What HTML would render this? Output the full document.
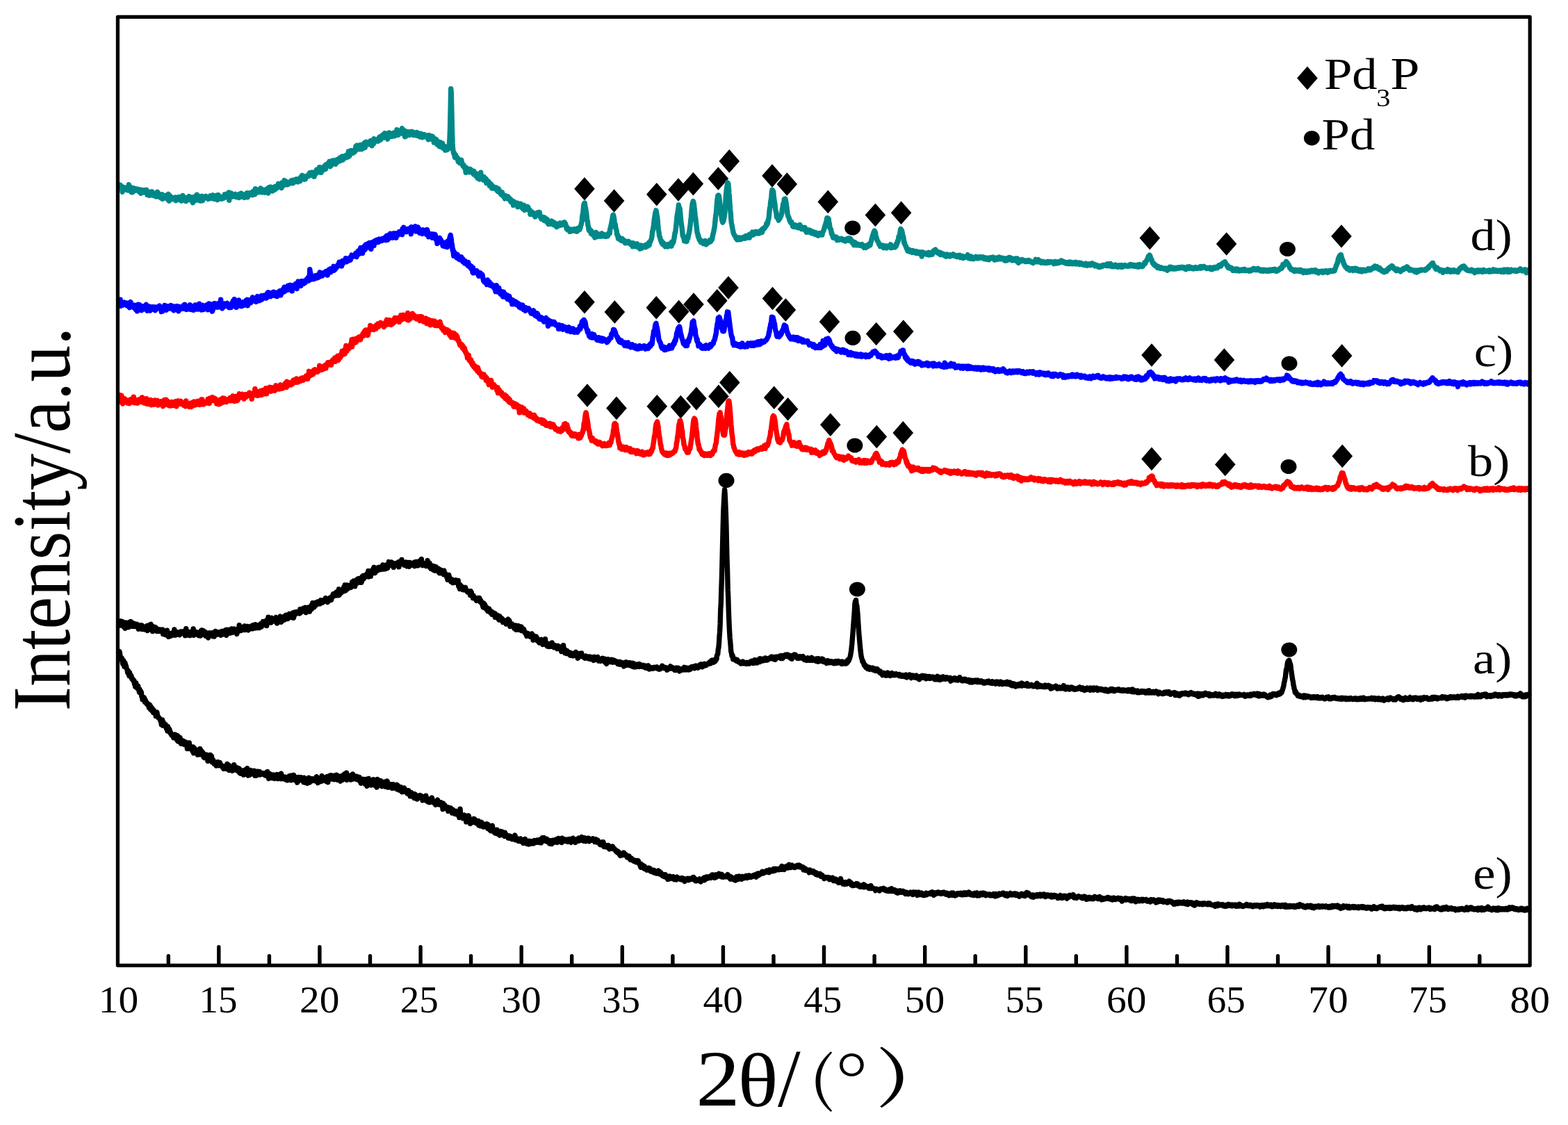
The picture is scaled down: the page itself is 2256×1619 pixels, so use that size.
<!DOCTYPE html>
<html lang="en"><head><meta charset="utf-8"><title>XRD patterns</title>
<style>html,body{margin:0;padding:0;background:#fff}body{width:2256px;height:1619px;overflow:hidden}svg{display:block}text{font-family:"Liberation Serif","Noto Serif CJK SC",serif;fill:#000}</style></head><body>
<svg width="2256" height="1619" viewBox="0 0 2256 1619">
<rect x="0" y="0" width="2256" height="1619" fill="#ffffff"/>
<g fill="#000">
<path d="M841.0 255.0l14.8 16.8l-14.8 16.8l-14.8 -16.8z"/>
<path d="M883.6 272.2l14.8 16.8l-14.8 16.8l-14.8 -16.8z"/>
<path d="M944.8 262.9l14.8 16.8l-14.8 16.8l-14.8 -16.8z"/>
<path d="M976.0 256.2l14.8 16.8l-14.8 16.8l-14.8 -16.8z"/>
<path d="M997.4 247.8l14.8 16.8l-14.8 16.8l-14.8 -16.8z"/>
<path d="M1033.4 240.2l14.8 16.8l-14.8 16.8l-14.8 -16.8z"/>
<path d="M1049.3 215.1l14.8 16.8l-14.8 16.8l-14.8 -16.8z"/>
<path d="M1111.0 236.2l14.8 16.8l-14.8 16.8l-14.8 -16.8z"/>
<path d="M1132.3 248.2l14.8 16.8l-14.8 16.8l-14.8 -16.8z"/>
<path d="M1191.3 273.6l14.8 16.8l-14.8 16.8l-14.8 -16.8z"/>
<path d="M1259.4 292.7l14.8 16.8l-14.8 16.8l-14.8 -16.8z"/>
<path d="M1296.6 289.5l14.8 16.8l-14.8 16.8l-14.8 -16.8z"/>
<path d="M1654.3 325.8l14.8 16.8l-14.8 16.8l-14.8 -16.8z"/>
<path d="M1764.6 334.2l14.8 16.8l-14.8 16.8l-14.8 -16.8z"/>
<path d="M1930.0 323.2l14.8 16.8l-14.8 16.8l-14.8 -16.8z"/>
<path d="M841.0 418.0l14.8 16.8l-14.8 16.8l-14.8 -16.8z"/>
<path d="M884.4 432.2l14.8 16.8l-14.8 16.8l-14.8 -16.8z"/>
<path d="M944.3 426.0l14.8 16.8l-14.8 16.8l-14.8 -16.8z"/>
<path d="M976.7 431.8l14.8 16.8l-14.8 16.8l-14.8 -16.8z"/>
<path d="M998.0 421.2l14.8 16.8l-14.8 16.8l-14.8 -16.8z"/>
<path d="M1031.8 415.9l14.8 16.8l-14.8 16.8l-14.8 -16.8z"/>
<path d="M1048.0 397.2l14.8 16.8l-14.8 16.8l-14.8 -16.8z"/>
<path d="M1111.5 412.7l14.8 16.8l-14.8 16.8l-14.8 -16.8z"/>
<path d="M1130.4 429.2l14.8 16.8l-14.8 16.8l-14.8 -16.8z"/>
<path d="M1193.5 446.2l14.8 16.8l-14.8 16.8l-14.8 -16.8z"/>
<path d="M1260.7 463.7l14.8 16.8l-14.8 16.8l-14.8 -16.8z"/>
<path d="M1299.8 460.2l14.8 16.8l-14.8 16.8l-14.8 -16.8z"/>
<path d="M1657.0 494.2l14.8 16.8l-14.8 16.8l-14.8 -16.8z"/>
<path d="M1761.4 501.2l14.8 16.8l-14.8 16.8l-14.8 -16.8z"/>
<path d="M1930.7 495.2l14.8 16.8l-14.8 16.8l-14.8 -16.8z"/>
<path d="M845.0 552.2l14.8 16.8l-14.8 16.8l-14.8 -16.8z"/>
<path d="M887.0 570.6l14.8 16.8l-14.8 16.8l-14.8 -16.8z"/>
<path d="M945.3 568.0l14.8 16.8l-14.8 16.8l-14.8 -16.8z"/>
<path d="M979.4 568.8l14.8 16.8l-14.8 16.8l-14.8 -16.8z"/>
<path d="M1002.0 556.8l14.8 16.8l-14.8 16.8l-14.8 -16.8z"/>
<path d="M1033.9 553.6l14.8 16.8l-14.8 16.8l-14.8 -16.8z"/>
<path d="M1049.8 533.7l14.8 16.8l-14.8 16.8l-14.8 -16.8z"/>
<path d="M1113.7 555.5l14.8 16.8l-14.8 16.8l-14.8 -16.8z"/>
<path d="M1133.6 572.0l14.8 16.8l-14.8 16.8l-14.8 -16.8z"/>
<path d="M1194.8 594.4l14.8 16.8l-14.8 16.8l-14.8 -16.8z"/>
<path d="M1261.3 611.7l14.8 16.8l-14.8 16.8l-14.8 -16.8z"/>
<path d="M1299.3 606.1l14.8 16.8l-14.8 16.8l-14.8 -16.8z"/>
<path d="M1657.0 643.6l14.8 16.8l-14.8 16.8l-14.8 -16.8z"/>
<path d="M1762.8 651.6l14.8 16.8l-14.8 16.8l-14.8 -16.8z"/>
<path d="M1931.3 639.6l14.8 16.8l-14.8 16.8l-14.8 -16.8z"/>
<ellipse cx="1226.7" cy="328.0" rx="11.5" ry="10.6"/>
<ellipse cx="1852.4" cy="358.5" rx="11.5" ry="10.6"/>
<ellipse cx="1227.0" cy="486.4" rx="11.5" ry="10.6"/>
<ellipse cx="1855.0" cy="523.0" rx="11.5" ry="10.6"/>
<ellipse cx="1229.9" cy="641.0" rx="11.5" ry="10.6"/>
<ellipse cx="1854.0" cy="671.5" rx="11.5" ry="10.6"/>
<ellipse cx="1045.0" cy="691.4" rx="11.5" ry="10.6"/>
<ellipse cx="1233.4" cy="848.0" rx="11.5" ry="10.6"/>
<ellipse cx="1854.8" cy="935.0" rx="11.5" ry="10.6"/>
</g>
<g fill="none" stroke-width="7.4" stroke-linejoin="round" stroke-linecap="round">
<polyline stroke="#000000" points="171.4,937.4 172.0,937.8 172.6,941.8 173.1,944.8 173.7,947.9 174.3,946.9 174.9,946.7 175.5,947.4 176.0,952.1 176.6,955.2 177.2,953.1 177.8,950.7 178.4,952.3 178.9,959.2 179.5,957.2 180.1,954.1 180.7,959.2 181.3,958.2 181.8,960.9 182.4,962.6 183.0,963.5 183.6,967.7 184.2,967.6 184.7,965.6 185.3,970.7 185.9,972.6 186.5,967.7 187.1,971.7 187.6,970.9 188.2,973.7 188.8,972.2 189.4,976.3 190.0,977.3 190.5,977.8 191.1,977.2 191.7,979.6 192.3,979.1 192.9,979.4 193.4,984.0 194.0,981.9 194.6,988.1 195.2,988.1 195.8,983.0 196.3,989.1 196.9,986.9 197.5,990.4 198.1,991.1 198.7,987.2 199.2,991.9 199.8,992.6 200.4,996.1 201.0,991.9 201.6,997.1 202.1,993.8 202.7,996.4 203.3,996.3 203.9,1002.5 204.5,1001.4 205.0,1006.7 205.6,1003.6 206.2,1005.1 206.8,1006.2 207.4,1003.9 207.9,1006.1 208.5,1010.3 209.1,1007.2 209.7,1009.6 210.3,1010.1 210.8,1012.5 211.4,1011.3 212.0,1012.7 212.6,1014.5 213.2,1015.0 213.7,1013.5 214.3,1018.2 214.9,1013.8 215.5,1014.6 216.1,1015.1 216.6,1020.9 217.2,1018.6 217.8,1018.1 218.4,1018.5 219.0,1022.9 219.5,1020.3 220.1,1020.5 220.7,1025.6 221.3,1022.1 221.9,1024.7 222.4,1026.0 223.0,1025.5 223.6,1026.9 224.2,1030.6 224.8,1026.9 225.3,1025.8 225.9,1025.2 226.5,1029.7 227.1,1030.3 227.7,1032.7 228.2,1032.1 228.8,1033.1 229.4,1033.5 230.0,1034.8 230.6,1037.0 231.1,1036.4 231.7,1038.1 232.3,1042.7 232.9,1040.0 233.5,1036.0 234.0,1044.1 234.6,1041.6 235.2,1039.4 235.8,1044.2 236.4,1042.9 236.9,1042.1 237.5,1042.7 238.1,1042.5 238.7,1045.4 239.3,1048.3 239.8,1045.7 240.4,1048.1 241.0,1052.0 241.6,1045.7 242.2,1049.9 242.7,1049.4 243.3,1048.7 243.9,1049.8 244.5,1053.1 245.1,1055.1 245.6,1053.9 246.2,1056.0 246.8,1058.0 247.4,1057.4 248.0,1058.9 248.5,1058.1 249.1,1058.4 249.7,1061.7 250.3,1059.2 250.9,1058.5 251.4,1060.3 252.0,1057.1 252.6,1058.9 253.2,1062.0 253.8,1062.0 254.3,1064.5 254.9,1061.4 255.5,1058.5 256.1,1066.7 256.7,1065.3 257.2,1061.1 257.8,1067.3 258.4,1064.9 259.0,1061.3 259.6,1065.0 260.1,1065.2 260.7,1070.3 261.3,1065.2 261.9,1066.6 262.5,1066.9 263.0,1066.9 263.6,1066.1 264.2,1069.0 264.8,1071.4 265.4,1070.8 265.9,1067.8 266.5,1067.8 267.1,1071.3 267.7,1070.0 268.3,1070.7 268.8,1068.9 269.4,1077.6 270.0,1075.7 270.6,1071.7 271.2,1076.2 271.7,1077.4 272.3,1068.9 272.9,1073.1 273.5,1073.5 274.1,1075.9 274.6,1074.4 275.2,1074.4 275.8,1075.2 276.4,1079.9 277.0,1081.1 277.5,1075.5 278.1,1075.1 278.7,1083.9 279.3,1076.1 279.9,1077.5 280.4,1079.4 281.0,1080.8 281.6,1082.5 282.2,1081.5 282.8,1079.1 283.3,1082.6 283.9,1082.3 284.5,1086.2 285.1,1082.1 285.7,1079.2 286.2,1080.0 286.8,1085.7 287.4,1081.1 288.0,1077.6 288.6,1081.2 289.1,1082.7 289.7,1085.7 290.3,1081.0 290.9,1085.2 291.5,1086.0 292.0,1083.2 292.6,1085.0 293.2,1090.0 293.8,1090.5 294.4,1088.9 294.9,1088.0 295.5,1090.1 296.1,1087.4 296.7,1087.7 297.3,1086.2 297.8,1088.3 298.4,1088.4 299.0,1095.3 299.6,1088.9 300.2,1092.7 300.7,1093.3 301.3,1090.3 301.9,1093.8 302.5,1086.5 303.1,1092.1 303.6,1094.4 304.2,1087.6 304.8,1091.0 305.4,1096.8 306.0,1094.5 306.5,1093.3 307.1,1095.7 307.7,1095.9 308.3,1099.4 308.9,1099.2 309.4,1097.9 310.0,1097.2 310.6,1098.8 311.2,1102.0 311.8,1099.8 312.3,1100.6 312.9,1099.0 313.5,1096.6 314.1,1098.2 314.7,1101.7 315.2,1100.8 315.8,1098.9 316.4,1097.5 317.0,1101.7 317.6,1100.9 318.1,1101.0 318.7,1101.2 319.3,1102.8 319.9,1103.0 320.5,1104.8 321.0,1105.0 321.6,1106.3 322.2,1105.4 322.8,1103.1 323.4,1104.0 323.9,1105.3 324.5,1103.4 325.1,1105.2 325.7,1106.4 326.3,1101.7 326.8,1099.4 327.4,1106.2 328.0,1103.6 328.6,1105.4 329.2,1101.2 329.7,1108.6 330.3,1106.7 330.9,1105.2 331.5,1105.0 332.1,1106.4 332.6,1105.9 333.2,1105.8 333.8,1103.9 334.4,1109.4 335.0,1106.3 335.5,1106.5 336.1,1106.4 336.7,1100.7 337.3,1107.2 337.9,1105.2 338.4,1105.3 339.0,1106.2 339.6,1104.0 340.2,1108.4 340.8,1105.1 341.3,1105.0 341.9,1105.5 342.5,1108.2 343.1,1110.0 343.7,1107.4 344.2,1105.9 344.8,1112.2 345.4,1107.7 346.0,1113.2 346.6,1110.5 347.1,1109.1 347.7,1109.1 348.3,1111.5 348.9,1112.3 349.5,1109.7 350.0,1112.4 350.6,1115.1 351.2,1110.1 351.8,1108.2 352.4,1108.7 352.9,1108.2 353.5,1110.2 354.1,1110.1 354.7,1108.8 355.3,1112.9 355.8,1105.6 356.4,1108.4 357.0,1116.0 357.6,1113.7 358.2,1112.6 358.7,1112.4 359.3,1115.3 359.9,1112.5 360.5,1111.4 361.1,1108.5 361.6,1111.2 362.2,1109.8 362.8,1110.1 363.4,1110.2 364.0,1111.9 364.5,1111.3 365.1,1114.1 365.7,1109.1 366.3,1111.7 366.9,1116.4 367.4,1112.4 368.0,1115.2 368.6,1115.3 369.2,1116.0 369.8,1114.9 370.3,1110.3 370.9,1113.0 371.5,1113.0 372.1,1110.4 372.7,1113.1 373.2,1111.4 373.8,1110.6 374.4,1115.0 375.0,1114.5 375.6,1113.0 376.1,1112.3 376.7,1113.0 377.3,1113.2 377.9,1113.0 378.5,1113.7 379.0,1112.8 379.6,1114.8 380.2,1115.2 380.8,1115.0 381.4,1112.9 381.9,1113.3 382.5,1116.1 383.1,1115.1 383.7,1115.9 384.3,1110.7 384.8,1110.6 385.4,1117.8 386.0,1117.9 386.6,1120.4 387.2,1118.9 387.7,1117.7 388.3,1117.3 388.9,1114.0 389.5,1119.5 390.1,1116.3 390.6,1118.9 391.2,1118.3 391.8,1118.4 392.4,1119.7 393.0,1116.4 393.5,1116.5 394.1,1115.2 394.7,1116.1 395.3,1120.6 395.9,1115.9 396.4,1119.4 397.0,1118.7 397.6,1118.5 398.2,1118.7 398.8,1114.6 399.3,1117.9 399.9,1120.7 400.5,1115.6 401.1,1117.2 401.7,1115.7 402.2,1117.9 402.8,1114.6 403.4,1120.6 404.0,1115.9 404.6,1113.2 405.1,1120.9 405.7,1119.3 406.3,1118.5 406.9,1119.0 407.5,1117.4 408.0,1118.1 408.6,1120.6 409.2,1121.2 409.8,1121.4 410.4,1119.8 410.9,1118.3 411.5,1119.1 412.1,1122.1 412.7,1122.9 413.3,1118.9 413.8,1118.7 414.4,1122.7 415.0,1121.6 415.6,1121.6 416.2,1117.1 416.7,1119.2 417.3,1118.9 417.9,1120.5 418.5,1116.2 419.1,1122.8 419.6,1120.5 420.2,1120.6 420.8,1116.7 421.4,1119.2 422.0,1122.1 422.5,1115.4 423.1,1119.8 423.7,1120.8 424.3,1117.9 424.9,1121.7 425.4,1119.5 426.0,1123.5 426.6,1122.3 427.2,1122.0 427.8,1126.2 428.3,1123.5 428.9,1124.4 429.5,1118.5 430.1,1119.6 430.7,1122.9 431.2,1123.0 431.8,1120.8 432.4,1122.8 433.0,1118.8 433.6,1121.9 434.1,1119.1 434.7,1122.7 435.3,1120.9 435.9,1120.4 436.5,1121.9 437.0,1125.7 437.6,1119.2 438.2,1120.2 438.8,1124.2 439.4,1121.0 439.9,1126.4 440.5,1123.2 441.1,1123.2 441.7,1124.1 442.3,1127.3 442.8,1124.8 443.4,1124.4 444.0,1123.6 444.6,1119.3 445.2,1120.7 445.7,1126.0 446.3,1124.4 446.9,1123.7 447.5,1124.0 448.1,1121.4 448.6,1123.4 449.2,1120.7 449.8,1123.6 450.4,1121.0 451.0,1122.0 451.5,1123.3 452.1,1121.3 452.7,1123.3 453.3,1122.7 453.9,1122.3 454.4,1124.3 455.0,1117.9 455.6,1117.7 456.2,1122.9 456.8,1123.9 457.3,1126.7 457.9,1124.1 458.5,1124.6 459.1,1120.9 459.7,1124.9 460.2,1124.9 460.8,1121.1 461.4,1121.6 462.0,1123.4 462.6,1124.2 463.1,1116.6 463.7,1123.3 464.3,1123.4 464.9,1122.1 465.5,1122.8 466.0,1122.9 466.6,1119.2 467.2,1122.2 467.8,1120.5 468.4,1118.8 468.9,1121.4 469.5,1124.4 470.1,1117.8 470.7,1117.5 471.3,1117.6 471.8,1125.9 472.4,1120.8 473.0,1121.2 473.6,1119.4 474.2,1118.9 474.7,1116.2 475.3,1121.0 475.9,1121.0 476.5,1115.6 477.1,1117.4 477.6,1117.8 478.2,1119.2 478.8,1119.5 479.4,1121.3 480.0,1121.7 480.5,1121.0 481.1,1121.6 481.7,1116.0 482.3,1117.5 482.9,1121.6 483.4,1119.8 484.0,1119.5 484.6,1115.3 485.2,1116.0 485.8,1122.3 486.3,1121.8 486.9,1120.7 487.5,1120.6 488.1,1117.5 488.7,1122.0 489.2,1123.2 489.8,1124.1 490.4,1119.9 491.0,1118.8 491.6,1116.4 492.1,1121.4 492.7,1122.5 493.3,1117.3 493.9,1119.5 494.5,1119.4 495.0,1118.1 495.6,1114.0 496.2,1118.9 496.8,1121.2 497.4,1116.6 497.9,1117.9 498.5,1112.2 499.1,1122.5 499.7,1120.5 500.3,1119.4 500.8,1118.5 501.4,1117.6 502.0,1118.7 502.6,1118.0 503.2,1118.1 503.7,1118.5 504.3,1118.9 504.9,1122.2 505.5,1115.5 506.1,1119.5 506.6,1117.6 507.2,1116.6 507.8,1114.0 508.4,1121.0 509.0,1117.5 509.5,1118.1 510.1,1120.8 510.7,1117.2 511.3,1119.7 511.9,1119.3 512.4,1121.2 513.0,1121.6 513.6,1117.3 514.2,1121.5 514.8,1119.4 515.3,1120.3 515.9,1120.0 516.5,1122.6 517.1,1118.5 517.7,1122.3 518.2,1124.7 518.8,1121.6 519.4,1127.2 520.0,1121.2 520.6,1123.7 521.1,1122.3 521.7,1122.2 522.3,1121.3 522.9,1122.8 523.5,1124.1 524.0,1122.5 524.6,1126.5 525.2,1128.2 525.8,1121.5 526.4,1127.1 526.9,1125.9 527.5,1126.2 528.1,1131.3 528.7,1128.4 529.3,1126.3 529.8,1125.8 530.4,1120.4 531.0,1127.1 531.6,1123.6 532.2,1125.7 532.7,1125.6 533.3,1127.6 533.9,1130.0 534.5,1127.6 535.1,1128.2 535.6,1124.6 536.2,1126.1 536.8,1126.8 537.4,1121.8 538.0,1129.8 538.5,1123.6 539.1,1122.4 539.7,1129.2 540.3,1130.4 540.9,1124.1 541.4,1124.4 542.0,1133.0 542.6,1126.2 543.2,1121.5 543.8,1124.8 544.3,1130.9 544.9,1128.1 545.5,1124.5 546.1,1129.7 546.7,1128.6 547.2,1126.4 547.8,1123.6 548.4,1128.4 549.0,1125.0 549.6,1127.5 550.1,1131.7 550.7,1129.0 551.3,1128.1 551.9,1128.2 552.5,1129.8 553.0,1130.3 553.6,1125.2 554.2,1128.6 554.8,1132.0 555.4,1129.8 555.9,1126.5 556.5,1126.8 557.1,1124.0 557.7,1127.2 558.3,1133.1 558.8,1129.7 559.4,1128.3 560.0,1129.2 560.6,1130.5 561.2,1130.6 561.7,1130.0 562.3,1129.0 562.9,1132.2 563.5,1134.3 564.1,1129.8 564.6,1130.1 565.2,1134.3 565.8,1128.6 566.4,1130.9 567.0,1131.7 567.5,1133.3 568.1,1132.6 568.7,1131.4 569.3,1134.2 569.9,1131.0 570.4,1129.9 571.0,1129.4 571.6,1135.8 572.2,1130.4 572.8,1135.5 573.3,1136.2 573.9,1136.8 574.5,1134.9 575.1,1134.3 575.7,1135.8 576.2,1134.4 576.8,1132.8 577.4,1138.4 578.0,1133.6 578.6,1139.7 579.1,1136.9 579.7,1135.0 580.3,1137.2 580.9,1139.4 581.5,1134.0 582.0,1135.5 582.6,1135.7 583.2,1138.7 583.8,1139.5 584.4,1138.9 584.9,1137.5 585.5,1138.1 586.1,1142.2 586.7,1142.3 587.3,1140.5 587.8,1137.7 588.4,1142.4 589.0,1142.0 589.6,1142.3 590.2,1145.8 590.7,1144.0 591.3,1140.3 591.9,1140.6 592.5,1146.0 593.1,1143.8 593.6,1145.8 594.2,1144.0 594.8,1142.6 595.4,1145.6 596.0,1148.6 596.5,1146.0 597.1,1142.8 597.7,1144.6 598.3,1144.1 598.9,1145.7 599.4,1147.7 600.0,1150.1 600.6,1146.6 601.2,1145.4 601.8,1146.7 602.3,1146.8 602.9,1145.9 603.5,1146.9 604.1,1147.0 604.7,1144.5 605.2,1148.4 605.8,1146.7 606.4,1145.5 607.0,1148.9 607.6,1147.0 608.1,1151.9 608.7,1149.3 609.3,1148.5 609.9,1146.8 610.5,1147.7 611.0,1150.6 611.6,1147.5 612.2,1151.0 612.8,1145.2 613.4,1150.6 613.9,1152.4 614.5,1151.8 615.1,1151.5 615.7,1153.9 616.3,1150.0 616.8,1149.9 617.4,1152.3 618.0,1154.7 618.6,1153.2 619.2,1152.1 619.7,1153.4 620.3,1154.0 620.9,1150.9 621.5,1148.0 622.1,1152.2 622.6,1151.6 623.2,1153.7 623.8,1152.5 624.4,1153.2 625.0,1155.9 625.5,1155.1 626.1,1154.7 626.7,1158.2 627.3,1153.6 627.9,1153.7 628.4,1157.1 629.0,1152.2 629.6,1151.2 630.2,1157.6 630.8,1155.8 631.3,1156.6 631.9,1157.0 632.5,1157.9 633.1,1155.3 633.7,1156.6 634.2,1154.7 634.8,1157.7 635.4,1158.2 636.0,1157.0 636.6,1159.6 637.1,1164.6 637.7,1156.3 638.3,1160.8 638.9,1161.5 639.5,1162.2 640.0,1158.7 640.6,1163.4 641.2,1162.6 641.8,1161.4 642.4,1161.2 642.9,1162.7 643.5,1164.2 644.1,1164.2 644.7,1167.3 645.3,1162.0 645.8,1164.4 646.4,1162.6 647.0,1165.6 647.6,1164.9 648.2,1163.9 648.7,1163.0 649.3,1164.6 649.9,1167.2 650.5,1170.1 651.1,1168.9 651.6,1165.1 652.2,1166.9 652.8,1168.4 653.4,1168.5 654.0,1169.4 654.5,1171.4 655.1,1170.7 655.7,1169.4 656.3,1167.3 656.9,1170.9 657.4,1168.4 658.0,1171.6 658.6,1172.7 659.2,1169.4 659.8,1171.9 660.3,1171.7 660.9,1176.5 661.5,1173.9 662.1,1164.1 662.7,1174.9 663.2,1175.3 663.8,1174.6 664.4,1174.8 665.0,1177.2 665.6,1177.6 666.1,1177.2 666.7,1174.3 667.3,1175.8 667.9,1173.1 668.5,1173.3 669.0,1175.5 669.6,1174.8 670.2,1176.6 670.8,1182.9 671.4,1179.2 671.9,1176.7 672.5,1174.3 673.1,1176.9 673.7,1175.6 674.3,1173.9 674.8,1179.8 675.4,1177.4 676.0,1179.6 676.6,1185.3 677.2,1180.1 677.7,1180.2 678.3,1181.1 678.9,1180.2 679.5,1179.3 680.1,1180.6 680.6,1183.4 681.2,1180.6 681.8,1178.4 682.4,1178.6 683.0,1179.2 683.5,1181.4 684.1,1182.6 684.7,1183.0 685.3,1184.8 685.9,1182.5 686.4,1185.1 687.0,1184.6 687.6,1185.9 688.2,1181.3 688.8,1187.7 689.3,1182.2 689.9,1183.0 690.5,1186.7 691.1,1184.4 691.7,1188.7 692.2,1185.6 692.8,1183.4 693.4,1186.0 694.0,1185.2 694.6,1189.4 695.1,1189.9 695.7,1188.4 696.3,1186.4 696.9,1187.6 697.5,1189.7 698.0,1186.3 698.6,1186.6 699.2,1190.3 699.8,1190.5 700.4,1185.7 700.9,1189.1 701.5,1186.1 702.1,1192.4 702.7,1190.1 703.3,1187.8 703.8,1188.5 704.4,1189.2 705.0,1194.6 705.6,1192.9 706.2,1189.3 706.7,1195.9 707.3,1195.2 707.9,1190.9 708.5,1188.2 709.1,1195.7 709.6,1193.1 710.2,1194.5 710.8,1194.2 711.4,1198.1 712.0,1198.9 712.5,1197.8 713.1,1196.2 713.7,1197.3 714.3,1198.2 714.9,1194.2 715.4,1199.8 716.0,1197.0 716.6,1198.4 717.2,1198.3 717.8,1199.8 718.3,1200.1 718.9,1202.3 719.5,1197.4 720.1,1196.4 720.7,1198.4 721.2,1197.0 721.8,1200.0 722.4,1197.0 723.0,1199.0 723.6,1200.8 724.1,1201.4 724.7,1200.3 725.3,1203.1 725.9,1203.4 726.5,1198.2 727.0,1202.5 727.6,1202.5 728.2,1201.9 728.8,1201.5 729.4,1202.9 729.9,1203.7 730.5,1203.8 731.1,1206.1 731.7,1205.7 732.3,1203.1 732.8,1203.0 733.4,1206.2 734.0,1203.4 734.6,1205.0 735.2,1205.6 735.7,1206.7 736.3,1205.8 736.9,1207.7 737.5,1204.3 738.1,1206.6 738.6,1204.4 739.2,1206.2 739.8,1206.4 740.4,1204.8 741.0,1202.0 741.5,1208.8 742.1,1207.9 742.7,1207.6 743.3,1206.2 743.9,1207.0 744.4,1208.6 745.0,1208.0 745.6,1210.4 746.2,1208.8 746.8,1207.5 747.3,1210.6 747.9,1208.6 748.5,1210.5 749.1,1206.9 749.7,1209.6 750.2,1211.2 750.8,1208.8 751.4,1209.9 752.0,1211.0 752.6,1210.1 753.1,1213.4 753.7,1209.9 754.3,1210.3 754.9,1210.7 755.5,1207.5 756.0,1208.5 756.6,1212.4 757.2,1211.0 757.8,1214.2 758.4,1211.5 758.9,1211.4 759.5,1213.7 760.1,1212.4 760.7,1214.9 761.3,1210.2 761.8,1213.0 762.4,1213.4 763.0,1213.2 763.6,1214.2 764.2,1213.9 764.7,1212.0 765.3,1210.8 765.9,1213.4 766.5,1211.6 767.1,1213.2 767.6,1213.8 768.2,1211.6 768.8,1209.5 769.4,1210.5 770.0,1212.2 770.5,1210.1 771.1,1212.5 771.7,1210.2 772.3,1210.3 772.9,1209.0 773.4,1210.0 774.0,1212.3 774.6,1210.0 775.2,1210.2 775.8,1209.6 776.3,1212.4 776.9,1208.3 777.5,1209.7 778.1,1212.2 778.7,1212.8 779.2,1209.5 779.8,1211.2 780.4,1205.7 781.0,1210.4 781.6,1209.4 782.1,1206.6 782.7,1205.6 783.3,1207.9 783.9,1209.3 784.5,1209.6 785.0,1209.3 785.6,1210.7 786.2,1210.8 786.8,1207.3 787.4,1209.1 787.9,1209.0 788.5,1211.8 789.1,1209.2 789.7,1211.9 790.3,1210.2 790.8,1214.1 791.4,1209.8 792.0,1209.9 792.6,1209.8 793.2,1210.4 793.7,1214.5 794.3,1209.7 794.9,1209.3 795.5,1210.7 796.1,1212.3 796.6,1209.5 797.2,1212.4 797.8,1212.4 798.4,1210.1 799.0,1209.6 799.5,1208.4 800.1,1209.1 800.7,1208.1 801.3,1211.6 801.9,1212.3 802.4,1209.1 803.0,1209.6 803.6,1206.5 804.2,1209.0 804.8,1210.5 805.3,1210.5 805.9,1210.3 806.5,1211.5 807.1,1210.2 807.7,1209.3 808.2,1212.5 808.8,1206.3 809.4,1207.3 810.0,1207.8 810.6,1207.7 811.1,1207.6 811.7,1208.5 812.3,1207.8 812.9,1209.1 813.5,1210.5 814.0,1209.8 814.6,1210.2 815.2,1208.5 815.8,1208.2 816.4,1210.6 816.9,1211.4 817.5,1210.2 818.1,1211.1 818.7,1210.7 819.3,1210.7 819.8,1207.4 820.4,1210.9 821.0,1210.1 821.6,1212.4 822.2,1210.1 822.7,1209.7 823.3,1208.9 823.9,1209.3 824.5,1206.2 825.1,1208.5 825.6,1208.8 826.2,1210.7 826.8,1208.1 827.4,1209.6 828.0,1212.5 828.5,1208.6 829.1,1210.6 829.7,1208.0 830.3,1208.4 830.9,1208.9 831.4,1209.4 832.0,1207.0 832.6,1206.1 833.2,1210.2 833.8,1208.1 834.3,1209.1 834.9,1209.3 835.5,1208.9 836.1,1207.1 836.7,1207.1 837.2,1204.6 837.8,1207.2 838.4,1206.2 839.0,1207.0 839.6,1210.2 840.1,1208.5 840.7,1207.7 841.3,1205.7 841.9,1209.2 842.5,1210.7 843.0,1207.1 843.6,1209.2 844.2,1207.8 844.8,1208.5 845.4,1208.2 845.9,1206.2 846.5,1208.0 847.1,1206.2 847.7,1210.9 848.3,1210.3 848.8,1208.7 849.4,1209.1 850.0,1208.8 850.6,1209.1 851.2,1209.2 851.7,1208.5 852.3,1208.6 852.9,1206.8 853.5,1207.3 854.1,1207.8 854.6,1209.0 855.2,1208.0 855.8,1211.5 856.4,1208.2 857.0,1207.9 857.5,1209.2 858.1,1210.4 858.7,1212.0 859.3,1211.0 859.9,1209.1 860.4,1210.2 861.0,1212.7 861.6,1212.1 862.2,1213.5 862.8,1212.6 863.3,1215.6 863.9,1215.7 864.5,1215.5 865.1,1214.3 865.7,1212.0 866.2,1212.8 866.8,1215.7 867.4,1216.7 868.0,1211.7 868.6,1215.8 869.1,1218.5 869.7,1218.5 870.3,1216.4 870.9,1218.2 871.5,1217.3 872.0,1216.9 872.6,1219.0 873.2,1219.2 873.8,1217.0 874.4,1216.7 874.9,1216.5 875.5,1216.6 876.1,1220.9 876.7,1221.9 877.3,1219.6 877.8,1221.0 878.4,1218.5 879.0,1219.6 879.6,1221.2 880.2,1220.5 880.7,1220.3 881.3,1218.1 881.9,1218.8 882.5,1220.7 883.1,1220.9 883.6,1222.0 884.2,1221.7 884.8,1222.7 885.4,1223.6 886.0,1224.8 886.5,1224.5 887.1,1224.0 887.7,1224.8 888.3,1227.0 888.9,1225.9 889.4,1225.3 890.0,1225.8 890.6,1228.3 891.2,1229.2 891.8,1230.6 892.3,1228.7 892.9,1231.4 893.5,1229.0 894.1,1229.1 894.7,1228.5 895.2,1230.0 895.8,1230.7 896.4,1229.2 897.0,1228.6 897.6,1227.2 898.1,1229.8 898.7,1229.4 899.3,1229.9 899.9,1229.6 900.5,1229.7 901.0,1230.8 901.6,1232.4 902.2,1233.6 902.8,1232.5 903.4,1233.3 903.9,1232.9 904.5,1233.4 905.1,1232.0 905.7,1235.6 906.3,1235.6 906.8,1237.2 907.4,1234.7 908.0,1236.1 908.6,1235.1 909.2,1237.1 909.7,1236.9 910.3,1238.2 910.9,1237.4 911.5,1238.8 912.1,1237.6 912.6,1239.5 913.2,1238.6 913.8,1238.8 914.4,1239.9 915.0,1240.6 915.5,1238.4 916.1,1238.4 916.7,1241.0 917.3,1240.9 917.9,1238.5 918.4,1239.3 919.0,1241.0 919.6,1243.0 920.2,1243.5 920.8,1245.2 921.3,1246.0 921.9,1248.2 922.5,1243.5 923.1,1245.9 923.7,1247.8 924.2,1245.0 924.8,1245.2 925.4,1247.8 926.0,1249.4 926.6,1250.0 927.1,1246.3 927.7,1247.5 928.3,1249.3 928.9,1248.9 929.5,1250.2 930.0,1250.1 930.6,1252.3 931.2,1249.9 931.8,1250.3 932.4,1250.2 932.9,1251.7 933.5,1249.0 934.1,1251.4 934.7,1250.2 935.3,1249.8 935.8,1253.5 936.4,1252.9 937.0,1254.2 937.6,1252.9 938.2,1253.5 938.7,1252.9 939.3,1253.6 939.9,1252.4 940.5,1255.4 941.1,1252.3 941.6,1255.9 942.2,1253.7 942.8,1255.4 943.4,1254.7 944.0,1255.3 944.5,1256.9 945.1,1255.4 945.7,1254.3 946.3,1256.0 946.9,1256.7 947.4,1252.9 948.0,1257.5 948.6,1257.8 949.2,1254.3 949.8,1256.6 950.3,1258.1 950.9,1255.8 951.5,1257.2 952.1,1257.7 952.7,1259.3 953.2,1260.5 953.8,1259.4 954.4,1259.8 955.0,1261.2 955.6,1260.8 956.1,1260.1 956.7,1262.0 957.3,1258.6 957.9,1260.8 958.5,1260.3 959.0,1260.5 959.6,1261.8 960.2,1262.0 960.8,1265.4 961.4,1263.4 961.9,1263.3 962.5,1265.1 963.1,1264.4 963.7,1260.9 964.3,1263.4 964.8,1264.1 965.4,1262.5 966.0,1263.7 966.6,1262.9 967.2,1264.1 967.7,1261.8 968.3,1261.5 968.9,1263.3 969.5,1264.3 970.1,1265.6 970.6,1263.5 971.2,1262.8 971.8,1264.8 972.4,1263.7 973.0,1266.1 973.5,1264.0 974.1,1262.1 974.7,1263.9 975.3,1263.9 975.9,1263.6 976.4,1264.4 977.0,1264.5 977.6,1264.9 978.2,1264.5 978.8,1265.7 979.3,1265.7 979.9,1265.5 980.5,1265.7 981.1,1263.4 981.7,1263.8 982.2,1264.9 982.8,1266.4 983.4,1264.4 984.0,1265.7 984.6,1266.4 985.1,1268.4 985.7,1266.2 986.3,1265.2 986.9,1267.0 987.5,1265.8 988.0,1265.0 988.6,1266.6 989.2,1264.2 989.8,1265.6 990.4,1265.6 990.9,1266.7 991.5,1264.4 992.1,1264.3 992.7,1265.3 993.3,1265.3 993.8,1265.5 994.4,1264.7 995.0,1265.4 995.6,1265.4 996.2,1264.6 996.7,1262.9 997.3,1265.4 997.9,1262.4 998.5,1264.1 999.1,1265.7 999.6,1264.3 1000.2,1266.8 1000.8,1267.9 1001.4,1267.8 1002.0,1266.8 1002.5,1267.6 1003.1,1266.1 1003.7,1267.2 1004.3,1267.3 1004.9,1266.9 1005.4,1267.0 1006.0,1266.6 1006.6,1264.7 1007.2,1267.3 1007.8,1267.1 1008.3,1269.0 1008.9,1267.3 1009.5,1266.3 1010.1,1267.0 1010.7,1266.4 1011.2,1265.4 1011.8,1264.8 1012.4,1263.5 1013.0,1265.2 1013.6,1266.7 1014.1,1262.8 1014.7,1263.7 1015.3,1265.4 1015.9,1264.6 1016.5,1264.6 1017.0,1261.8 1017.6,1263.0 1018.2,1264.0 1018.8,1263.9 1019.4,1263.5 1019.9,1262.0 1020.5,1263.4 1021.1,1261.3 1021.7,1261.4 1022.3,1260.9 1022.8,1263.4 1023.4,1261.3 1024.0,1261.5 1024.6,1258.9 1025.2,1262.3 1025.7,1261.5 1026.3,1259.2 1026.9,1259.3 1027.5,1262.8 1028.1,1260.2 1028.6,1263.3 1029.2,1261.0 1029.8,1258.9 1030.4,1262.5 1031.0,1261.6 1031.5,1261.5 1032.1,1259.8 1032.7,1259.7 1033.3,1260.6 1033.9,1258.5 1034.4,1257.2 1035.0,1260.3 1035.6,1258.9 1036.2,1261.2 1036.8,1259.7 1037.3,1260.0 1037.9,1260.4 1038.5,1258.3 1039.1,1262.1 1039.7,1260.2 1040.2,1260.6 1040.8,1262.3 1041.4,1260.8 1042.0,1261.6 1042.6,1261.0 1043.1,1261.4 1043.7,1260.8 1044.3,1261.7 1044.9,1260.3 1045.5,1261.0 1046.0,1259.8 1046.6,1262.0 1047.2,1258.6 1047.8,1261.4 1048.4,1261.9 1048.9,1262.2 1049.5,1262.2 1050.1,1264.0 1050.7,1265.1 1051.3,1262.7 1051.8,1261.7 1052.4,1262.8 1053.0,1263.3 1053.6,1264.1 1054.2,1265.2 1054.7,1265.5 1055.3,1263.9 1055.9,1264.3 1056.5,1264.4 1057.1,1263.3 1057.6,1263.8 1058.2,1267.0 1058.8,1264.0 1059.4,1263.1 1060.0,1261.7 1060.5,1264.8 1061.1,1263.2 1061.7,1262.6 1062.3,1265.5 1062.9,1264.3 1063.4,1260.9 1064.0,1262.3 1064.6,1263.7 1065.2,1263.6 1065.8,1261.8 1066.3,1264.9 1066.9,1265.2 1067.5,1262.1 1068.1,1261.4 1068.7,1261.7 1069.2,1263.6 1069.8,1263.9 1070.4,1262.8 1071.0,1261.8 1071.6,1262.2 1072.1,1262.8 1072.7,1261.0 1073.3,1260.5 1073.9,1262.1 1074.5,1263.5 1075.0,1262.3 1075.6,1262.2 1076.2,1261.2 1076.8,1262.7 1077.4,1259.9 1077.9,1261.6 1078.5,1261.0 1079.1,1261.5 1079.7,1260.7 1080.3,1262.4 1080.8,1261.5 1081.4,1260.8 1082.0,1261.8 1082.6,1260.9 1083.2,1260.2 1083.7,1259.9 1084.3,1261.2 1084.9,1259.2 1085.5,1259.9 1086.1,1259.8 1086.6,1260.4 1087.2,1259.8 1087.8,1262.2 1088.4,1257.9 1089.0,1260.1 1089.5,1259.2 1090.1,1260.1 1090.7,1257.1 1091.3,1259.9 1091.9,1257.0 1092.4,1259.0 1093.0,1258.6 1093.6,1257.9 1094.2,1256.8 1094.8,1256.5 1095.3,1257.2 1095.9,1256.0 1096.5,1254.4 1097.1,1254.3 1097.7,1256.9 1098.2,1256.8 1098.8,1256.3 1099.4,1255.6 1100.0,1255.7 1100.6,1255.6 1101.1,1255.1 1101.7,1253.8 1102.3,1253.7 1102.9,1253.1 1103.5,1254.3 1104.0,1253.0 1104.6,1253.7 1105.2,1255.3 1105.8,1253.4 1106.4,1254.9 1106.9,1255.5 1107.5,1251.8 1108.1,1252.1 1108.7,1254.1 1109.3,1252.6 1109.8,1253.7 1110.4,1253.5 1111.0,1251.8 1111.6,1252.9 1112.2,1253.6 1112.7,1252.5 1113.3,1250.4 1113.9,1251.1 1114.5,1250.7 1115.1,1253.0 1115.6,1251.0 1116.2,1250.5 1116.8,1251.2 1117.4,1251.7 1118.0,1250.6 1118.5,1251.1 1119.1,1250.8 1119.7,1251.6 1120.3,1251.8 1120.9,1251.0 1121.4,1250.1 1122.0,1250.9 1122.6,1249.3 1123.2,1251.3 1123.8,1250.2 1124.3,1249.7 1124.9,1246.4 1125.5,1251.4 1126.1,1250.1 1126.7,1249.7 1127.2,1248.4 1127.8,1249.0 1128.4,1251.4 1129.0,1247.5 1129.6,1249.2 1130.1,1249.0 1130.7,1248.4 1131.3,1248.5 1131.9,1246.7 1132.5,1248.3 1133.0,1245.9 1133.6,1249.1 1134.2,1247.8 1134.8,1245.9 1135.4,1244.4 1135.9,1246.9 1136.5,1247.3 1137.1,1245.6 1137.7,1248.6 1138.3,1247.0 1138.8,1246.1 1139.4,1245.0 1140.0,1246.4 1140.6,1246.4 1141.2,1247.4 1141.7,1248.0 1142.3,1246.9 1142.9,1247.5 1143.5,1248.6 1144.1,1247.7 1144.6,1246.6 1145.2,1247.5 1145.8,1246.1 1146.4,1247.1 1147.0,1246.6 1147.5,1245.3 1148.1,1247.2 1148.7,1246.6 1149.3,1247.3 1149.9,1245.0 1150.4,1247.8 1151.0,1247.9 1151.6,1246.3 1152.2,1246.8 1152.8,1247.2 1153.3,1247.5 1153.9,1248.8 1154.5,1247.6 1155.1,1247.6 1155.7,1249.0 1156.2,1251.8 1156.8,1249.6 1157.4,1249.2 1158.0,1249.7 1158.6,1251.2 1159.1,1252.6 1159.7,1250.7 1160.3,1252.0 1160.9,1252.2 1161.5,1252.7 1162.0,1252.5 1162.6,1253.7 1163.2,1253.5 1163.8,1252.3 1164.4,1255.8 1164.9,1251.9 1165.5,1252.1 1166.1,1254.9 1166.7,1254.2 1167.3,1253.9 1167.8,1254.5 1168.4,1255.1 1169.0,1254.0 1169.6,1253.9 1170.2,1253.6 1170.7,1254.0 1171.3,1254.4 1171.9,1256.8 1172.5,1256.3 1173.1,1257.0 1173.6,1256.3 1174.2,1258.5 1174.8,1256.1 1175.4,1258.6 1176.0,1259.1 1176.5,1258.0 1177.1,1257.6 1177.7,1259.2 1178.3,1257.9 1178.9,1257.6 1179.4,1258.5 1180.0,1257.4 1180.6,1258.6 1181.2,1261.2 1181.8,1259.0 1182.3,1260.9 1182.9,1259.4 1183.5,1261.1 1184.1,1261.1 1184.7,1261.6 1185.2,1262.8 1185.8,1264.5 1186.4,1262.3 1187.0,1263.9 1187.6,1263.0 1188.1,1263.6 1188.7,1262.5 1189.3,1262.4 1189.9,1263.2 1190.5,1262.8 1191.0,1263.7 1191.6,1262.6 1192.2,1263.8 1192.8,1264.0 1193.4,1265.7 1193.9,1265.6 1194.5,1264.4 1195.1,1263.5 1195.7,1264.7 1196.3,1265.1 1196.8,1264.3 1197.4,1263.9 1198.0,1263.2 1198.6,1265.3 1199.2,1267.6 1199.7,1265.8 1200.3,1266.6 1200.9,1266.9 1201.5,1267.2 1202.1,1267.7 1202.6,1265.1 1203.2,1267.2 1203.8,1268.0 1204.4,1267.8 1205.0,1269.3 1205.5,1267.8 1206.1,1269.3 1206.7,1270.3 1207.3,1268.3 1207.9,1268.6 1208.4,1268.4 1209.0,1269.6 1209.6,1264.5 1210.2,1267.7 1210.8,1269.1 1211.3,1270.6 1211.9,1270.6 1212.5,1269.4 1213.1,1272.1 1213.7,1270.8 1214.2,1270.3 1214.8,1271.6 1215.4,1272.5 1216.0,1271.1 1216.6,1269.7 1217.1,1270.7 1217.7,1271.3 1218.3,1272.1 1218.9,1270.1 1219.5,1271.3 1220.0,1269.8 1220.6,1271.1 1221.2,1269.7 1221.8,1268.1 1222.4,1269.8 1222.9,1270.6 1223.5,1270.3 1224.1,1270.2 1224.7,1273.6 1225.3,1273.9 1225.8,1273.5 1226.4,1272.8 1227.0,1274.6 1227.6,1272.9 1228.2,1273.5 1228.7,1274.0 1229.3,1273.0 1229.9,1274.1 1230.5,1272.5 1231.1,1272.5 1231.6,1272.9 1232.2,1271.7 1232.8,1272.0 1233.4,1274.0 1234.0,1271.8 1234.5,1274.7 1235.1,1274.1 1235.7,1275.2 1236.3,1274.9 1236.9,1275.0 1237.4,1276.3 1238.0,1274.6 1238.6,1274.7 1239.2,1276.0 1239.8,1274.4 1240.3,1276.1 1240.9,1275.7 1241.5,1274.5 1242.1,1273.8 1242.7,1273.0 1243.2,1276.8 1243.8,1273.6 1244.4,1273.9 1245.0,1276.0 1245.6,1275.8 1246.1,1275.8 1246.7,1275.9 1247.3,1275.8 1247.9,1275.6 1248.5,1276.0 1249.0,1277.5 1249.6,1278.1 1250.2,1278.4 1250.8,1277.3 1251.4,1275.2 1251.9,1277.8 1252.5,1277.1 1253.1,1274.7 1253.7,1278.6 1254.3,1277.7 1254.8,1277.5 1255.4,1277.9 1256.0,1278.1 1256.6,1278.4 1257.2,1278.6 1257.7,1278.8 1258.3,1279.5 1258.9,1279.5 1259.5,1281.6 1260.1,1279.6 1260.6,1279.1 1261.2,1279.1 1261.8,1280.2 1262.4,1280.1 1263.0,1280.4 1263.5,1280.1 1264.1,1280.3 1264.7,1281.3 1265.3,1281.8 1265.9,1280.8 1266.4,1280.2 1267.0,1279.1 1267.6,1278.9 1268.2,1279.9 1268.8,1279.6 1269.3,1279.7 1269.9,1278.8 1270.5,1279.8 1271.1,1278.2 1271.7,1279.0 1272.2,1279.4 1272.8,1280.8 1273.4,1279.8 1274.0,1279.7 1274.6,1280.9 1275.1,1280.8 1275.7,1282.0 1276.3,1281.6 1276.9,1281.7 1277.5,1281.4 1278.0,1282.3 1278.6,1281.0 1279.2,1280.2 1279.8,1282.4 1280.4,1281.1 1280.9,1281.5 1281.5,1282.0 1282.1,1282.3 1282.7,1278.7 1283.3,1280.5 1283.8,1282.6 1284.4,1280.0 1285.0,1282.0 1285.6,1281.3 1286.2,1280.9 1286.7,1281.8 1287.3,1280.5 1287.9,1282.7 1288.5,1283.7 1289.1,1281.6 1289.6,1282.6 1290.2,1284.5 1290.8,1284.0 1291.4,1283.5 1292.0,1285.1 1292.5,1282.2 1293.1,1283.4 1293.7,1283.6 1294.3,1283.1 1294.9,1284.1 1295.4,1281.8 1296.0,1283.3 1296.6,1282.5 1297.2,1284.3 1297.8,1284.1 1298.3,1282.6 1298.9,1282.3 1299.5,1283.4 1300.1,1282.9 1300.7,1283.4 1301.2,1284.6 1301.8,1284.1 1302.4,1286.4 1303.0,1285.0 1303.6,1284.6 1304.1,1284.2 1304.7,1284.9 1305.3,1286.4 1305.9,1285.9 1306.5,1286.8 1307.0,1286.7 1307.6,1286.1 1308.2,1285.0 1308.8,1285.5 1309.4,1285.7 1309.9,1284.1 1310.5,1285.9 1311.1,1284.6 1311.7,1285.4 1312.3,1284.9 1312.8,1285.7 1313.4,1287.4 1314.0,1283.9 1314.6,1284.9 1315.2,1286.7 1315.7,1284.1 1316.3,1284.9 1316.9,1285.1 1317.5,1285.6 1318.1,1284.1 1318.6,1286.0 1319.2,1286.5 1319.8,1288.4 1320.4,1286.2 1321.0,1285.9 1321.5,1286.6 1322.1,1284.1 1322.7,1286.6 1323.3,1287.6 1323.9,1286.0 1324.4,1285.9 1325.0,1285.7 1325.6,1286.1 1326.2,1285.0 1326.8,1287.8 1327.3,1286.3 1327.9,1286.5 1328.5,1288.5 1329.1,1287.1 1329.7,1286.7 1330.2,1288.5 1330.8,1287.1 1331.4,1287.7 1332.0,1286.2 1332.6,1285.0 1333.1,1286.6 1333.7,1287.6 1334.3,1285.7 1334.9,1286.2 1335.5,1286.3 1336.0,1285.7 1336.6,1285.4 1337.2,1286.0 1337.8,1285.6 1338.4,1285.0 1338.9,1286.5 1339.5,1286.4 1340.1,1286.2 1340.7,1286.6 1341.3,1283.7 1341.8,1286.4 1342.4,1286.3 1343.0,1284.5 1343.6,1288.3 1344.2,1286.9 1344.7,1286.2 1345.3,1286.3 1345.9,1286.7 1346.5,1286.3 1347.1,1284.6 1347.6,1285.4 1348.2,1285.8 1348.8,1285.7 1349.4,1285.7 1350.0,1283.9 1350.5,1284.3 1351.1,1285.3 1351.7,1284.6 1352.3,1285.5 1352.9,1284.7 1353.4,1286.1 1354.0,1285.7 1354.6,1286.2 1355.2,1285.6 1355.8,1284.8 1356.3,1284.4 1356.9,1285.4 1357.5,1284.8 1358.1,1284.1 1358.7,1285.0 1359.2,1286.2 1359.8,1286.7 1360.4,1286.4 1361.0,1287.0 1361.6,1285.5 1362.1,1285.8 1362.7,1285.2 1363.3,1285.4 1363.9,1287.6 1364.5,1286.7 1365.0,1286.9 1365.6,1288.8 1366.2,1288.3 1366.8,1285.9 1367.4,1287.6 1367.9,1286.1 1368.5,1287.7 1369.1,1285.1 1369.7,1285.9 1370.3,1285.9 1370.8,1288.4 1371.4,1285.0 1372.0,1287.5 1372.6,1287.5 1373.2,1286.7 1373.7,1287.4 1374.3,1289.0 1374.9,1287.0 1375.5,1286.6 1376.1,1288.1 1376.6,1287.5 1377.2,1285.8 1377.8,1286.9 1378.4,1286.9 1379.0,1285.6 1379.5,1285.7 1380.1,1286.0 1380.7,1285.6 1381.3,1287.3 1381.9,1287.2 1382.4,1285.2 1383.0,1287.0 1383.6,1287.7 1384.2,1286.4 1384.8,1287.3 1385.3,1287.7 1385.9,1285.8 1386.5,1286.8 1387.1,1284.8 1387.7,1287.4 1388.2,1285.9 1388.8,1285.2 1389.4,1284.8 1390.0,1284.9 1390.6,1287.5 1391.1,1285.5 1391.7,1285.7 1392.3,1285.8 1392.9,1284.8 1393.5,1286.8 1394.0,1283.9 1394.6,1287.1 1395.2,1285.7 1395.8,1286.5 1396.4,1287.0 1396.9,1287.6 1397.5,1285.9 1398.1,1287.7 1398.7,1287.3 1399.3,1287.3 1399.8,1287.2 1400.4,1288.4 1401.0,1287.7 1401.6,1288.3 1402.2,1287.9 1402.7,1285.3 1403.3,1287.0 1403.9,1287.9 1404.5,1286.2 1405.1,1285.5 1405.6,1285.0 1406.2,1288.9 1406.8,1286.4 1407.4,1287.4 1408.0,1286.4 1408.5,1287.7 1409.1,1288.8 1409.7,1286.0 1410.3,1287.2 1410.9,1286.4 1411.4,1285.3 1412.0,1286.1 1412.6,1286.9 1413.2,1287.9 1413.8,1287.9 1414.3,1286.7 1414.9,1285.2 1415.5,1287.3 1416.1,1286.7 1416.7,1286.7 1417.2,1285.7 1417.8,1286.6 1418.4,1288.6 1419.0,1288.3 1419.6,1288.2 1420.1,1287.8 1420.7,1286.8 1421.3,1287.2 1421.9,1287.4 1422.5,1287.7 1423.0,1287.1 1423.6,1286.8 1424.2,1288.7 1424.8,1287.5 1425.4,1288.7 1425.9,1287.9 1426.5,1288.7 1427.1,1288.5 1427.7,1288.7 1428.3,1288.5 1428.8,1286.9 1429.4,1286.5 1430.0,1287.6 1430.6,1289.2 1431.2,1287.0 1431.7,1286.9 1432.3,1289.9 1432.9,1286.5 1433.5,1287.4 1434.1,1287.6 1434.6,1287.4 1435.2,1287.4 1435.8,1288.9 1436.4,1288.0 1437.0,1287.8 1437.5,1285.9 1438.1,1287.8 1438.7,1286.9 1439.3,1286.6 1439.9,1287.0 1440.4,1286.3 1441.0,1285.9 1441.6,1286.3 1442.2,1285.3 1442.8,1285.2 1443.3,1285.0 1443.9,1287.2 1444.5,1285.9 1445.1,1286.8 1445.7,1287.8 1446.2,1288.7 1446.8,1286.8 1447.4,1287.4 1448.0,1287.4 1448.6,1286.1 1449.1,1286.8 1449.7,1289.5 1450.3,1286.8 1450.9,1288.3 1451.5,1287.2 1452.0,1288.0 1452.6,1287.5 1453.2,1286.5 1453.8,1285.3 1454.4,1287.8 1454.9,1287.3 1455.5,1287.2 1456.1,1287.8 1456.7,1286.5 1457.3,1287.5 1457.8,1287.5 1458.4,1286.3 1459.0,1286.6 1459.6,1287.6 1460.2,1285.7 1460.7,1288.3 1461.3,1288.3 1461.9,1287.6 1462.5,1287.9 1463.1,1286.2 1463.6,1288.1 1464.2,1288.8 1464.8,1288.8 1465.4,1289.2 1466.0,1288.4 1466.5,1290.1 1467.1,1288.5 1467.7,1288.6 1468.3,1288.6 1468.9,1286.7 1469.4,1286.3 1470.0,1287.9 1470.6,1286.2 1471.2,1287.0 1471.8,1288.7 1472.3,1287.1 1472.9,1287.3 1473.5,1287.2 1474.1,1287.3 1474.7,1289.6 1475.2,1288.1 1475.8,1288.1 1476.4,1285.2 1477.0,1284.5 1477.6,1285.5 1478.1,1287.4 1478.7,1287.6 1479.3,1285.0 1479.9,1285.6 1480.5,1288.2 1481.0,1288.2 1481.6,1288.8 1482.2,1289.4 1482.8,1288.2 1483.4,1289.5 1483.9,1289.3 1484.5,1290.7 1485.1,1289.3 1485.7,1287.9 1486.3,1290.7 1486.8,1291.1 1487.4,1290.3 1488.0,1289.0 1488.6,1288.4 1489.2,1290.1 1489.7,1288.7 1490.3,1289.6 1490.9,1289.8 1491.5,1289.1 1492.1,1287.5 1492.6,1289.8 1493.2,1288.5 1493.8,1288.1 1494.4,1289.4 1495.0,1289.4 1495.5,1289.0 1496.1,1289.5 1496.7,1287.0 1497.3,1288.9 1497.9,1289.5 1498.4,1287.8 1499.0,1287.4 1499.6,1287.7 1500.2,1289.0 1500.8,1287.8 1501.3,1287.4 1501.9,1286.8 1502.5,1289.7 1503.1,1289.8 1503.7,1288.7 1504.2,1290.6 1504.8,1288.5 1505.4,1289.5 1506.0,1287.8 1506.6,1288.1 1507.1,1289.0 1507.7,1289.4 1508.3,1289.5 1508.9,1288.2 1509.5,1288.6 1510.0,1289.1 1510.6,1289.1 1511.2,1289.3 1511.8,1290.4 1512.4,1290.8 1512.9,1288.2 1513.5,1291.0 1514.1,1290.0 1514.7,1290.1 1515.3,1290.0 1515.8,1290.5 1516.4,1290.3 1517.0,1288.3 1517.6,1290.5 1518.2,1288.9 1518.7,1290.4 1519.3,1290.3 1519.9,1289.0 1520.5,1290.5 1521.1,1290.4 1521.6,1290.2 1522.2,1292.5 1522.8,1290.8 1523.4,1290.2 1524.0,1291.9 1524.5,1292.0 1525.1,1290.1 1525.7,1288.4 1526.3,1290.8 1526.9,1291.3 1527.4,1292.2 1528.0,1289.9 1528.6,1291.9 1529.2,1292.2 1529.8,1291.6 1530.3,1290.9 1530.9,1289.4 1531.5,1290.9 1532.1,1290.3 1532.7,1289.3 1533.2,1291.5 1533.8,1291.1 1534.4,1291.2 1535.0,1293.3 1535.6,1291.2 1536.1,1289.8 1536.7,1289.4 1537.3,1291.5 1537.9,1290.5 1538.5,1289.7 1539.0,1288.2 1539.6,1289.2 1540.2,1288.8 1540.8,1289.6 1541.4,1289.0 1541.9,1289.2 1542.5,1290.0 1543.1,1289.6 1543.7,1290.7 1544.3,1287.6 1544.8,1289.6 1545.4,1291.9 1546.0,1291.1 1546.6,1290.1 1547.2,1291.0 1547.7,1290.7 1548.3,1291.0 1548.9,1292.5 1549.5,1291.0 1550.1,1291.5 1550.6,1290.6 1551.2,1290.5 1551.8,1289.7 1552.4,1290.4 1553.0,1290.6 1553.5,1290.7 1554.1,1291.0 1554.7,1291.0 1555.3,1291.6 1555.9,1290.9 1556.4,1292.3 1557.0,1291.8 1557.6,1292.5 1558.2,1291.3 1558.8,1292.4 1559.3,1291.5 1559.9,1290.1 1560.5,1291.6 1561.1,1291.6 1561.7,1290.7 1562.2,1291.3 1562.8,1291.7 1563.4,1294.3 1564.0,1292.7 1564.6,1294.0 1565.1,1293.3 1565.7,1293.5 1566.3,1293.2 1566.9,1291.2 1567.5,1293.4 1568.0,1291.4 1568.6,1292.5 1569.2,1292.0 1569.8,1293.3 1570.4,1292.9 1570.9,1293.4 1571.5,1292.2 1572.1,1291.8 1572.7,1292.4 1573.3,1293.7 1573.8,1292.0 1574.4,1291.6 1575.0,1290.4 1575.6,1290.8 1576.2,1291.4 1576.7,1292.1 1577.3,1292.1 1577.9,1291.6 1578.5,1292.0 1579.1,1293.3 1579.6,1293.6 1580.2,1293.2 1580.8,1293.6 1581.4,1293.6 1582.0,1290.5 1582.5,1291.9 1583.1,1292.7 1583.7,1293.6 1584.3,1293.9 1584.9,1294.8 1585.4,1292.2 1586.0,1293.8 1586.6,1293.9 1587.2,1293.0 1587.8,1293.4 1588.3,1294.2 1588.9,1293.6 1589.5,1292.9 1590.1,1293.0 1590.7,1292.6 1591.2,1293.3 1591.8,1292.3 1592.4,1293.1 1593.0,1291.8 1593.6,1292.2 1594.1,1291.4 1594.7,1292.4 1595.3,1293.4 1595.9,1292.0 1596.5,1292.8 1597.0,1293.3 1597.6,1293.1 1598.2,1294.2 1598.8,1292.5 1599.4,1294.3 1599.9,1294.6 1600.5,1294.9 1601.1,1293.4 1601.7,1292.8 1602.3,1292.2 1602.8,1294.2 1603.4,1294.4 1604.0,1294.0 1604.6,1294.1 1605.2,1294.4 1605.7,1293.5 1606.3,1292.6 1606.9,1292.6 1607.5,1293.2 1608.1,1293.0 1608.6,1292.3 1609.2,1293.3 1609.8,1292.7 1610.4,1294.1 1611.0,1293.5 1611.5,1294.3 1612.1,1292.7 1612.7,1293.0 1613.3,1292.8 1613.9,1294.5 1614.4,1297.1 1615.0,1294.7 1615.6,1294.1 1616.2,1294.6 1616.8,1294.3 1617.3,1295.1 1617.9,1294.3 1618.5,1293.5 1619.1,1292.7 1619.7,1294.6 1620.2,1295.0 1620.8,1294.2 1621.4,1293.2 1622.0,1293.5 1622.6,1293.6 1623.1,1294.3 1623.7,1293.7 1624.3,1294.8 1624.9,1293.7 1625.5,1293.5 1626.0,1295.8 1626.6,1293.6 1627.2,1294.0 1627.8,1296.5 1628.4,1293.9 1628.9,1296.4 1629.5,1292.9 1630.1,1296.1 1630.7,1295.2 1631.3,1295.3 1631.8,1295.7 1632.4,1293.0 1633.0,1294.5 1633.6,1295.6 1634.2,1297.8 1634.7,1294.5 1635.3,1297.0 1635.9,1295.5 1636.5,1295.9 1637.1,1294.3 1637.6,1295.8 1638.2,1294.7 1638.8,1294.6 1639.4,1296.7 1640.0,1295.1 1640.5,1295.2 1641.1,1296.1 1641.7,1294.8 1642.3,1294.3 1642.9,1295.5 1643.4,1295.6 1644.0,1296.6 1644.6,1294.4 1645.2,1296.0 1645.8,1296.0 1646.3,1295.0 1646.9,1295.2 1647.5,1295.4 1648.1,1294.6 1648.7,1294.4 1649.2,1296.2 1649.8,1295.0 1650.4,1295.3 1651.0,1297.1 1651.6,1296.2 1652.1,1296.6 1652.7,1295.9 1653.3,1296.1 1653.9,1296.0 1654.5,1295.9 1655.0,1297.9 1655.6,1295.9 1656.2,1294.6 1656.8,1295.5 1657.4,1296.8 1657.9,1295.2 1658.5,1296.1 1659.1,1295.4 1659.7,1294.8 1660.3,1295.9 1660.8,1295.7 1661.4,1296.8 1662.0,1297.3 1662.6,1296.7 1663.2,1299.0 1663.7,1296.1 1664.3,1298.1 1664.9,1297.3 1665.5,1298.1 1666.1,1297.3 1666.6,1294.9 1667.2,1296.4 1667.8,1297.4 1668.4,1296.4 1669.0,1295.2 1669.5,1295.7 1670.1,1296.4 1670.7,1297.1 1671.3,1295.7 1671.9,1296.5 1672.4,1295.8 1673.0,1295.7 1673.6,1296.5 1674.2,1298.1 1674.8,1297.7 1675.3,1297.0 1675.9,1297.2 1676.5,1297.8 1677.1,1297.4 1677.7,1297.4 1678.2,1297.7 1678.8,1298.6 1679.4,1297.8 1680.0,1298.8 1680.6,1296.5 1681.1,1297.3 1681.7,1297.3 1682.3,1297.9 1682.9,1296.4 1683.5,1296.6 1684.0,1297.4 1684.6,1297.2 1685.2,1297.1 1685.8,1297.7 1686.4,1297.7 1686.9,1299.4 1687.5,1299.4 1688.1,1299.9 1688.7,1301.1 1689.3,1300.3 1689.8,1299.7 1690.4,1299.1 1691.0,1300.9 1691.6,1299.2 1692.2,1298.7 1692.7,1299.9 1693.3,1299.1 1693.9,1298.5 1694.5,1299.1 1695.1,1300.3 1695.6,1298.8 1696.2,1299.1 1696.8,1298.1 1697.4,1298.5 1698.0,1299.6 1698.5,1298.8 1699.1,1299.0 1699.7,1299.7 1700.3,1298.5 1700.9,1300.0 1701.4,1298.3 1702.0,1298.2 1702.6,1298.2 1703.2,1297.8 1703.8,1299.5 1704.3,1299.2 1704.9,1300.4 1705.5,1298.9 1706.1,1300.2 1706.7,1300.8 1707.2,1299.7 1707.8,1299.9 1708.4,1298.1 1709.0,1301.6 1709.6,1299.9 1710.1,1300.4 1710.7,1299.3 1711.3,1299.9 1711.9,1298.7 1712.5,1300.3 1713.0,1299.9 1713.6,1299.7 1714.2,1300.4 1714.8,1298.9 1715.4,1300.6 1715.9,1300.3 1716.5,1301.9 1717.1,1301.4 1717.7,1300.7 1718.3,1300.5 1718.8,1303.0 1719.4,1299.8 1720.0,1301.9 1720.6,1301.1 1721.2,1300.9 1721.7,1298.7 1722.3,1300.8 1722.9,1299.8 1723.5,1299.6 1724.1,1300.8 1724.6,1300.0 1725.2,1301.1 1725.8,1300.1 1726.4,1301.4 1727.0,1301.4 1727.5,1300.4 1728.1,1300.2 1728.7,1300.3 1729.3,1300.3 1729.9,1300.1 1730.4,1301.8 1731.0,1300.5 1731.6,1299.9 1732.2,1300.1 1732.8,1299.9 1733.3,1301.0 1733.9,1300.9 1734.5,1300.7 1735.1,1300.8 1735.7,1301.1 1736.2,1300.7 1736.8,1301.5 1737.4,1300.7 1738.0,1299.9 1738.6,1300.9 1739.1,1301.6 1739.7,1300.8 1740.3,1299.9 1740.9,1300.4 1741.5,1301.3 1742.0,1301.9 1742.6,1302.0 1743.2,1302.2 1743.8,1302.5 1744.4,1302.4 1744.9,1302.6 1745.5,1302.3 1746.1,1303.0 1746.7,1302.6 1747.3,1302.7 1747.8,1302.9 1748.4,1304.4 1749.0,1301.4 1749.6,1302.1 1750.2,1302.1 1750.7,1302.5 1751.3,1302.1 1751.9,1303.3 1752.5,1300.8 1753.1,1303.4 1753.6,1301.1 1754.2,1301.5 1754.8,1302.5 1755.4,1302.1 1756.0,1302.1 1756.5,1302.2 1757.1,1302.5 1757.7,1303.0 1758.3,1302.7 1758.9,1301.5 1759.4,1301.9 1760.0,1303.6 1760.6,1304.0 1761.2,1303.4 1761.8,1303.5 1762.3,1303.0 1762.9,1304.4 1763.5,1302.5 1764.1,1302.7 1764.7,1302.3 1765.2,1304.0 1765.8,1302.3 1766.4,1303.0 1767.0,1301.4 1767.6,1301.3 1768.1,1303.2 1768.7,1303.1 1769.3,1303.3 1769.9,1302.9 1770.5,1302.6 1771.0,1302.6 1771.6,1302.1 1772.2,1302.7 1772.8,1304.0 1773.4,1302.9 1773.9,1302.1 1774.5,1302.9 1775.1,1302.4 1775.7,1302.4 1776.3,1303.1 1776.8,1302.6 1777.4,1302.2 1778.0,1304.2 1778.6,1304.2 1779.2,1302.9 1779.7,1303.9 1780.3,1302.5 1780.9,1302.9 1781.5,1304.0 1782.1,1303.3 1782.6,1303.8 1783.2,1301.2 1783.8,1303.5 1784.4,1303.1 1785.0,1303.4 1785.5,1302.5 1786.1,1303.1 1786.7,1304.2 1787.3,1304.2 1787.9,1304.3 1788.4,1304.4 1789.0,1304.5 1789.6,1303.9 1790.2,1303.3 1790.8,1302.9 1791.3,1302.9 1791.9,1302.4 1792.5,1302.3 1793.1,1303.0 1793.7,1301.4 1794.2,1302.2 1794.8,1302.5 1795.4,1303.4 1796.0,1303.7 1796.6,1303.1 1797.1,1302.7 1797.7,1302.4 1798.3,1303.6 1798.9,1303.3 1799.5,1302.4 1800.0,1303.0 1800.6,1303.5 1801.2,1304.1 1801.8,1303.3 1802.4,1304.7 1802.9,1304.5 1803.5,1303.2 1804.1,1303.2 1804.7,1302.6 1805.3,1302.4 1805.8,1303.2 1806.4,1303.3 1807.0,1303.9 1807.6,1303.0 1808.2,1302.6 1808.7,1302.5 1809.3,1303.4 1809.9,1302.8 1810.5,1303.8 1811.1,1303.3 1811.6,1303.7 1812.2,1303.2 1812.8,1305.1 1813.4,1304.5 1814.0,1303.6 1814.5,1302.8 1815.1,1303.9 1815.7,1303.9 1816.3,1302.5 1816.9,1303.3 1817.4,1304.7 1818.0,1303.3 1818.6,1302.7 1819.2,1303.3 1819.8,1304.1 1820.3,1302.3 1820.9,1302.3 1821.5,1302.4 1822.1,1302.7 1822.7,1303.7 1823.2,1303.2 1823.8,1301.4 1824.4,1303.4 1825.0,1303.5 1825.6,1303.7 1826.1,1303.4 1826.7,1303.1 1827.3,1303.6 1827.9,1302.7 1828.5,1302.1 1829.0,1303.2 1829.6,1302.7 1830.2,1304.8 1830.8,1303.4 1831.4,1304.5 1831.9,1302.1 1832.5,1302.1 1833.1,1303.4 1833.7,1301.9 1834.3,1302.9 1834.8,1302.1 1835.4,1304.1 1836.0,1302.7 1836.6,1303.9 1837.2,1302.7 1837.7,1304.2 1838.3,1304.5 1838.9,1303.5 1839.5,1302.6 1840.1,1303.5 1840.6,1303.9 1841.2,1303.8 1841.8,1304.1 1842.4,1304.6 1843.0,1303.3 1843.5,1302.9 1844.1,1302.5 1844.7,1302.9 1845.3,1302.7 1845.9,1302.5 1846.4,1303.2 1847.0,1304.6 1847.6,1302.8 1848.2,1303.3 1848.8,1303.6 1849.3,1302.3 1849.9,1305.2 1850.5,1304.5 1851.1,1305.2 1851.7,1303.6 1852.2,1305.2 1852.8,1304.6 1853.4,1303.5 1854.0,1305.1 1854.6,1305.1 1855.1,1304.5 1855.7,1304.6 1856.3,1303.4 1856.9,1304.8 1857.5,1303.9 1858.0,1304.4 1858.6,1304.6 1859.2,1304.5 1859.8,1303.6 1860.4,1304.4 1860.9,1304.4 1861.5,1305.2 1862.1,1303.7 1862.7,1304.9 1863.3,1304.5 1863.8,1304.1 1864.4,1305.3 1865.0,1304.4 1865.6,1303.3 1866.2,1303.9 1866.7,1303.0 1867.3,1302.7 1867.9,1303.1 1868.5,1303.0 1869.1,1304.6 1869.6,1303.9 1870.2,1301.6 1870.8,1303.2 1871.4,1302.8 1872.0,1303.2 1872.5,1303.4 1873.1,1303.4 1873.7,1303.8 1874.3,1303.1 1874.9,1304.9 1875.4,1304.0 1876.0,1305.3 1876.6,1304.5 1877.2,1305.2 1877.8,1304.3 1878.3,1305.9 1878.9,1305.3 1879.5,1304.7 1880.1,1305.1 1880.7,1305.0 1881.2,1303.4 1881.8,1303.9 1882.4,1303.6 1883.0,1305.0 1883.6,1304.6 1884.1,1304.1 1884.7,1304.2 1885.3,1304.7 1885.9,1303.1 1886.5,1304.7 1887.0,1306.0 1887.6,1303.8 1888.2,1304.0 1888.8,1304.2 1889.4,1305.4 1889.9,1304.7 1890.5,1306.7 1891.1,1305.2 1891.7,1304.9 1892.3,1304.3 1892.8,1305.4 1893.4,1305.4 1894.0,1304.5 1894.6,1305.1 1895.2,1305.0 1895.7,1304.3 1896.3,1304.1 1896.9,1303.7 1897.5,1304.4 1898.1,1304.1 1898.6,1305.5 1899.2,1304.9 1899.8,1304.2 1900.4,1304.0 1901.0,1304.5 1901.5,1304.9 1902.1,1304.4 1902.7,1305.0 1903.3,1304.0 1903.9,1304.5 1904.4,1304.8 1905.0,1304.4 1905.6,1304.5 1906.2,1305.0 1906.8,1304.2 1907.3,1305.0 1907.9,1303.9 1908.5,1304.8 1909.1,1304.2 1909.7,1304.4 1910.2,1305.3 1910.8,1305.9 1911.4,1304.9 1912.0,1305.0 1912.6,1305.9 1913.1,1304.4 1913.7,1305.8 1914.3,1304.5 1914.9,1304.1 1915.5,1305.7 1916.0,1305.2 1916.6,1304.9 1917.2,1303.4 1917.8,1305.2 1918.4,1304.4 1918.9,1303.7 1919.5,1304.3 1920.1,1303.4 1920.7,1303.6 1921.3,1303.5 1921.8,1304.7 1922.4,1303.8 1923.0,1304.8 1923.6,1303.2 1924.2,1303.0 1924.7,1305.3 1925.3,1303.3 1925.9,1305.5 1926.5,1304.2 1927.1,1305.9 1927.6,1305.1 1928.2,1306.9 1928.8,1307.3 1929.4,1306.6 1930.0,1305.9 1930.5,1305.2 1931.1,1305.7 1931.7,1306.4 1932.3,1304.3 1932.9,1303.7 1933.4,1305.8 1934.0,1304.4 1934.6,1305.1 1935.2,1304.9 1935.8,1305.1 1936.3,1304.9 1936.9,1305.1 1937.5,1304.1 1938.1,1305.0 1938.7,1304.9 1939.2,1306.4 1939.8,1305.3 1940.4,1305.6 1941.0,1304.3 1941.6,1305.6 1942.1,1306.6 1942.7,1305.5 1943.3,1306.0 1943.9,1305.1 1944.5,1304.9 1945.0,1306.0 1945.6,1305.0 1946.2,1304.6 1946.8,1305.3 1947.4,1305.2 1947.9,1306.3 1948.5,1306.1 1949.1,1304.6 1949.7,1306.0 1950.3,1304.8 1950.8,1305.9 1951.4,1306.2 1952.0,1305.5 1952.6,1305.5 1953.2,1306.4 1953.7,1305.6 1954.3,1304.9 1954.9,1306.8 1955.5,1306.0 1956.1,1305.5 1956.6,1305.2 1957.2,1305.5 1957.8,1304.8 1958.4,1305.3 1959.0,1305.2 1959.5,1304.7 1960.1,1306.3 1960.7,1306.0 1961.3,1305.7 1961.9,1306.2 1962.4,1304.9 1963.0,1305.4 1963.6,1305.4 1964.2,1306.8 1964.8,1306.6 1965.3,1306.8 1965.9,1306.2 1966.5,1307.1 1967.1,1305.6 1967.7,1305.5 1968.2,1305.5 1968.8,1306.4 1969.4,1305.9 1970.0,1305.8 1970.6,1306.2 1971.1,1306.8 1971.7,1305.9 1972.3,1306.9 1972.9,1307.0 1973.5,1308.2 1974.0,1307.1 1974.6,1306.0 1975.2,1307.1 1975.8,1307.0 1976.4,1305.9 1976.9,1304.6 1977.5,1307.3 1978.1,1306.6 1978.7,1306.2 1979.3,1306.6 1979.8,1307.6 1980.4,1307.8 1981.0,1306.2 1981.6,1307.4 1982.2,1306.2 1982.7,1306.1 1983.3,1305.8 1983.9,1305.7 1984.5,1305.6 1985.1,1305.1 1985.6,1305.5 1986.2,1304.7 1986.8,1305.8 1987.4,1304.9 1988.0,1305.7 1988.5,1305.3 1989.1,1304.2 1989.7,1306.5 1990.3,1306.0 1990.9,1306.0 1991.4,1306.0 1992.0,1307.7 1992.6,1306.5 1993.2,1307.5 1993.8,1307.0 1994.3,1305.9 1994.9,1307.3 1995.5,1305.7 1996.1,1307.0 1996.7,1306.8 1997.2,1306.6 1997.8,1305.8 1998.4,1307.2 1999.0,1307.4 1999.6,1305.5 2000.1,1305.9 2000.7,1307.4 2001.3,1306.1 2001.9,1307.2 2002.5,1305.9 2003.0,1306.1 2003.6,1306.6 2004.2,1306.6 2004.8,1305.1 2005.4,1305.2 2005.9,1306.2 2006.5,1306.8 2007.1,1306.3 2007.7,1306.4 2008.3,1306.6 2008.8,1305.6 2009.4,1306.9 2010.0,1307.3 2010.6,1307.2 2011.2,1306.0 2011.7,1306.1 2012.3,1307.6 2012.9,1305.8 2013.5,1306.0 2014.1,1307.9 2014.6,1306.1 2015.2,1306.2 2015.8,1307.1 2016.4,1307.2 2017.0,1306.5 2017.5,1305.6 2018.1,1306.3 2018.7,1306.8 2019.3,1306.1 2019.9,1306.2 2020.4,1307.8 2021.0,1307.4 2021.6,1307.6 2022.2,1307.7 2022.8,1306.3 2023.3,1307.3 2023.9,1307.7 2024.5,1307.2 2025.1,1305.8 2025.7,1305.5 2026.2,1305.9 2026.8,1306.8 2027.4,1306.3 2028.0,1306.7 2028.6,1305.7 2029.1,1307.2 2029.7,1306.2 2030.3,1307.5 2030.9,1306.7 2031.5,1304.6 2032.0,1306.5 2032.6,1306.1 2033.2,1306.2 2033.8,1306.9 2034.4,1307.9 2034.9,1308.0 2035.5,1308.6 2036.1,1307.8 2036.7,1306.6 2037.3,1307.6 2037.8,1307.2 2038.4,1308.3 2039.0,1309.4 2039.6,1307.8 2040.2,1306.5 2040.7,1307.9 2041.3,1306.8 2041.9,1306.1 2042.5,1308.0 2043.1,1306.9 2043.6,1307.4 2044.2,1308.9 2044.8,1306.6 2045.4,1308.0 2046.0,1307.0 2046.5,1306.3 2047.1,1306.8 2047.7,1307.1 2048.3,1307.0 2048.9,1305.8 2049.4,1307.4 2050.0,1306.3 2050.6,1307.1 2051.2,1307.1 2051.8,1306.8 2052.3,1307.7 2052.9,1307.0 2053.5,1307.0 2054.1,1306.7 2054.7,1306.4 2055.2,1307.2 2055.8,1306.1 2056.4,1307.4 2057.0,1307.2 2057.6,1308.6 2058.1,1306.6 2058.7,1308.3 2059.3,1307.8 2059.9,1307.8 2060.5,1307.2 2061.0,1307.1 2061.6,1307.5 2062.2,1307.7 2062.8,1308.1 2063.4,1307.3 2063.9,1308.7 2064.5,1308.6 2065.1,1305.6 2065.7,1307.3 2066.3,1306.9 2066.8,1306.2 2067.4,1304.9 2068.0,1305.5 2068.6,1306.6 2069.2,1307.3 2069.7,1307.3 2070.3,1307.6 2070.9,1307.3 2071.5,1308.4 2072.1,1308.2 2072.6,1308.8 2073.2,1307.9 2073.8,1307.6 2074.4,1306.9 2075.0,1309.0 2075.5,1307.5 2076.1,1307.1 2076.7,1306.2 2077.3,1308.0 2077.9,1306.5 2078.4,1307.3 2079.0,1307.3 2079.6,1307.9 2080.2,1306.2 2080.8,1305.3 2081.3,1307.2 2081.9,1306.9 2082.5,1306.4 2083.1,1307.1 2083.7,1308.6 2084.2,1307.5 2084.8,1307.1 2085.4,1307.5 2086.0,1308.0 2086.6,1307.8 2087.1,1307.7 2087.7,1307.6 2088.3,1306.6 2088.9,1307.9 2089.5,1308.3 2090.0,1308.2 2090.6,1307.8 2091.2,1308.0 2091.8,1308.4 2092.4,1308.5 2092.9,1307.5 2093.5,1308.7 2094.1,1309.8 2094.7,1308.8 2095.3,1308.7 2095.8,1309.4 2096.4,1309.0 2097.0,1308.3 2097.6,1308.7 2098.2,1309.5 2098.7,1309.5 2099.3,1308.2 2099.9,1307.9 2100.5,1308.9 2101.1,1308.4 2101.6,1308.6 2102.2,1308.2 2102.8,1307.5 2103.4,1307.4 2104.0,1308.4 2104.5,1307.7 2105.1,1308.9 2105.7,1309.0 2106.3,1309.3 2106.9,1308.3 2107.4,1309.5 2108.0,1309.0 2108.6,1308.4 2109.2,1308.6 2109.8,1307.7 2110.3,1305.9 2110.9,1308.8 2111.5,1308.4 2112.1,1309.2 2112.7,1308.3 2113.2,1307.7 2113.8,1307.4 2114.4,1307.2 2115.0,1307.6 2115.6,1306.1 2116.1,1306.6 2116.7,1308.0 2117.3,1306.1 2117.9,1306.5 2118.5,1307.4 2119.0,1307.7 2119.6,1308.1 2120.2,1308.8 2120.8,1308.4 2121.4,1308.7 2121.9,1307.9 2122.5,1308.3 2123.1,1307.9 2123.7,1308.4 2124.3,1308.9 2124.8,1308.9 2125.4,1307.3 2126.0,1307.8 2126.6,1309.8 2127.2,1307.0 2127.7,1308.3 2128.3,1307.3 2128.9,1307.7 2129.5,1307.4 2130.1,1307.8 2130.6,1307.0 2131.2,1308.6 2131.8,1309.6 2132.4,1306.6 2133.0,1307.8 2133.5,1307.4 2134.1,1308.6 2134.7,1309.4 2135.3,1309.2 2135.9,1309.0 2136.4,1308.1 2137.0,1307.4 2137.6,1308.5 2138.2,1307.2 2138.8,1307.1 2139.3,1307.7 2139.9,1306.8 2140.5,1307.5 2141.1,1305.0 2141.7,1307.7 2142.2,1308.3 2142.8,1307.3 2143.4,1308.2 2144.0,1308.7 2144.6,1307.7 2145.1,1308.3 2145.7,1308.2 2146.3,1309.7 2146.9,1308.1 2147.5,1308.3 2148.0,1307.1 2148.6,1307.2 2149.2,1308.0 2149.8,1307.3 2150.4,1307.9 2150.9,1307.6 2151.5,1309.4 2152.1,1307.6 2152.7,1308.6 2153.3,1307.5 2153.8,1307.8 2154.4,1307.1 2155.0,1310.0 2155.6,1306.7 2156.2,1308.2 2156.7,1307.7 2157.3,1308.5 2157.9,1307.5 2158.5,1309.1 2159.1,1308.5 2159.6,1308.0 2160.2,1308.0 2160.8,1308.4 2161.4,1308.0 2162.0,1308.9 2162.5,1308.5 2163.1,1307.9 2163.7,1308.3 2164.3,1308.2 2164.9,1308.9 2165.4,1308.0 2166.0,1308.2 2166.6,1307.3 2167.2,1308.6 2167.8,1308.3 2168.3,1307.6 2168.9,1309.1 2169.5,1307.9 2170.1,1307.1 2170.7,1308.6 2171.2,1307.7 2171.8,1305.7 2172.4,1308.0 2173.0,1307.6 2173.6,1307.6 2174.1,1307.3 2174.7,1306.7 2175.3,1307.2 2175.9,1305.9 2176.5,1306.8 2177.0,1307.4 2177.6,1307.5 2178.2,1306.6 2178.8,1308.4 2179.4,1307.5 2179.9,1307.3 2180.5,1308.0 2181.1,1307.7 2181.7,1309.0 2182.3,1308.0 2182.8,1308.2 2183.4,1307.9 2184.0,1308.1 2184.6,1308.3 2185.2,1309.6 2185.7,1308.3 2186.3,1308.8 2186.9,1307.9 2187.5,1308.5 2188.1,1307.1 2188.6,1307.1 2189.2,1309.3 2189.8,1308.5 2190.4,1307.4 2191.0,1309.1 2191.5,1308.9 2192.1,1309.0 2192.7,1309.8 2193.3,1308.4 2193.9,1310.0 2194.4,1309.2 2195.0,1308.5 2195.6,1307.8 2196.2,1309.7 2196.8,1308.2 2197.3,1307.4 2197.9,1308.2 2198.5,1308.6 2199.1,1308.8 2199.7,1309.5"/>
<polyline stroke="#000000" points="171.4,894.8 172.0,896.0 172.6,900.2 173.1,898.4 173.7,893.8 174.3,897.4 174.9,896.3 175.5,898.0 176.0,894.5 176.6,898.5 177.2,898.7 177.8,901.7 178.4,899.4 178.9,900.1 179.5,896.2 180.1,904.3 180.7,895.9 181.3,902.3 181.8,899.5 182.4,898.4 183.0,898.8 183.6,898.7 184.2,900.8 184.7,899.6 185.3,902.7 185.9,895.6 186.5,899.2 187.1,897.1 187.6,900.5 188.2,894.4 188.8,898.1 189.4,899.4 190.0,896.0 190.5,901.3 191.1,899.8 191.7,901.5 192.3,901.5 192.9,897.4 193.4,897.8 194.0,899.0 194.6,901.1 195.2,901.4 195.8,898.3 196.3,898.6 196.9,898.3 197.5,898.9 198.1,899.8 198.7,900.3 199.2,905.2 199.8,900.2 200.4,901.0 201.0,902.9 201.6,900.1 202.1,901.5 202.7,902.4 203.3,904.1 203.9,899.8 204.5,905.5 205.0,902.0 205.6,903.3 206.2,904.9 206.8,904.7 207.4,905.7 207.9,904.0 208.5,903.7 209.1,904.5 209.7,901.7 210.3,906.2 210.8,902.0 211.4,900.8 212.0,907.5 212.6,902.7 213.2,900.2 213.7,906.3 214.3,901.5 214.9,904.3 215.5,900.3 216.1,901.6 216.6,898.6 217.2,898.4 217.8,900.6 218.4,902.8 219.0,904.9 219.5,908.6 220.1,901.8 220.7,906.4 221.3,903.4 221.9,904.7 222.4,902.3 223.0,902.5 223.6,904.1 224.2,903.3 224.8,905.9 225.3,904.4 225.9,908.5 226.5,906.2 227.1,906.2 227.7,908.3 228.2,907.1 228.8,906.1 229.4,906.0 230.0,905.9 230.6,908.5 231.1,908.1 231.7,907.5 232.3,908.8 232.9,906.6 233.5,909.4 234.0,906.1 234.6,912.5 235.2,910.5 235.8,911.1 236.4,912.3 236.9,911.1 237.5,910.5 238.1,913.4 238.7,911.1 239.3,908.8 239.8,911.7 240.4,907.2 241.0,914.4 241.6,910.8 242.2,911.5 242.7,916.3 243.3,916.2 243.9,912.1 244.5,913.2 245.1,914.2 245.6,915.4 246.2,911.6 246.8,912.1 247.4,914.4 248.0,912.3 248.5,913.3 249.1,913.0 249.7,909.4 250.3,909.9 250.9,906.0 251.4,910.9 252.0,914.2 252.6,909.0 253.2,913.9 253.8,913.4 254.3,911.3 254.9,911.5 255.5,911.8 256.1,910.0 256.7,911.3 257.2,911.9 257.8,913.3 258.4,913.6 259.0,910.1 259.6,912.9 260.1,909.0 260.7,909.8 261.3,910.6 261.9,909.6 262.5,909.3 263.0,910.2 263.6,908.6 264.2,908.6 264.8,909.8 265.4,912.4 265.9,910.4 266.5,914.7 267.1,911.2 267.7,904.6 268.3,909.9 268.8,914.4 269.4,910.9 270.0,909.9 270.6,909.0 271.2,913.6 271.7,913.0 272.3,912.5 272.9,912.2 273.5,914.6 274.1,913.5 274.6,909.4 275.2,913.6 275.8,912.3 276.4,911.6 277.0,913.1 277.5,911.3 278.1,905.0 278.7,914.3 279.3,913.3 279.9,911.0 280.4,910.6 281.0,912.1 281.6,909.1 282.2,912.6 282.8,911.6 283.3,911.3 283.9,910.1 284.5,910.6 285.1,914.2 285.7,914.6 286.2,912.8 286.8,911.6 287.4,909.9 288.0,913.2 288.6,915.0 289.1,908.3 289.7,914.0 290.3,907.0 290.9,910.7 291.5,912.0 292.0,908.1 292.6,907.6 293.2,911.0 293.8,912.5 294.4,909.8 294.9,913.8 295.5,909.7 296.1,915.4 296.7,912.3 297.3,913.0 297.8,914.1 298.4,913.7 299.0,917.0 299.6,917.8 300.2,914.3 300.7,912.9 301.3,910.8 301.9,911.8 302.5,913.4 303.1,913.2 303.6,913.3 304.2,913.4 304.8,914.5 305.4,910.7 306.0,911.4 306.5,915.9 307.1,915.3 307.7,912.4 308.3,916.0 308.9,911.7 309.4,912.2 310.0,908.5 310.6,913.6 311.2,911.4 311.8,913.2 312.3,912.1 312.9,910.5 313.5,910.5 314.1,912.6 314.7,909.7 315.2,909.8 315.8,910.3 316.4,911.9 317.0,912.2 317.6,914.2 318.1,910.0 318.7,912.6 319.3,908.5 319.9,910.9 320.5,909.7 321.0,912.9 321.6,910.4 322.2,908.0 322.8,910.1 323.4,909.5 323.9,908.0 324.5,907.9 325.1,906.5 325.7,914.3 326.3,908.8 326.8,910.7 327.4,906.3 328.0,906.6 328.6,908.7 329.2,908.8 329.7,910.7 330.3,906.6 330.9,909.5 331.5,911.1 332.1,905.7 332.6,909.1 333.2,904.9 333.8,907.4 334.4,907.3 335.0,910.2 335.5,905.3 336.1,907.3 336.7,909.5 337.3,905.1 337.9,907.6 338.4,905.9 339.0,906.2 339.6,908.9 340.2,908.8 340.8,912.4 341.3,909.4 341.9,908.8 342.5,905.2 343.1,904.5 343.7,905.1 344.2,899.8 344.8,907.8 345.4,902.9 346.0,902.1 346.6,903.4 347.1,906.2 347.7,907.1 348.3,903.8 348.9,905.5 349.5,904.4 350.0,902.4 350.6,904.7 351.2,904.3 351.8,901.0 352.4,906.6 352.9,901.1 353.5,905.1 354.1,902.5 354.7,903.0 355.3,903.1 355.8,905.9 356.4,901.5 357.0,903.5 357.6,906.9 358.2,902.0 358.7,903.2 359.3,904.6 359.9,901.9 360.5,904.1 361.1,901.7 361.6,904.4 362.2,902.7 362.8,900.3 363.4,904.9 364.0,901.5 364.5,900.9 365.1,899.5 365.7,900.4 366.3,901.3 366.9,901.9 367.4,903.9 368.0,898.8 368.6,900.7 369.2,903.6 369.8,901.2 370.3,901.3 370.9,903.5 371.5,900.6 372.1,900.7 372.7,899.6 373.2,903.5 373.8,902.1 374.4,898.5 375.0,901.2 375.6,897.6 376.1,902.1 376.7,900.9 377.3,898.8 377.9,897.9 378.5,894.5 379.0,899.5 379.6,897.3 380.2,896.6 380.8,898.5 381.4,895.3 381.9,895.2 382.5,894.6 383.1,892.9 383.7,900.5 384.3,894.8 384.8,894.3 385.4,896.8 386.0,888.3 386.6,894.8 387.2,895.0 387.7,892.9 388.3,895.8 388.9,890.5 389.5,894.5 390.1,896.0 390.6,889.2 391.2,890.5 391.8,893.0 392.4,893.1 393.0,891.8 393.5,893.9 394.1,893.8 394.7,890.6 395.3,893.3 395.9,890.9 396.4,889.2 397.0,888.4 397.6,895.4 398.2,892.8 398.8,896.9 399.3,889.5 399.9,891.6 400.5,892.8 401.1,891.8 401.7,893.1 402.2,892.3 402.8,890.8 403.4,887.1 404.0,890.0 404.6,895.4 405.1,893.1 405.7,893.9 406.3,889.3 406.9,889.7 407.5,887.7 408.0,889.9 408.6,888.9 409.2,889.4 409.8,891.9 410.4,886.4 410.9,889.7 411.5,885.2 412.1,890.5 412.7,887.1 413.3,887.6 413.8,887.7 414.4,890.5 415.0,886.6 415.6,885.2 416.2,883.4 416.7,886.2 417.3,888.3 417.9,884.3 418.5,885.2 419.1,886.7 419.6,883.8 420.2,886.7 420.8,889.0 421.4,882.0 422.0,887.8 422.5,889.2 423.1,883.2 423.7,885.4 424.3,880.9 424.9,884.1 425.4,882.4 426.0,883.4 426.6,880.7 427.2,880.7 427.8,881.5 428.3,880.9 428.9,881.2 429.5,882.0 430.1,880.0 430.7,881.8 431.2,882.9 431.8,876.8 432.4,881.8 433.0,879.5 433.6,878.3 434.1,877.4 434.7,877.9 435.3,877.7 435.9,879.4 436.5,875.6 437.0,879.9 437.6,875.6 438.2,878.4 438.8,879.1 439.4,874.3 439.9,879.1 440.5,881.6 441.1,876.1 441.7,878.2 442.3,876.5 442.8,876.5 443.4,875.4 444.0,874.1 444.6,876.1 445.2,875.9 445.7,880.0 446.3,876.4 446.9,875.3 447.5,874.3 448.1,871.2 448.6,876.6 449.2,875.2 449.8,867.7 450.4,869.7 451.0,870.7 451.5,873.3 452.1,873.6 452.7,870.1 453.3,870.9 453.9,871.5 454.4,867.1 455.0,870.8 455.6,868.6 456.2,869.4 456.8,868.6 457.3,866.0 457.9,866.1 458.5,867.9 459.1,867.8 459.7,866.6 460.2,869.1 460.8,865.9 461.4,863.8 462.0,865.4 462.6,865.4 463.1,865.1 463.7,867.4 464.3,865.7 464.9,866.5 465.5,865.3 466.0,863.4 466.6,865.6 467.2,862.7 467.8,863.5 468.4,860.7 468.9,862.7 469.5,861.5 470.1,862.7 470.7,865.5 471.3,866.5 471.8,863.6 472.4,861.5 473.0,863.4 473.6,862.3 474.2,860.6 474.7,861.7 475.3,861.1 475.9,860.0 476.5,863.7 477.1,859.0 477.6,858.3 478.2,860.0 478.8,856.4 479.4,854.7 480.0,854.7 480.5,857.0 481.1,856.4 481.7,856.0 482.3,854.3 482.9,853.3 483.4,857.1 484.0,852.1 484.6,854.6 485.2,852.2 485.8,854.0 486.3,854.3 486.9,856.8 487.5,847.9 488.1,856.3 488.7,851.3 489.2,853.4 489.8,854.2 490.4,850.6 491.0,851.7 491.6,852.5 492.1,850.7 492.7,848.8 493.3,850.2 493.9,849.4 494.5,845.4 495.0,850.8 495.6,847.9 496.2,841.9 496.8,844.9 497.4,849.9 497.9,849.3 498.5,846.3 499.1,842.0 499.7,844.8 500.3,847.3 500.8,845.7 501.4,843.9 502.0,842.7 502.6,845.5 503.2,842.9 503.7,843.5 504.3,843.4 504.9,845.5 505.5,842.2 506.1,842.1 506.6,837.6 507.2,843.6 507.8,843.0 508.4,840.9 509.0,836.0 509.5,839.2 510.1,840.1 510.7,843.8 511.3,840.1 511.9,840.0 512.4,839.4 513.0,839.9 513.6,834.2 514.2,834.3 514.8,833.2 515.3,834.8 515.9,834.4 516.5,835.1 517.1,832.5 517.7,834.6 518.2,832.4 518.8,838.3 519.4,832.4 520.0,838.4 520.6,836.2 521.1,830.0 521.7,834.3 522.3,833.3 522.9,828.5 523.5,832.7 524.0,830.8 524.6,831.2 525.2,828.0 525.8,829.0 526.4,829.4 526.9,827.6 527.5,826.3 528.1,827.0 528.7,825.1 529.3,827.8 529.8,821.7 530.4,830.0 531.0,826.8 531.6,827.4 532.2,827.7 532.7,822.7 533.3,829.4 533.9,821.7 534.5,824.5 535.1,823.7 535.6,825.3 536.2,822.2 536.8,819.0 537.4,822.5 538.0,816.5 538.5,821.2 539.1,820.6 539.7,824.7 540.3,820.7 540.9,820.1 541.4,819.1 542.0,818.6 542.6,819.0 543.2,821.2 543.8,817.0 544.3,819.2 544.9,816.4 545.5,819.0 546.1,819.5 546.7,816.4 547.2,817.5 547.8,818.6 548.4,819.5 549.0,819.4 549.6,816.7 550.1,814.5 550.7,813.0 551.3,817.8 551.9,818.9 552.5,816.7 553.0,819.0 553.6,814.7 554.2,814.7 554.8,818.8 555.4,813.3 555.9,816.5 556.5,815.7 557.1,814.9 557.7,817.7 558.3,811.9 558.8,812.4 559.4,808.6 560.0,810.5 560.6,811.4 561.2,811.7 561.7,812.2 562.3,813.4 562.9,811.6 563.5,809.0 564.1,813.6 564.6,814.1 565.2,810.7 565.8,811.3 566.4,816.5 567.0,814.7 567.5,814.7 568.1,813.6 568.7,812.4 569.3,810.9 569.9,813.1 570.4,811.5 571.0,810.9 571.6,811.6 572.2,811.2 572.8,813.0 573.3,808.9 573.9,815.9 574.5,808.5 575.1,809.8 575.7,812.8 576.2,809.3 576.8,810.3 577.4,811.6 578.0,805.4 578.6,810.6 579.1,809.4 579.7,810.6 580.3,811.8 580.9,811.7 581.5,813.3 582.0,813.1 582.6,812.4 583.2,810.4 583.8,813.0 584.4,809.1 584.9,811.3 585.5,814.9 586.1,813.8 586.7,809.4 587.3,811.3 587.8,814.6 588.4,814.1 589.0,815.3 589.6,809.4 590.2,810.6 590.7,812.7 591.3,811.0 591.9,812.7 592.5,812.5 593.1,813.0 593.6,811.8 594.2,813.1 594.8,813.5 595.4,812.2 596.0,809.3 596.5,814.7 597.1,812.4 597.7,812.9 598.3,812.3 598.9,808.4 599.4,812.9 600.0,810.2 600.6,808.9 601.2,814.1 601.8,810.6 602.3,811.8 602.9,812.9 603.5,812.3 604.1,807.1 604.7,809.5 605.2,812.6 605.8,809.9 606.4,804.7 607.0,812.1 607.6,812.5 608.1,813.8 608.7,812.7 609.3,811.3 609.9,812.8 610.5,812.3 611.0,811.3 611.6,813.0 612.2,813.2 612.8,810.4 613.4,814.7 613.9,814.2 614.5,814.1 615.1,806.7 615.7,812.7 616.3,812.3 616.8,810.6 617.4,814.3 618.0,810.4 618.6,816.6 619.2,815.3 619.7,814.0 620.3,818.6 620.9,817.1 621.5,817.3 622.1,814.2 622.6,818.2 623.2,820.2 623.8,819.7 624.4,814.8 625.0,820.5 625.5,821.1 626.1,819.8 626.7,817.6 627.3,815.8 627.9,817.5 628.4,818.7 629.0,821.0 629.6,822.1 630.2,819.8 630.8,818.3 631.3,821.0 631.9,819.3 632.5,824.8 633.1,819.6 633.7,823.2 634.2,824.0 634.8,820.5 635.4,824.8 636.0,822.8 636.6,821.7 637.1,821.8 637.7,824.3 638.3,826.7 638.9,821.1 639.5,826.7 640.0,825.7 640.6,825.1 641.2,827.0 641.8,827.9 642.4,828.6 642.9,831.0 643.5,828.1 644.1,834.4 644.7,832.6 645.3,829.8 645.8,827.4 646.4,831.5 647.0,831.0 647.6,833.6 648.2,834.0 648.7,836.8 649.3,833.3 649.9,835.8 650.5,834.0 651.1,834.6 651.6,838.8 652.2,835.8 652.8,836.0 653.4,835.7 654.0,837.1 654.5,837.8 655.1,836.5 655.7,834.8 656.3,838.0 656.9,836.2 657.4,837.6 658.0,839.3 658.6,839.9 659.2,835.4 659.8,843.8 660.3,842.6 660.9,845.5 661.5,847.4 662.1,841.4 662.7,842.8 663.2,845.0 663.8,846.9 664.4,844.6 665.0,845.4 665.6,848.4 666.1,844.8 666.7,847.1 667.3,849.0 667.9,846.7 668.5,849.0 669.0,847.7 669.6,845.4 670.2,847.9 670.8,849.0 671.4,849.3 671.9,850.6 672.5,851.9 673.1,852.3 673.7,852.6 674.3,851.8 674.8,852.6 675.4,852.6 676.0,852.5 676.6,856.5 677.2,850.8 677.7,855.3 678.3,852.3 678.9,854.9 679.5,858.2 680.1,857.0 680.6,860.9 681.2,857.2 681.8,859.1 682.4,859.0 683.0,860.8 683.5,860.7 684.1,861.0 684.7,862.2 685.3,864.4 685.9,863.0 686.4,863.0 687.0,862.6 687.6,861.9 688.2,860.7 688.8,861.6 689.3,863.8 689.9,860.6 690.5,865.7 691.1,864.3 691.7,864.0 692.2,865.3 692.8,868.2 693.4,868.4 694.0,868.9 694.6,872.3 695.1,874.0 695.7,868.0 696.3,872.6 696.9,870.2 697.5,869.8 698.0,872.0 698.6,875.4 699.2,873.5 699.8,873.6 700.4,877.5 700.9,876.3 701.5,875.7 702.1,879.6 702.7,877.7 703.3,876.0 703.8,876.0 704.4,877.9 705.0,879.7 705.6,881.8 706.2,882.3 706.7,881.6 707.3,879.9 707.9,884.2 708.5,883.1 709.1,881.5 709.6,881.6 710.2,884.5 710.8,885.0 711.4,886.0 712.0,882.6 712.5,888.4 713.1,884.0 713.7,885.5 714.3,888.3 714.9,888.2 715.4,885.2 716.0,888.5 716.6,890.1 717.2,889.6 717.8,887.0 718.3,892.1 718.9,886.7 719.5,890.1 720.1,888.6 720.7,890.3 721.2,891.0 721.8,892.9 722.4,890.2 723.0,893.2 723.6,895.5 724.1,893.6 724.7,894.6 725.3,894.6 725.9,892.7 726.5,893.5 727.0,894.4 727.6,895.2 728.2,898.1 728.8,897.5 729.4,893.9 729.9,894.0 730.5,893.1 731.1,891.0 731.7,897.6 732.3,896.7 732.8,892.8 733.4,896.7 734.0,901.5 734.6,898.8 735.2,899.4 735.7,899.5 736.3,898.3 736.9,898.0 737.5,898.9 738.1,900.8 738.6,900.4 739.2,902.2 739.8,904.4 740.4,902.6 741.0,903.3 741.5,901.5 742.1,900.1 742.7,906.4 743.3,904.2 743.9,905.3 744.4,902.9 745.0,900.9 745.6,906.4 746.2,900.6 746.8,904.3 747.3,903.8 747.9,905.3 748.5,906.5 749.1,906.7 749.7,901.9 750.2,907.5 750.8,902.8 751.4,907.5 752.0,905.9 752.6,905.1 753.1,906.5 753.7,905.6 754.3,908.3 754.9,910.4 755.5,910.8 756.0,910.1 756.6,912.5 757.2,912.1 757.8,915.4 758.4,913.0 758.9,911.4 759.5,912.3 760.1,911.8 760.7,913.0 761.3,913.7 761.8,915.6 762.4,916.1 763.0,915.3 763.6,916.2 764.2,914.5 764.7,915.0 765.3,912.0 765.9,915.0 766.5,915.7 767.1,921.2 767.6,914.8 768.2,917.6 768.8,917.4 769.4,915.7 770.0,919.2 770.5,919.3 771.1,917.3 771.7,916.2 772.3,920.4 772.9,918.5 773.4,922.4 774.0,921.1 774.6,922.8 775.2,921.6 775.8,924.9 776.3,923.5 776.9,925.0 777.5,922.7 778.1,920.8 778.7,920.3 779.2,922.0 779.8,925.0 780.4,922.1 781.0,927.6 781.6,923.7 782.1,925.0 782.7,924.8 783.3,922.9 783.9,927.2 784.5,919.6 785.0,927.8 785.6,925.4 786.2,927.4 786.8,927.7 787.4,930.0 787.9,925.9 788.5,929.4 789.1,930.4 789.7,927.6 790.3,926.9 790.8,930.4 791.4,928.6 792.0,930.1 792.6,929.5 793.2,930.1 793.7,928.1 794.3,924.9 794.9,929.4 795.5,927.4 796.1,929.6 796.6,927.9 797.2,931.7 797.8,928.9 798.4,931.0 799.0,931.7 799.5,930.0 800.1,930.9 800.7,930.6 801.3,929.4 801.9,933.7 802.4,930.2 803.0,929.6 803.6,931.8 804.2,933.3 804.8,933.7 805.3,933.4 805.9,933.6 806.5,931.1 807.1,935.8 807.7,937.6 808.2,933.6 808.8,931.9 809.4,936.1 810.0,934.7 810.6,928.8 811.1,934.3 811.7,933.5 812.3,934.4 812.9,939.8 813.5,938.6 814.0,937.1 814.6,937.7 815.2,940.5 815.8,936.4 816.4,939.7 816.9,937.8 817.5,940.5 818.1,939.8 818.7,938.5 819.3,941.7 819.8,941.1 820.4,943.3 821.0,939.9 821.6,941.0 822.2,939.9 822.7,943.2 823.3,940.3 823.9,941.7 824.5,943.9 825.1,942.7 825.6,942.3 826.2,942.2 826.8,942.2 827.4,942.6 828.0,941.1 828.5,938.5 829.1,943.8 829.7,940.2 830.3,944.9 830.9,942.6 831.4,947.4 832.0,944.3 832.6,943.2 833.2,944.1 833.8,940.5 834.3,943.1 834.9,942.4 835.5,943.2 836.1,940.2 836.7,940.1 837.2,944.9 837.8,944.1 838.4,943.6 839.0,944.4 839.6,943.9 840.1,944.5 840.7,946.6 841.3,945.5 841.9,947.3 842.5,945.5 843.0,944.0 843.6,945.9 844.2,946.7 844.8,945.1 845.4,946.0 845.9,945.7 846.5,947.7 847.1,947.4 847.7,947.8 848.3,944.9 848.8,946.7 849.4,948.4 850.0,946.9 850.6,946.8 851.2,946.0 851.7,948.6 852.3,947.7 852.9,948.9 853.5,947.1 854.1,950.4 854.6,947.1 855.2,945.2 855.8,947.5 856.4,948.0 857.0,949.4 857.5,946.9 858.1,947.1 858.7,947.7 859.3,947.8 859.9,945.4 860.4,950.0 861.0,951.1 861.6,948.3 862.2,948.3 862.8,949.8 863.3,949.0 863.9,951.4 864.5,949.3 865.1,951.0 865.7,948.0 866.2,947.5 866.8,947.2 867.4,947.4 868.0,950.4 868.6,951.4 869.1,950.8 869.7,951.4 870.3,948.2 870.9,953.4 871.5,950.1 872.0,953.8 872.6,955.3 873.2,951.6 873.8,952.1 874.4,951.8 874.9,948.7 875.5,948.8 876.1,949.5 876.7,950.8 877.3,951.9 877.8,951.0 878.4,952.6 879.0,950.5 879.6,949.3 880.2,951.5 880.7,951.5 881.3,949.5 881.9,953.2 882.5,950.3 883.1,950.7 883.6,952.2 884.2,950.4 884.8,952.9 885.4,952.7 886.0,953.0 886.5,952.5 887.1,952.0 887.7,951.9 888.3,953.7 888.9,955.5 889.4,955.0 890.0,954.6 890.6,955.7 891.2,956.2 891.8,952.5 892.3,954.2 892.9,955.9 893.5,953.2 894.1,953.6 894.7,955.2 895.2,954.2 895.8,956.5 896.4,954.6 897.0,956.1 897.6,959.0 898.1,957.1 898.7,953.5 899.3,953.8 899.9,953.6 900.5,954.8 901.0,952.8 901.6,955.6 902.2,957.2 902.8,957.0 903.4,953.9 903.9,954.6 904.5,954.7 905.1,953.9 905.7,957.4 906.3,954.2 906.8,953.8 907.4,956.1 908.0,956.4 908.6,958.4 909.2,958.8 909.7,956.7 910.3,954.3 910.9,958.2 911.5,958.5 912.1,959.8 912.6,955.3 913.2,955.9 913.8,959.7 914.4,959.8 915.0,959.4 915.5,957.7 916.1,959.5 916.7,957.0 917.3,956.1 917.9,957.6 918.4,957.9 919.0,958.9 919.6,959.4 920.2,955.6 920.8,958.5 921.3,958.9 921.9,956.7 922.5,958.1 923.1,958.5 923.7,959.1 924.2,957.5 924.8,958.0 925.4,957.5 926.0,959.6 926.6,958.8 927.1,958.7 927.7,960.5 928.3,959.5 928.9,958.1 929.5,961.2 930.0,961.0 930.6,960.4 931.2,958.5 931.8,961.5 932.4,959.4 932.9,957.9 933.5,960.3 934.1,962.9 934.7,960.1 935.3,961.6 935.8,962.7 936.4,961.3 937.0,960.8 937.6,961.3 938.2,962.1 938.7,960.7 939.3,961.8 939.9,962.0 940.5,960.6 941.1,961.9 941.6,961.5 942.2,960.2 942.8,960.3 943.4,960.6 944.0,960.4 944.5,960.5 945.1,959.8 945.7,961.5 946.3,962.6 946.9,962.8 947.4,961.2 948.0,963.1 948.6,963.2 949.2,961.2 949.8,962.8 950.3,961.7 950.9,961.2 951.5,961.7 952.1,960.9 952.7,958.2 953.2,961.0 953.8,959.2 954.4,960.3 955.0,961.3 955.6,960.2 956.1,960.1 956.7,961.1 957.3,961.8 957.9,960.5 958.5,961.0 959.0,962.7 959.6,964.3 960.2,962.4 960.8,963.5 961.4,961.5 961.9,962.3 962.5,962.3 963.1,960.6 963.7,962.0 964.3,961.7 964.8,958.8 965.4,961.7 966.0,962.0 966.6,961.9 967.2,962.1 967.7,960.5 968.3,961.2 968.9,962.0 969.5,961.5 970.1,962.1 970.6,964.2 971.2,961.7 971.8,962.2 972.4,964.6 973.0,962.2 973.5,961.2 974.1,962.8 974.7,962.9 975.3,963.1 975.9,961.3 976.4,963.7 977.0,963.9 977.6,965.9 978.2,964.2 978.8,962.8 979.3,963.5 979.9,963.7 980.5,962.7 981.1,962.7 981.7,964.3 982.2,963.3 982.8,963.3 983.4,961.5 984.0,963.1 984.6,960.3 985.1,963.9 985.7,961.8 986.3,963.0 986.9,963.8 987.5,960.9 988.0,963.4 988.6,962.4 989.2,963.6 989.8,962.0 990.4,961.7 990.9,964.1 991.5,963.0 992.1,962.5 992.7,960.8 993.3,963.3 993.8,961.0 994.4,960.6 995.0,959.7 995.6,960.1 996.2,960.6 996.7,959.7 997.3,959.7 997.9,959.2 998.5,961.6 999.1,961.8 999.6,959.6 1000.2,958.9 1000.8,960.2 1001.4,958.0 1002.0,960.1 1002.5,960.0 1003.1,959.7 1003.7,961.1 1004.3,961.2 1004.9,959.3 1005.4,958.1 1006.0,959.5 1006.6,959.5 1007.2,956.6 1007.8,956.2 1008.3,957.7 1008.9,956.0 1009.5,956.7 1010.1,959.8 1010.7,956.2 1011.2,958.5 1011.8,956.4 1012.4,958.4 1013.0,957.5 1013.6,958.1 1014.1,955.3 1014.7,957.2 1015.3,956.1 1015.9,957.6 1016.5,957.3 1017.0,956.4 1017.6,955.8 1018.2,955.6 1018.8,955.5 1019.4,954.2 1019.9,954.1 1020.5,953.6 1021.1,952.8 1021.7,955.1 1022.3,951.9 1022.8,954.7 1023.4,953.7 1024.0,950.4 1024.6,950.1 1025.2,952.2 1025.7,950.8 1026.3,952.2 1026.9,953.0 1027.5,952.1 1028.1,951.0 1028.6,950.4 1029.2,951.6 1029.8,948.2 1030.4,949.5 1031.0,948.4 1031.5,943.5 1032.1,942.2 1032.7,941.4 1033.3,934.8 1033.9,931.9 1034.4,927.0 1035.0,916.6 1035.6,909.2 1036.2,897.2 1036.8,875.3 1037.3,868.9 1037.9,847.0 1038.5,830.7 1039.1,805.3 1039.7,779.3 1040.2,759.1 1040.8,736.6 1041.4,723.8 1042.0,712.7 1042.6,704.7 1043.1,710.0 1043.7,722.4 1044.3,737.5 1044.9,755.2 1045.5,782.0 1046.0,805.3 1046.6,821.8 1047.2,848.4 1047.8,861.0 1048.4,881.0 1048.9,894.4 1049.5,906.5 1050.1,917.3 1050.7,923.2 1051.3,930.7 1051.8,937.8 1052.4,939.8 1053.0,943.8 1053.6,945.0 1054.2,943.3 1054.7,948.7 1055.3,948.4 1055.9,948.8 1056.5,948.1 1057.1,948.4 1057.6,948.4 1058.2,950.0 1058.8,950.8 1059.4,950.9 1060.0,951.3 1060.5,949.4 1061.1,951.1 1061.7,951.2 1062.3,952.6 1062.9,951.9 1063.4,952.1 1064.0,953.0 1064.6,952.6 1065.2,953.1 1065.8,955.0 1066.3,953.6 1066.9,952.8 1067.5,954.6 1068.1,954.8 1068.7,954.6 1069.2,952.1 1069.8,954.8 1070.4,953.8 1071.0,953.9 1071.6,953.8 1072.1,954.2 1072.7,954.2 1073.3,955.3 1073.9,953.9 1074.5,953.5 1075.0,954.5 1075.6,953.6 1076.2,955.2 1076.8,954.1 1077.4,954.8 1077.9,953.3 1078.5,955.0 1079.1,954.4 1079.7,952.4 1080.3,952.8 1080.8,953.2 1081.4,951.4 1082.0,951.7 1082.6,953.6 1083.2,953.6 1083.7,954.5 1084.3,951.1 1084.9,952.0 1085.5,949.7 1086.1,954.0 1086.6,950.0 1087.2,951.1 1087.8,953.6 1088.4,952.9 1089.0,950.2 1089.5,954.0 1090.1,951.9 1090.7,950.2 1091.3,951.7 1091.9,952.0 1092.4,951.7 1093.0,948.0 1093.6,952.5 1094.2,947.9 1094.8,949.2 1095.3,950.9 1095.9,949.5 1096.5,949.0 1097.1,948.3 1097.7,949.9 1098.2,951.0 1098.8,948.8 1099.4,950.1 1100.0,949.2 1100.6,949.0 1101.1,946.9 1101.7,949.5 1102.3,950.1 1102.9,948.5 1103.5,949.8 1104.0,948.6 1104.6,949.8 1105.2,948.4 1105.8,947.6 1106.4,947.4 1106.9,948.0 1107.5,948.1 1108.1,946.6 1108.7,947.2 1109.3,945.5 1109.8,945.2 1110.4,947.4 1111.0,946.9 1111.6,947.4 1112.2,946.4 1112.7,946.6 1113.3,948.6 1113.9,945.4 1114.5,946.9 1115.1,948.6 1115.6,949.2 1116.2,947.4 1116.8,946.5 1117.4,945.2 1118.0,946.1 1118.5,946.2 1119.1,945.8 1119.7,946.2 1120.3,946.2 1120.9,944.9 1121.4,944.4 1122.0,945.1 1122.6,946.1 1123.2,947.5 1123.8,943.4 1124.3,946.7 1124.9,944.9 1125.5,946.6 1126.1,947.5 1126.7,945.7 1127.2,943.5 1127.8,944.1 1128.4,944.8 1129.0,943.6 1129.6,943.6 1130.1,942.4 1130.7,943.0 1131.3,942.4 1131.9,944.4 1132.5,943.9 1133.0,944.7 1133.6,942.0 1134.2,943.7 1134.8,943.5 1135.4,944.1 1135.9,943.7 1136.5,944.0 1137.1,946.9 1137.7,944.8 1138.3,943.7 1138.8,945.1 1139.4,948.3 1140.0,946.4 1140.6,944.3 1141.2,945.0 1141.7,944.9 1142.3,944.7 1142.9,942.1 1143.5,943.1 1144.1,944.0 1144.6,942.2 1145.2,944.4 1145.8,945.1 1146.4,946.4 1147.0,947.2 1147.5,946.0 1148.1,946.6 1148.7,947.2 1149.3,947.4 1149.9,946.0 1150.4,944.7 1151.0,946.1 1151.6,946.2 1152.2,945.2 1152.8,945.8 1153.3,947.1 1153.9,944.7 1154.5,944.7 1155.1,944.6 1155.7,946.7 1156.2,947.8 1156.8,946.4 1157.4,949.6 1158.0,947.0 1158.6,948.3 1159.1,948.1 1159.7,950.0 1160.3,947.7 1160.9,950.5 1161.5,948.3 1162.0,946.8 1162.6,947.7 1163.2,948.0 1163.8,950.1 1164.4,947.4 1164.9,947.8 1165.5,950.3 1166.1,948.0 1166.7,947.1 1167.3,947.2 1167.8,946.4 1168.4,949.0 1169.0,950.4 1169.6,948.7 1170.2,948.1 1170.7,949.9 1171.3,949.7 1171.9,949.6 1172.5,950.4 1173.1,950.0 1173.6,949.6 1174.2,951.4 1174.8,948.0 1175.4,949.0 1176.0,950.0 1176.5,948.8 1177.1,952.2 1177.7,947.6 1178.3,951.0 1178.9,950.6 1179.4,950.2 1180.0,950.2 1180.6,948.9 1181.2,948.7 1181.8,951.3 1182.3,949.5 1182.9,948.1 1183.5,948.6 1184.1,948.6 1184.7,951.1 1185.2,952.5 1185.8,951.1 1186.4,951.9 1187.0,951.3 1187.6,953.1 1188.1,953.2 1188.7,953.3 1189.3,954.5 1189.9,950.9 1190.5,953.4 1191.0,950.7 1191.6,953.5 1192.2,953.7 1192.8,953.7 1193.4,953.8 1193.9,952.6 1194.5,951.9 1195.1,953.5 1195.7,951.9 1196.3,953.6 1196.8,951.9 1197.4,953.5 1198.0,953.6 1198.6,952.4 1199.2,953.2 1199.7,954.8 1200.3,953.8 1200.9,954.4 1201.5,953.0 1202.1,953.6 1202.6,951.5 1203.2,952.2 1203.8,954.5 1204.4,953.6 1205.0,952.9 1205.5,953.1 1206.1,951.4 1206.7,953.6 1207.3,951.7 1207.9,952.4 1208.4,954.1 1209.0,952.6 1209.6,952.9 1210.2,953.6 1210.8,953.9 1211.3,955.5 1211.9,952.1 1212.5,953.8 1213.1,955.0 1213.7,953.7 1214.2,953.8 1214.8,953.2 1215.4,953.7 1216.0,954.7 1216.6,955.2 1217.1,954.0 1217.7,954.9 1218.3,953.2 1218.9,950.8 1219.5,953.3 1220.0,949.7 1220.6,951.5 1221.2,950.9 1221.8,948.5 1222.4,948.1 1222.9,945.7 1223.5,943.9 1224.1,940.0 1224.7,937.0 1225.3,930.8 1225.8,926.3 1226.4,918.9 1227.0,911.9 1227.6,903.8 1228.2,894.7 1228.7,889.0 1229.3,880.5 1229.9,869.1 1230.5,865.7 1231.1,867.6 1231.6,863.7 1232.2,871.0 1232.8,871.2 1233.4,877.3 1234.0,883.3 1234.5,891.8 1235.1,900.8 1235.7,910.2 1236.3,917.0 1236.9,924.1 1237.4,929.4 1238.0,935.8 1238.6,940.7 1239.2,944.9 1239.8,947.3 1240.3,949.3 1240.9,952.0 1241.5,950.9 1242.1,953.1 1242.7,954.8 1243.2,957.0 1243.8,956.4 1244.4,956.6 1245.0,959.1 1245.6,958.6 1246.1,960.7 1246.7,959.3 1247.3,959.1 1247.9,959.9 1248.5,962.6 1249.0,962.7 1249.6,961.4 1250.2,962.7 1250.8,960.3 1251.4,963.4 1251.9,962.6 1252.5,962.2 1253.1,962.4 1253.7,962.7 1254.3,962.0 1254.8,962.1 1255.4,961.1 1256.0,964.1 1256.6,961.5 1257.2,962.5 1257.7,964.0 1258.3,964.5 1258.9,965.1 1259.5,963.3 1260.1,963.7 1260.6,964.3 1261.2,962.6 1261.8,965.5 1262.4,962.9 1263.0,964.6 1263.5,965.9 1264.1,966.2 1264.7,965.3 1265.3,967.4 1265.9,968.2 1266.4,965.9 1267.0,967.9 1267.6,969.3 1268.2,969.4 1268.8,968.9 1269.3,969.1 1269.9,971.7 1270.5,969.0 1271.1,970.5 1271.7,968.3 1272.2,970.3 1272.8,970.9 1273.4,969.6 1274.0,969.5 1274.6,972.2 1275.1,970.1 1275.7,971.3 1276.3,968.7 1276.9,971.9 1277.5,968.1 1278.0,969.1 1278.6,969.4 1279.2,970.0 1279.8,970.3 1280.4,971.8 1280.9,972.5 1281.5,972.4 1282.1,971.5 1282.7,970.9 1283.3,968.6 1283.8,970.8 1284.4,970.2 1285.0,971.4 1285.6,969.8 1286.2,970.0 1286.7,970.2 1287.3,971.7 1287.9,971.4 1288.5,970.3 1289.1,969.6 1289.6,970.9 1290.2,970.8 1290.8,970.8 1291.4,971.4 1292.0,972.0 1292.5,972.0 1293.1,970.6 1293.7,970.4 1294.3,972.7 1294.9,971.0 1295.4,972.1 1296.0,971.7 1296.6,972.0 1297.2,973.3 1297.8,971.6 1298.3,973.1 1298.9,972.7 1299.5,972.1 1300.1,971.9 1300.7,972.0 1301.2,973.8 1301.8,973.8 1302.4,972.0 1303.0,973.4 1303.6,971.1 1304.1,973.0 1304.7,975.0 1305.3,971.7 1305.9,973.2 1306.5,972.4 1307.0,973.2 1307.6,972.1 1308.2,973.5 1308.8,970.9 1309.4,973.1 1309.9,973.1 1310.5,973.4 1311.1,975.6 1311.7,972.4 1312.3,972.9 1312.8,972.2 1313.4,974.1 1314.0,973.6 1314.6,972.4 1315.2,974.5 1315.7,973.8 1316.3,975.0 1316.9,974.4 1317.5,973.9 1318.1,973.3 1318.6,972.2 1319.2,974.0 1319.8,975.9 1320.4,974.6 1321.0,974.0 1321.5,975.2 1322.1,975.7 1322.7,977.8 1323.3,974.0 1323.9,974.5 1324.4,973.6 1325.0,973.8 1325.6,975.3 1326.2,974.0 1326.8,972.4 1327.3,975.0 1327.9,975.3 1328.5,974.3 1329.1,972.6 1329.7,972.7 1330.2,975.3 1330.8,973.1 1331.4,973.8 1332.0,973.2 1332.6,976.8 1333.1,975.2 1333.7,974.9 1334.3,974.3 1334.9,974.3 1335.5,973.7 1336.0,976.0 1336.6,974.2 1337.2,976.4 1337.8,973.6 1338.4,975.5 1338.9,976.2 1339.5,974.1 1340.1,975.7 1340.7,975.0 1341.3,974.5 1341.8,975.3 1342.4,974.0 1343.0,975.7 1343.6,974.5 1344.2,976.8 1344.7,977.7 1345.3,977.5 1345.9,975.2 1346.5,975.6 1347.1,977.6 1347.6,976.8 1348.2,976.1 1348.8,973.3 1349.4,975.2 1350.0,977.8 1350.5,976.2 1351.1,975.4 1351.7,976.0 1352.3,978.5 1352.9,977.4 1353.4,974.8 1354.0,975.0 1354.6,976.3 1355.2,977.6 1355.8,975.6 1356.3,975.8 1356.9,973.8 1357.5,975.7 1358.1,977.0 1358.7,977.0 1359.2,974.9 1359.8,977.3 1360.4,975.6 1361.0,975.0 1361.6,976.9 1362.1,974.7 1362.7,975.9 1363.3,975.6 1363.9,976.4 1364.5,976.9 1365.0,976.4 1365.6,976.3 1366.2,976.9 1366.8,975.3 1367.4,977.9 1367.9,980.2 1368.5,978.5 1369.1,979.1 1369.7,977.8 1370.3,977.5 1370.8,977.8 1371.4,977.8 1372.0,977.7 1372.6,976.2 1373.2,977.2 1373.7,975.8 1374.3,978.6 1374.9,977.6 1375.5,977.5 1376.1,976.6 1376.6,978.4 1377.2,978.9 1377.8,978.3 1378.4,978.8 1379.0,976.7 1379.5,978.3 1380.1,977.4 1380.7,974.7 1381.3,977.8 1381.9,976.7 1382.4,977.8 1383.0,977.5 1383.6,977.5 1384.2,979.8 1384.8,978.3 1385.3,979.1 1385.9,979.6 1386.5,978.5 1387.1,977.5 1387.7,978.6 1388.2,978.3 1388.8,977.4 1389.4,978.5 1390.0,979.7 1390.6,979.4 1391.1,980.2 1391.7,980.2 1392.3,979.2 1392.9,979.2 1393.5,978.3 1394.0,980.8 1394.6,979.3 1395.2,980.6 1395.8,981.9 1396.4,980.5 1396.9,979.0 1397.5,979.6 1398.1,980.3 1398.7,982.0 1399.3,980.3 1399.8,980.3 1400.4,979.3 1401.0,980.6 1401.6,980.3 1402.2,981.0 1402.7,979.3 1403.3,981.0 1403.9,979.1 1404.5,980.0 1405.1,980.3 1405.6,980.8 1406.2,981.6 1406.8,978.9 1407.4,981.2 1408.0,979.6 1408.5,979.9 1409.1,980.8 1409.7,981.5 1410.3,980.5 1410.9,980.3 1411.4,981.4 1412.0,979.9 1412.6,981.8 1413.2,981.3 1413.8,981.5 1414.3,982.0 1414.9,982.9 1415.5,981.1 1416.1,983.2 1416.7,981.3 1417.2,982.6 1417.8,982.8 1418.4,982.3 1419.0,980.9 1419.6,980.7 1420.1,980.7 1420.7,981.6 1421.3,981.8 1421.9,982.1 1422.5,980.0 1423.0,981.8 1423.6,982.6 1424.2,981.8 1424.8,981.6 1425.4,982.5 1425.9,983.3 1426.5,983.3 1427.1,983.4 1427.7,980.7 1428.3,983.4 1428.8,981.8 1429.4,983.1 1430.0,981.7 1430.6,982.7 1431.2,981.8 1431.7,982.1 1432.3,984.3 1432.9,981.2 1433.5,983.3 1434.1,982.3 1434.6,981.1 1435.2,983.4 1435.8,982.1 1436.4,981.6 1437.0,982.7 1437.5,981.7 1438.1,984.4 1438.7,981.5 1439.3,982.6 1439.9,981.2 1440.4,983.5 1441.0,984.0 1441.6,984.1 1442.2,984.6 1442.8,983.1 1443.3,982.5 1443.9,983.8 1444.5,982.3 1445.1,983.3 1445.7,982.6 1446.2,982.4 1446.8,983.1 1447.4,984.4 1448.0,984.3 1448.6,983.7 1449.1,981.2 1449.7,983.8 1450.3,984.2 1450.9,984.4 1451.5,983.1 1452.0,984.8 1452.6,984.1 1453.2,982.1 1453.8,984.8 1454.4,985.9 1454.9,984.8 1455.5,984.1 1456.1,986.8 1456.7,986.2 1457.3,983.7 1457.8,986.6 1458.4,986.1 1459.0,986.1 1459.6,984.2 1460.2,984.4 1460.7,986.2 1461.3,988.0 1461.9,986.3 1462.5,986.2 1463.1,985.4 1463.6,985.4 1464.2,986.6 1464.8,984.7 1465.4,987.1 1466.0,985.7 1466.5,985.5 1467.1,985.0 1467.7,984.4 1468.3,984.8 1468.9,983.6 1469.4,985.0 1470.0,983.1 1470.6,987.1 1471.2,985.0 1471.8,983.8 1472.3,985.7 1472.9,985.8 1473.5,985.4 1474.1,986.3 1474.7,985.5 1475.2,986.2 1475.8,986.1 1476.4,986.7 1477.0,985.8 1477.6,986.5 1478.1,983.6 1478.7,987.3 1479.3,986.5 1479.9,986.9 1480.5,986.1 1481.0,987.1 1481.6,986.2 1482.2,986.4 1482.8,986.2 1483.4,985.6 1483.9,985.3 1484.5,986.7 1485.1,986.9 1485.7,986.3 1486.3,987.6 1486.8,986.6 1487.4,987.0 1488.0,987.6 1488.6,987.2 1489.2,986.4 1489.7,985.5 1490.3,985.8 1490.9,985.5 1491.5,987.3 1492.1,983.3 1492.6,988.6 1493.2,986.0 1493.8,987.9 1494.4,987.2 1495.0,987.4 1495.5,985.7 1496.1,988.0 1496.7,987.1 1497.3,987.9 1497.9,987.7 1498.4,987.5 1499.0,987.0 1499.6,988.1 1500.2,988.5 1500.8,987.8 1501.3,988.4 1501.9,988.5 1502.5,987.9 1503.1,987.6 1503.7,986.0 1504.2,988.7 1504.8,987.7 1505.4,987.2 1506.0,987.6 1506.6,986.9 1507.1,987.1 1507.7,988.0 1508.3,986.3 1508.9,987.7 1509.5,988.4 1510.0,987.0 1510.6,987.7 1511.2,990.1 1511.8,991.1 1512.4,989.4 1512.9,989.8 1513.5,988.4 1514.1,990.4 1514.7,989.0 1515.3,989.0 1515.8,989.2 1516.4,988.3 1517.0,988.2 1517.6,988.9 1518.2,988.1 1518.7,988.7 1519.3,987.1 1519.9,988.7 1520.5,990.3 1521.1,991.0 1521.6,990.6 1522.2,989.3 1522.8,990.1 1523.4,989.1 1524.0,988.9 1524.5,990.8 1525.1,989.7 1525.7,989.7 1526.3,990.2 1526.9,990.7 1527.4,989.8 1528.0,989.2 1528.6,989.4 1529.2,988.8 1529.8,988.4 1530.3,986.5 1530.9,990.9 1531.5,988.7 1532.1,988.2 1532.7,991.1 1533.2,991.9 1533.8,991.6 1534.4,989.5 1535.0,990.9 1535.6,990.9 1536.1,990.9 1536.7,989.1 1537.3,991.3 1537.9,991.8 1538.5,990.8 1539.0,991.9 1539.6,989.5 1540.2,990.4 1540.8,990.9 1541.4,989.0 1541.9,989.9 1542.5,989.5 1543.1,991.2 1543.7,989.6 1544.3,991.2 1544.8,990.7 1545.4,992.2 1546.0,991.1 1546.6,991.6 1547.2,992.0 1547.7,991.1 1548.3,991.3 1548.9,991.3 1549.5,991.0 1550.1,991.5 1550.6,990.4 1551.2,991.0 1551.8,990.5 1552.4,990.1 1553.0,989.6 1553.5,988.8 1554.1,989.8 1554.7,991.0 1555.3,990.2 1555.9,992.0 1556.4,989.9 1557.0,990.7 1557.6,989.8 1558.2,992.3 1558.8,990.2 1559.3,991.8 1559.9,991.6 1560.5,993.5 1561.1,992.2 1561.7,991.6 1562.2,991.0 1562.8,992.6 1563.4,990.8 1564.0,990.2 1564.6,992.2 1565.1,991.6 1565.7,991.2 1566.3,992.1 1566.9,992.3 1567.5,990.4 1568.0,992.6 1568.6,993.4 1569.2,991.2 1569.8,990.2 1570.4,991.8 1570.9,991.5 1571.5,992.4 1572.1,992.5 1572.7,991.6 1573.3,993.0 1573.8,989.9 1574.4,990.9 1575.0,991.7 1575.6,991.9 1576.2,991.6 1576.7,992.3 1577.3,990.9 1577.9,990.1 1578.5,992.9 1579.1,993.4 1579.6,992.1 1580.2,991.0 1580.8,991.2 1581.4,992.2 1582.0,991.7 1582.5,992.5 1583.1,992.8 1583.7,992.6 1584.3,991.4 1584.9,992.8 1585.4,992.6 1586.0,992.7 1586.6,992.9 1587.2,993.0 1587.8,992.4 1588.3,993.8 1588.9,993.0 1589.5,993.7 1590.1,994.4 1590.7,994.4 1591.2,992.1 1591.8,993.2 1592.4,992.9 1593.0,994.2 1593.6,993.5 1594.1,995.0 1594.7,993.8 1595.3,994.6 1595.9,993.3 1596.5,993.4 1597.0,993.5 1597.6,993.9 1598.2,991.5 1598.8,993.1 1599.4,991.7 1599.9,993.1 1600.5,991.5 1601.1,992.8 1601.7,994.2 1602.3,994.5 1602.8,992.3 1603.4,994.6 1604.0,992.6 1604.6,992.9 1605.2,993.1 1605.7,992.6 1606.3,992.8 1606.9,992.6 1607.5,993.2 1608.1,992.6 1608.6,992.1 1609.2,991.7 1609.8,991.8 1610.4,992.8 1611.0,993.7 1611.5,993.5 1612.1,993.2 1612.7,993.9 1613.3,993.1 1613.9,993.6 1614.4,993.8 1615.0,993.0 1615.6,994.3 1616.2,994.0 1616.8,992.8 1617.3,993.6 1617.9,993.2 1618.5,993.3 1619.1,993.4 1619.7,994.2 1620.2,993.3 1620.8,993.3 1621.4,993.9 1622.0,993.9 1622.6,994.7 1623.1,992.8 1623.7,994.3 1624.3,992.5 1624.9,994.4 1625.5,993.6 1626.0,993.7 1626.6,994.8 1627.2,994.0 1627.8,994.5 1628.4,992.2 1628.9,995.5 1629.5,992.0 1630.1,993.6 1630.7,995.6 1631.3,993.1 1631.8,995.8 1632.4,995.4 1633.0,994.5 1633.6,994.4 1634.2,994.6 1634.7,995.2 1635.3,996.0 1635.9,996.5 1636.5,993.9 1637.1,996.7 1637.6,996.6 1638.2,995.1 1638.8,996.8 1639.4,996.7 1640.0,996.5 1640.5,995.4 1641.1,995.9 1641.7,996.1 1642.3,994.4 1642.9,994.5 1643.4,994.4 1644.0,996.0 1644.6,995.2 1645.2,994.8 1645.8,994.7 1646.3,994.7 1646.9,996.1 1647.5,996.7 1648.1,997.2 1648.7,995.3 1649.2,995.3 1649.8,995.2 1650.4,995.2 1651.0,994.5 1651.6,997.0 1652.1,996.2 1652.7,995.5 1653.3,993.8 1653.9,997.1 1654.5,996.7 1655.0,996.2 1655.6,996.7 1656.2,995.7 1656.8,996.9 1657.4,995.9 1657.9,996.8 1658.5,996.3 1659.1,995.3 1659.7,995.5 1660.3,996.3 1660.8,997.0 1661.4,995.9 1662.0,995.3 1662.6,995.4 1663.2,996.2 1663.7,994.9 1664.3,997.0 1664.9,995.8 1665.5,995.7 1666.1,996.9 1666.6,998.6 1667.2,996.6 1667.8,997.0 1668.4,996.4 1669.0,997.6 1669.5,997.7 1670.1,997.6 1670.7,997.4 1671.3,998.1 1671.9,998.5 1672.4,997.5 1673.0,997.6 1673.6,997.1 1674.2,997.0 1674.8,998.2 1675.3,996.2 1675.9,996.2 1676.5,997.5 1677.1,996.2 1677.7,997.1 1678.2,997.4 1678.8,995.7 1679.4,997.8 1680.0,996.2 1680.6,997.1 1681.1,995.8 1681.7,995.6 1682.3,996.7 1682.9,998.3 1683.5,999.1 1684.0,999.3 1684.6,998.3 1685.2,998.3 1685.8,998.0 1686.4,998.0 1686.9,997.2 1687.5,997.1 1688.1,997.8 1688.7,997.8 1689.3,996.9 1689.8,996.5 1690.4,997.1 1691.0,1000.6 1691.6,997.5 1692.2,999.4 1692.7,999.4 1693.3,999.5 1693.9,998.2 1694.5,1000.5 1695.1,999.3 1695.6,998.7 1696.2,998.8 1696.8,999.4 1697.4,1001.3 1698.0,998.5 1698.5,998.9 1699.1,999.2 1699.7,999.4 1700.3,997.8 1700.9,997.6 1701.4,997.7 1702.0,998.5 1702.6,997.7 1703.2,997.6 1703.8,998.0 1704.3,998.0 1704.9,998.6 1705.5,997.2 1706.1,997.8 1706.7,997.3 1707.2,998.4 1707.8,998.6 1708.4,997.9 1709.0,999.3 1709.6,998.4 1710.1,999.8 1710.7,998.5 1711.3,998.5 1711.9,997.6 1712.5,997.8 1713.0,998.1 1713.6,996.5 1714.2,998.1 1714.8,998.7 1715.4,998.5 1715.9,998.2 1716.5,998.7 1717.1,997.9 1717.7,998.1 1718.3,999.3 1718.8,998.7 1719.4,999.7 1720.0,998.7 1720.6,999.7 1721.2,1000.3 1721.7,999.4 1722.3,1001.0 1722.9,1001.1 1723.5,998.1 1724.1,1002.2 1724.6,998.9 1725.2,1002.2 1725.8,999.5 1726.4,998.4 1727.0,998.8 1727.5,1000.1 1728.1,998.8 1728.7,999.2 1729.3,1000.6 1729.9,998.9 1730.4,1000.1 1731.0,1000.8 1731.6,998.3 1732.2,998.8 1732.8,999.8 1733.3,999.4 1733.9,999.4 1734.5,997.3 1735.1,998.0 1735.7,998.8 1736.2,998.9 1736.8,999.6 1737.4,998.4 1738.0,998.4 1738.6,998.5 1739.1,998.8 1739.7,998.3 1740.3,1001.5 1740.9,1000.0 1741.5,999.9 1742.0,1000.0 1742.6,1000.9 1743.2,1000.5 1743.8,999.7 1744.4,1001.0 1744.9,1000.4 1745.5,999.9 1746.1,1000.0 1746.7,1000.9 1747.3,1000.5 1747.8,999.8 1748.4,1000.7 1749.0,998.2 1749.6,1000.5 1750.2,999.2 1750.7,999.4 1751.3,999.8 1751.9,1001.5 1752.5,999.9 1753.1,1000.0 1753.6,1000.7 1754.2,998.8 1754.8,1000.3 1755.4,1001.2 1756.0,1000.1 1756.5,1001.6 1757.1,1000.7 1757.7,1000.2 1758.3,1002.1 1758.9,1001.5 1759.4,1002.0 1760.0,1001.4 1760.6,1000.3 1761.2,1001.8 1761.8,1001.2 1762.3,1001.0 1762.9,1000.2 1763.5,999.5 1764.1,1001.5 1764.7,1000.9 1765.2,1000.5 1765.8,999.9 1766.4,1001.4 1767.0,999.8 1767.6,999.8 1768.1,1002.0 1768.7,1000.7 1769.3,1001.4 1769.9,1000.4 1770.5,1001.3 1771.0,999.9 1771.6,1000.0 1772.2,999.0 1772.8,999.9 1773.4,998.8 1773.9,999.9 1774.5,1000.4 1775.1,1001.0 1775.7,1001.5 1776.3,999.9 1776.8,999.5 1777.4,1000.5 1778.0,999.5 1778.6,1001.4 1779.2,1001.0 1779.7,999.3 1780.3,1000.3 1780.9,1001.1 1781.5,999.5 1782.1,999.9 1782.6,1000.3 1783.2,999.1 1783.8,1000.6 1784.4,1000.0 1785.0,1000.3 1785.5,1000.0 1786.1,1000.0 1786.7,1000.1 1787.3,1000.0 1787.9,1000.4 1788.4,1000.0 1789.0,1000.0 1789.6,1000.2 1790.2,999.4 1790.8,1000.4 1791.3,1002.3 1791.9,1000.9 1792.5,1001.3 1793.1,1001.4 1793.7,1000.3 1794.2,1000.4 1794.8,1001.0 1795.4,999.9 1796.0,1001.4 1796.6,1001.3 1797.1,1001.0 1797.7,1001.1 1798.3,1001.5 1798.9,1001.1 1799.5,999.0 1800.0,1001.3 1800.6,1000.0 1801.2,1000.2 1801.8,1000.1 1802.4,1000.0 1802.9,998.9 1803.5,998.5 1804.1,999.8 1804.7,999.8 1805.3,1000.0 1805.8,998.6 1806.4,999.3 1807.0,1000.1 1807.6,999.2 1808.2,999.0 1808.7,1000.9 1809.3,998.0 1809.9,998.7 1810.5,998.4 1811.1,998.9 1811.6,1001.8 1812.2,998.6 1812.8,999.4 1813.4,999.3 1814.0,999.3 1814.5,1000.7 1815.1,999.8 1815.7,1001.0 1816.3,1001.2 1816.9,999.6 1817.4,1001.0 1818.0,999.0 1818.6,1000.2 1819.2,1000.9 1819.8,999.4 1820.3,1000.4 1820.9,1001.1 1821.5,1001.5 1822.1,1001.5 1822.7,1003.0 1823.2,1001.5 1823.8,1002.7 1824.4,1003.6 1825.0,1001.6 1825.6,1001.9 1826.1,1001.3 1826.7,1002.5 1827.3,1002.8 1827.9,1000.0 1828.5,1000.3 1829.0,1000.2 1829.6,1002.1 1830.2,999.7 1830.8,1000.1 1831.4,998.7 1831.9,1000.2 1832.5,998.7 1833.1,999.4 1833.7,998.6 1834.3,999.3 1834.8,999.2 1835.4,999.4 1836.0,999.4 1836.6,1000.6 1837.2,998.5 1837.7,1000.0 1838.3,999.1 1838.9,998.6 1839.5,998.9 1840.1,997.4 1840.6,999.2 1841.2,999.0 1841.8,998.6 1842.4,998.0 1843.0,995.9 1843.5,997.2 1844.1,996.4 1844.7,994.5 1845.3,993.0 1845.9,990.2 1846.4,989.1 1847.0,986.5 1847.6,982.4 1848.2,980.2 1848.8,976.7 1849.3,974.9 1849.9,969.3 1850.5,963.9 1851.1,962.3 1851.7,960.2 1852.2,955.3 1852.8,952.5 1853.4,951.5 1854.0,952.5 1854.6,950.2 1855.1,951.2 1855.7,954.0 1856.3,955.2 1856.9,957.3 1857.5,963.0 1858.0,966.2 1858.6,970.9 1859.2,974.6 1859.8,978.8 1860.4,980.8 1860.9,985.5 1861.5,987.4 1862.1,991.1 1862.7,992.6 1863.3,996.3 1863.8,995.5 1864.4,995.5 1865.0,998.3 1865.6,998.5 1866.2,998.6 1866.7,999.9 1867.3,1001.4 1867.9,1000.2 1868.5,1000.1 1869.1,1002.0 1869.6,1002.0 1870.2,1001.5 1870.8,1001.3 1871.4,1002.5 1872.0,1001.7 1872.5,1001.9 1873.1,1001.8 1873.7,1002.9 1874.3,1003.0 1874.9,1002.5 1875.4,1003.8 1876.0,1000.9 1876.6,1002.4 1877.2,1001.2 1877.8,1003.2 1878.3,1003.5 1878.9,1001.3 1879.5,1002.1 1880.1,1002.6 1880.7,1001.5 1881.2,1002.0 1881.8,1002.0 1882.4,1002.9 1883.0,1002.4 1883.6,1002.2 1884.1,1002.6 1884.7,1003.2 1885.3,1003.4 1885.9,1003.3 1886.5,1004.3 1887.0,1003.1 1887.6,1003.4 1888.2,1003.7 1888.8,1003.0 1889.4,1004.2 1889.9,1003.8 1890.5,1003.8 1891.1,1002.7 1891.7,1003.2 1892.3,1003.8 1892.8,1004.2 1893.4,1003.0 1894.0,1003.2 1894.6,1002.7 1895.2,1002.6 1895.7,1004.6 1896.3,1003.9 1896.9,1004.4 1897.5,1004.8 1898.1,1004.1 1898.6,1004.2 1899.2,1003.4 1899.8,1003.6 1900.4,1004.2 1901.0,1004.8 1901.5,1004.5 1902.1,1003.3 1902.7,1003.3 1903.3,1004.4 1903.9,1004.4 1904.4,1004.7 1905.0,1004.7 1905.6,1005.6 1906.2,1004.9 1906.8,1005.6 1907.3,1004.9 1907.9,1004.4 1908.5,1003.4 1909.1,1004.3 1909.7,1004.5 1910.2,1004.0 1910.8,1003.3 1911.4,1002.9 1912.0,1004.2 1912.6,1005.8 1913.1,1004.0 1913.7,1004.6 1914.3,1005.1 1914.9,1005.7 1915.5,1004.3 1916.0,1005.0 1916.6,1005.0 1917.2,1003.9 1917.8,1004.8 1918.4,1003.7 1918.9,1004.5 1919.5,1004.8 1920.1,1004.4 1920.7,1003.5 1921.3,1004.9 1921.8,1005.0 1922.4,1004.8 1923.0,1005.4 1923.6,1004.6 1924.2,1004.5 1924.7,1004.9 1925.3,1005.5 1925.9,1005.8 1926.5,1004.8 1927.1,1005.6 1927.6,1005.6 1928.2,1005.3 1928.8,1004.4 1929.4,1004.6 1930.0,1006.3 1930.5,1005.0 1931.1,1004.2 1931.7,1004.3 1932.3,1004.9 1932.9,1005.9 1933.4,1005.3 1934.0,1004.8 1934.6,1005.0 1935.2,1005.7 1935.8,1005.6 1936.3,1004.6 1936.9,1006.6 1937.5,1006.5 1938.1,1005.1 1938.7,1005.5 1939.2,1005.8 1939.8,1005.5 1940.4,1004.9 1941.0,1005.1 1941.6,1006.3 1942.1,1004.9 1942.7,1005.9 1943.3,1005.5 1943.9,1004.7 1944.5,1005.9 1945.0,1005.7 1945.6,1006.3 1946.2,1006.5 1946.8,1006.2 1947.4,1005.7 1947.9,1005.8 1948.5,1006.1 1949.1,1005.0 1949.7,1004.9 1950.3,1006.0 1950.8,1004.8 1951.4,1005.3 1952.0,1006.7 1952.6,1006.1 1953.2,1006.4 1953.7,1005.7 1954.3,1006.5 1954.9,1005.2 1955.5,1005.1 1956.1,1005.5 1956.6,1005.1 1957.2,1006.3 1957.8,1005.3 1958.4,1004.7 1959.0,1006.0 1959.5,1005.9 1960.1,1006.3 1960.7,1004.8 1961.3,1005.0 1961.9,1004.1 1962.4,1005.8 1963.0,1005.6 1963.6,1005.3 1964.2,1006.7 1964.8,1005.5 1965.3,1005.7 1965.9,1005.6 1966.5,1005.5 1967.1,1006.2 1967.7,1006.1 1968.2,1006.0 1968.8,1005.5 1969.4,1005.3 1970.0,1005.7 1970.6,1006.0 1971.1,1005.4 1971.7,1005.6 1972.3,1005.6 1972.9,1005.1 1973.5,1004.5 1974.0,1005.2 1974.6,1006.2 1975.2,1005.4 1975.8,1005.0 1976.4,1004.6 1976.9,1004.7 1977.5,1005.9 1978.1,1004.7 1978.7,1006.7 1979.3,1005.7 1979.8,1005.9 1980.4,1005.5 1981.0,1006.4 1981.6,1006.3 1982.2,1005.1 1982.7,1006.8 1983.3,1005.8 1983.9,1004.9 1984.5,1006.3 1985.1,1006.3 1985.6,1006.5 1986.2,1006.9 1986.8,1007.1 1987.4,1005.5 1988.0,1006.1 1988.5,1006.1 1989.1,1006.2 1989.7,1005.1 1990.3,1006.6 1990.9,1006.7 1991.4,1008.1 1992.0,1006.4 1992.6,1006.6 1993.2,1007.0 1993.8,1006.5 1994.3,1006.8 1994.9,1006.8 1995.5,1005.2 1996.1,1005.7 1996.7,1005.9 1997.2,1004.9 1997.8,1006.9 1998.4,1005.6 1999.0,1005.5 1999.6,1004.4 2000.1,1004.9 2000.7,1004.1 2001.3,1005.8 2001.9,1004.9 2002.5,1005.5 2003.0,1005.9 2003.6,1006.1 2004.2,1005.9 2004.8,1006.9 2005.4,1005.8 2005.9,1005.4 2006.5,1005.6 2007.1,1006.8 2007.7,1007.0 2008.3,1005.3 2008.8,1005.0 2009.4,1005.3 2010.0,1003.9 2010.6,1004.3 2011.2,1003.6 2011.7,1004.5 2012.3,1002.5 2012.9,1003.5 2013.5,1003.4 2014.1,1004.5 2014.6,1005.0 2015.2,1004.8 2015.8,1006.5 2016.4,1005.4 2017.0,1005.0 2017.5,1005.5 2018.1,1006.4 2018.7,1006.4 2019.3,1007.7 2019.9,1006.4 2020.4,1005.6 2021.0,1005.4 2021.6,1006.5 2022.2,1004.0 2022.8,1006.0 2023.3,1006.3 2023.9,1005.4 2024.5,1005.9 2025.1,1006.5 2025.7,1006.6 2026.2,1006.4 2026.8,1006.0 2027.4,1005.1 2028.0,1004.2 2028.6,1003.5 2029.1,1006.2 2029.7,1005.7 2030.3,1004.3 2030.9,1006.0 2031.5,1005.1 2032.0,1005.1 2032.6,1004.6 2033.2,1006.8 2033.8,1004.3 2034.4,1004.3 2034.9,1005.5 2035.5,1005.5 2036.1,1005.2 2036.7,1004.1 2037.3,1004.7 2037.8,1004.3 2038.4,1004.6 2039.0,1006.2 2039.6,1005.2 2040.2,1005.6 2040.7,1004.5 2041.3,1004.8 2041.9,1005.6 2042.5,1006.3 2043.1,1005.4 2043.6,1006.6 2044.2,1007.3 2044.8,1004.3 2045.4,1005.5 2046.0,1005.9 2046.5,1005.1 2047.1,1006.2 2047.7,1005.0 2048.3,1005.0 2048.9,1003.5 2049.4,1005.2 2050.0,1004.2 2050.6,1004.7 2051.2,1004.2 2051.8,1004.0 2052.3,1004.5 2052.9,1004.0 2053.5,1005.0 2054.1,1006.2 2054.7,1006.3 2055.2,1005.1 2055.8,1006.5 2056.4,1005.6 2057.0,1005.4 2057.6,1006.1 2058.1,1006.0 2058.7,1004.9 2059.3,1005.8 2059.9,1004.9 2060.5,1006.2 2061.0,1003.5 2061.6,1004.3 2062.2,1004.1 2062.8,1003.6 2063.4,1003.3 2063.9,1005.1 2064.5,1004.6 2065.1,1003.5 2065.7,1004.2 2066.3,1004.4 2066.8,1004.9 2067.4,1004.0 2068.0,1005.7 2068.6,1004.6 2069.2,1005.5 2069.7,1004.8 2070.3,1004.2 2070.9,1004.2 2071.5,1004.6 2072.1,1004.4 2072.6,1004.4 2073.2,1004.6 2073.8,1004.8 2074.4,1003.1 2075.0,1002.5 2075.5,1002.9 2076.1,1004.4 2076.7,1003.4 2077.3,1003.1 2077.9,1003.9 2078.4,1004.3 2079.0,1003.0 2079.6,1003.2 2080.2,1003.9 2080.8,1004.0 2081.3,1003.6 2081.9,1005.8 2082.5,1005.2 2083.1,1004.2 2083.7,1004.9 2084.2,1003.5 2084.8,1004.9 2085.4,1003.9 2086.0,1003.3 2086.6,1002.6 2087.1,1004.1 2087.7,1003.4 2088.3,1002.9 2088.9,1004.1 2089.5,1003.2 2090.0,1003.6 2090.6,1003.1 2091.2,1003.9 2091.8,1002.8 2092.4,1003.4 2092.9,1003.7 2093.5,1003.0 2094.1,1003.2 2094.7,1004.1 2095.3,1003.1 2095.8,1004.2 2096.4,1003.7 2097.0,1003.3 2097.6,1002.2 2098.2,1004.4 2098.7,1004.3 2099.3,1003.4 2099.9,1003.1 2100.5,1002.9 2101.1,1002.4 2101.6,1002.4 2102.2,1002.9 2102.8,1001.5 2103.4,1002.6 2104.0,1003.1 2104.5,1001.5 2105.1,1002.4 2105.7,1001.7 2106.3,1001.7 2106.9,1003.0 2107.4,1001.5 2108.0,1004.1 2108.6,1001.7 2109.2,1001.1 2109.8,1001.4 2110.3,1001.5 2110.9,1001.7 2111.5,1001.8 2112.1,1001.8 2112.7,1002.5 2113.2,1002.7 2113.8,1001.9 2114.4,1002.2 2115.0,1001.4 2115.6,1001.4 2116.1,1001.6 2116.7,1002.8 2117.3,1001.3 2117.9,1001.9 2118.5,1001.9 2119.0,1002.4 2119.6,1001.4 2120.2,1001.6 2120.8,1002.8 2121.4,1002.2 2121.9,1001.6 2122.5,1002.8 2123.1,1001.9 2123.7,1001.2 2124.3,1002.2 2124.8,1002.7 2125.4,1001.0 2126.0,1000.5 2126.6,999.5 2127.2,1002.8 2127.7,1001.1 2128.3,1001.4 2128.9,1001.0 2129.5,1001.7 2130.1,1001.0 2130.6,1002.8 2131.2,1001.9 2131.8,1000.7 2132.4,999.8 2133.0,1001.0 2133.5,999.7 2134.1,1001.1 2134.7,1000.3 2135.3,1000.0 2135.9,999.1 2136.4,1000.3 2137.0,999.2 2137.6,1001.2 2138.2,999.0 2138.8,1000.4 2139.3,1002.7 2139.9,1000.6 2140.5,1001.7 2141.1,1002.0 2141.7,1001.5 2142.2,1001.1 2142.8,1002.0 2143.4,1002.0 2144.0,1000.8 2144.6,1002.5 2145.1,1002.4 2145.7,1000.6 2146.3,1001.9 2146.9,1002.0 2147.5,1001.7 2148.0,1001.0 2148.6,1000.4 2149.2,1001.5 2149.8,999.6 2150.4,1000.2 2150.9,999.0 2151.5,999.9 2152.1,1000.6 2152.7,999.4 2153.3,1001.1 2153.8,1001.3 2154.4,1001.0 2155.0,1001.2 2155.6,1001.9 2156.2,1001.4 2156.7,999.6 2157.3,1000.9 2157.9,1000.5 2158.5,1001.3 2159.1,1000.1 2159.6,1001.6 2160.2,1001.3 2160.8,1001.9 2161.4,1000.6 2162.0,1001.0 2162.5,999.5 2163.1,1000.9 2163.7,1000.9 2164.3,999.8 2164.9,1000.7 2165.4,999.5 2166.0,1000.7 2166.6,999.5 2167.2,999.6 2167.8,1001.0 2168.3,999.9 2168.9,1000.5 2169.5,1000.1 2170.1,999.3 2170.7,1000.7 2171.2,999.8 2171.8,999.7 2172.4,999.4 2173.0,998.8 2173.6,1000.1 2174.1,999.5 2174.7,999.9 2175.3,999.5 2175.9,1000.1 2176.5,999.3 2177.0,1000.1 2177.6,1000.9 2178.2,1001.2 2178.8,1000.4 2179.4,999.8 2179.9,1001.8 2180.5,1001.7 2181.1,1000.3 2181.7,1001.9 2182.3,1001.4 2182.8,1000.2 2183.4,1001.0 2184.0,999.8 2184.6,1000.2 2185.2,1000.0 2185.7,1000.1 2186.3,1000.9 2186.9,998.9 2187.5,997.8 2188.1,1001.0 2188.6,1000.5 2189.2,1001.8 2189.8,1001.9 2190.4,1002.7 2191.0,1000.0 2191.5,1002.8 2192.1,1001.6 2192.7,1001.2 2193.3,1002.8 2193.9,1002.4 2194.4,1000.3 2195.0,1000.8 2195.6,1002.3 2196.2,999.8 2196.8,1000.9 2197.3,1000.8 2197.9,999.9 2198.5,999.5 2199.1,1000.4 2199.7,999.6"/>
<polyline stroke="#ff0000" points="171.4,578.2 172.0,568.4 172.6,574.5 173.1,572.3 173.7,572.5 174.3,573.0 174.9,569.2 175.5,573.1 176.0,572.0 176.6,581.0 177.2,575.0 177.8,574.2 178.4,574.8 178.9,574.3 179.5,573.8 180.1,575.3 180.7,577.3 181.3,575.9 181.8,578.5 182.4,576.2 183.0,576.8 183.6,580.1 184.2,578.1 184.7,575.9 185.3,576.5 185.9,577.9 186.5,580.7 187.1,576.0 187.6,575.9 188.2,578.4 188.8,574.4 189.4,575.6 190.0,578.1 190.5,577.7 191.1,576.8 191.7,578.2 192.3,571.2 192.9,579.5 193.4,575.7 194.0,574.4 194.6,578.7 195.2,579.6 195.8,577.2 196.3,575.8 196.9,577.9 197.5,577.5 198.1,580.2 198.7,578.5 199.2,577.0 199.8,578.8 200.4,576.0 201.0,574.5 201.6,577.6 202.1,577.6 202.7,576.1 203.3,575.1 203.9,577.4 204.5,572.0 205.0,578.8 205.6,578.6 206.2,574.4 206.8,578.2 207.4,576.2 207.9,580.0 208.5,574.2 209.1,576.6 209.7,579.9 210.3,580.8 210.8,573.8 211.4,577.2 212.0,578.9 212.6,576.9 213.2,581.5 213.7,575.7 214.3,579.0 214.9,576.2 215.5,581.4 216.1,578.6 216.6,578.1 217.2,575.5 217.8,582.8 218.4,581.1 219.0,581.3 219.5,582.2 220.1,580.6 220.7,578.4 221.3,577.9 221.9,577.7 222.4,582.0 223.0,575.9 223.6,577.7 224.2,578.3 224.8,579.7 225.3,580.7 225.9,577.2 226.5,576.5 227.1,580.4 227.7,583.1 228.2,582.1 228.8,580.9 229.4,579.6 230.0,580.6 230.6,579.2 231.1,581.2 231.7,577.7 232.3,579.5 232.9,579.0 233.5,580.4 234.0,579.8 234.6,584.7 235.2,582.7 235.8,582.9 236.4,575.7 236.9,579.3 237.5,578.7 238.1,581.1 238.7,575.1 239.3,582.2 239.8,581.8 240.4,576.7 241.0,577.2 241.6,577.5 242.2,579.3 242.7,580.6 243.3,583.7 243.9,579.2 244.5,581.5 245.1,580.4 245.6,584.0 246.2,582.1 246.8,583.5 247.4,578.4 248.0,580.2 248.5,578.8 249.1,583.5 249.7,581.6 250.3,579.4 250.9,578.9 251.4,580.7 252.0,578.1 252.6,577.6 253.2,580.6 253.8,584.8 254.3,579.2 254.9,578.6 255.5,577.4 256.1,577.0 256.7,580.8 257.2,581.4 257.8,579.6 258.4,580.3 259.0,580.0 259.6,580.3 260.1,577.2 260.7,579.8 261.3,581.4 261.9,579.8 262.5,580.6 263.0,580.0 263.6,581.0 264.2,583.4 264.8,580.6 265.4,580.9 265.9,582.9 266.5,582.5 267.1,584.7 267.7,576.9 268.3,583.1 268.8,580.5 269.4,582.0 270.0,583.6 270.6,584.2 271.2,584.2 271.7,582.4 272.3,585.3 272.9,581.2 273.5,581.4 274.1,583.1 274.6,580.1 275.2,585.5 275.8,582.7 276.4,584.8 277.0,580.0 277.5,579.0 278.1,579.9 278.7,580.9 279.3,578.1 279.9,580.1 280.4,579.4 281.0,582.9 281.6,578.3 282.2,582.0 282.8,578.5 283.3,577.9 283.9,578.4 284.5,577.4 285.1,580.1 285.7,581.9 286.2,579.9 286.8,580.6 287.4,582.5 288.0,579.4 288.6,579.0 289.1,577.8 289.7,575.0 290.3,580.0 290.9,574.9 291.5,580.2 292.0,579.2 292.6,582.0 293.2,579.9 293.8,578.5 294.4,581.1 294.9,579.2 295.5,579.8 296.1,580.1 296.7,579.6 297.3,579.3 297.8,577.7 298.4,578.9 299.0,574.6 299.6,578.4 300.2,576.0 300.7,580.5 301.3,580.4 301.9,573.3 302.5,577.2 303.1,576.2 303.6,573.9 304.2,576.9 304.8,574.6 305.4,571.7 306.0,574.7 306.5,574.8 307.1,575.3 307.7,572.6 308.3,576.6 308.9,577.1 309.4,573.5 310.0,574.9 310.6,576.6 311.2,575.9 311.8,581.0 312.3,578.0 312.9,575.5 313.5,575.9 314.1,577.2 314.7,581.9 315.2,576.5 315.8,576.8 316.4,577.4 317.0,576.1 317.6,580.8 318.1,574.8 318.7,577.4 319.3,576.1 319.9,576.9 320.5,573.0 321.0,579.0 321.6,575.0 322.2,575.3 322.8,573.4 323.4,574.0 323.9,576.8 324.5,577.9 325.1,577.6 325.7,578.6 326.3,577.5 326.8,575.9 327.4,577.2 328.0,576.3 328.6,574.5 329.2,575.8 329.7,576.6 330.3,574.0 330.9,572.5 331.5,574.5 332.1,576.8 332.6,572.4 333.2,572.8 333.8,572.9 334.4,576.0 335.0,569.9 335.5,574.8 336.1,576.7 336.7,572.7 337.3,577.5 337.9,575.4 338.4,572.9 339.0,574.2 339.6,570.4 340.2,572.1 340.8,576.8 341.3,570.9 341.9,576.3 342.5,572.0 343.1,574.0 343.7,571.8 344.2,566.8 344.8,570.2 345.4,571.7 346.0,568.8 346.6,568.3 347.1,571.7 347.7,569.5 348.3,567.2 348.9,569.3 349.5,572.5 350.0,569.8 350.6,572.8 351.2,574.0 351.8,570.8 352.4,568.2 352.9,567.6 353.5,569.9 354.1,571.5 354.7,569.9 355.3,570.1 355.8,567.7 356.4,569.1 357.0,567.4 357.6,567.8 358.2,565.8 358.7,565.2 359.3,567.5 359.9,566.1 360.5,566.4 361.1,569.8 361.6,568.1 362.2,574.2 362.8,569.8 363.4,566.3 364.0,568.9 364.5,567.7 365.1,565.3 365.7,568.8 366.3,564.6 366.9,559.6 367.4,567.4 368.0,564.4 368.6,568.7 369.2,564.3 369.8,563.3 370.3,569.2 370.9,563.8 371.5,566.6 372.1,569.2 372.7,566.3 373.2,565.5 373.8,565.5 374.4,566.5 375.0,562.6 375.6,565.2 376.1,564.9 376.7,568.4 377.3,562.8 377.9,561.6 378.5,565.1 379.0,562.9 379.6,564.5 380.2,564.4 380.8,566.7 381.4,563.0 381.9,564.1 382.5,558.8 383.1,562.0 383.7,566.7 384.3,561.4 384.8,560.7 385.4,559.0 386.0,562.2 386.6,561.0 387.2,557.9 387.7,561.6 388.3,557.2 388.9,561.5 389.5,558.4 390.1,563.2 390.6,560.2 391.2,559.0 391.8,558.0 392.4,558.6 393.0,560.9 393.5,558.6 394.1,561.5 394.7,560.6 395.3,562.2 395.9,560.9 396.4,558.9 397.0,554.8 397.6,559.2 398.2,560.0 398.8,558.6 399.3,559.2 399.9,556.8 400.5,556.8 401.1,555.4 401.7,560.0 402.2,557.2 402.8,555.6 403.4,553.7 404.0,556.0 404.6,559.2 405.1,557.2 405.7,554.6 406.3,559.0 406.9,558.8 407.5,557.6 408.0,556.7 408.6,557.0 409.2,555.3 409.8,555.4 410.4,551.8 410.9,556.4 411.5,553.7 412.1,557.5 412.7,549.1 413.3,554.8 413.8,555.3 414.4,552.3 415.0,553.7 415.6,554.1 416.2,553.4 416.7,550.8 417.3,551.3 417.9,553.5 418.5,553.8 419.1,551.2 419.6,551.0 420.2,551.1 420.8,552.7 421.4,548.0 422.0,547.2 422.5,549.9 423.1,547.0 423.7,547.8 424.3,549.0 424.9,549.7 425.4,546.4 426.0,550.3 426.6,545.0 427.2,550.0 427.8,545.5 428.3,546.1 428.9,550.0 429.5,547.7 430.1,546.5 430.7,546.9 431.2,548.3 431.8,546.8 432.4,546.4 433.0,548.2 433.6,544.2 434.1,544.3 434.7,543.9 435.3,547.1 435.9,546.5 436.5,547.0 437.0,544.1 437.6,543.8 438.2,545.7 438.8,542.9 439.4,545.1 439.9,544.5 440.5,540.9 441.1,541.6 441.7,540.9 442.3,544.2 442.8,545.4 443.4,539.3 444.0,539.3 444.6,534.3 445.2,539.5 445.7,539.1 446.3,536.9 446.9,540.7 447.5,535.6 448.1,538.1 448.6,538.4 449.2,535.0 449.8,538.9 450.4,538.7 451.0,533.1 451.5,532.6 452.1,536.4 452.7,534.7 453.3,531.8 453.9,533.3 454.4,533.3 455.0,532.8 455.6,534.3 456.2,532.9 456.8,535.3 457.3,534.0 457.9,532.1 458.5,532.6 459.1,532.8 459.7,526.1 460.2,527.0 460.8,531.1 461.4,529.3 462.0,532.4 462.6,529.1 463.1,529.8 463.7,529.2 464.3,531.8 464.9,528.4 465.5,527.3 466.0,528.2 466.6,526.4 467.2,527.4 467.8,526.8 468.4,527.0 468.9,530.1 469.5,524.8 470.1,525.3 470.7,524.4 471.3,525.8 471.8,521.6 472.4,522.4 473.0,523.7 473.6,524.8 474.2,523.4 474.7,522.2 475.3,521.2 475.9,523.7 476.5,525.2 477.1,522.4 477.6,521.5 478.2,521.5 478.8,518.0 479.4,518.8 480.0,518.4 480.5,519.2 481.1,518.0 481.7,515.1 482.3,519.4 482.9,520.1 483.4,515.6 484.0,516.6 484.6,516.1 485.2,516.9 485.8,512.1 486.3,518.4 486.9,513.9 487.5,517.4 488.1,514.6 488.7,513.2 489.2,513.1 489.8,514.6 490.4,510.1 491.0,510.1 491.6,508.9 492.1,505.4 492.7,510.9 493.3,508.7 493.9,507.0 494.5,509.0 495.0,504.3 495.6,505.9 496.2,509.4 496.8,507.5 497.4,500.3 497.9,497.5 498.5,501.7 499.1,505.4 499.7,501.6 500.3,501.6 500.8,502.9 501.4,499.2 502.0,500.9 502.6,501.3 503.2,499.8 503.7,498.8 504.3,495.7 504.9,497.2 505.5,494.3 506.1,488.7 506.6,499.1 507.2,491.7 507.8,488.2 508.4,491.5 509.0,492.8 509.5,493.8 510.1,493.5 510.7,489.2 511.3,488.8 511.9,492.6 512.4,487.2 513.0,491.2 513.6,488.0 514.2,489.7 514.8,489.2 515.3,489.1 515.9,489.0 516.5,485.1 517.1,487.6 517.7,486.8 518.2,487.2 518.8,488.7 519.4,485.1 520.0,483.5 520.6,482.6 521.1,482.6 521.7,484.0 522.3,479.9 522.9,483.3 523.5,480.8 524.0,479.2 524.6,476.4 525.2,479.4 525.8,480.1 526.4,474.9 526.9,479.4 527.5,481.9 528.1,479.0 528.7,479.1 529.3,482.6 529.8,479.6 530.4,474.5 531.0,475.6 531.6,474.5 532.2,473.8 532.7,468.5 533.3,474.6 533.9,471.3 534.5,472.8 535.1,472.1 535.6,474.1 536.2,471.6 536.8,470.3 537.4,472.9 538.0,474.5 538.5,470.6 539.1,473.9 539.7,471.3 540.3,469.3 540.9,473.2 541.4,468.0 542.0,471.5 542.6,468.0 543.2,469.7 543.8,465.9 544.3,466.5 544.9,470.2 545.5,468.1 546.1,467.6 546.7,466.5 547.2,468.2 547.8,464.3 548.4,464.9 549.0,467.0 549.6,465.7 550.1,466.0 550.7,467.3 551.3,467.1 551.9,466.7 552.5,470.4 553.0,468.7 553.6,468.8 554.2,465.9 554.8,464.5 555.4,462.2 555.9,464.2 556.5,460.2 557.1,463.0 557.7,465.4 558.3,466.8 558.8,465.0 559.4,460.9 560.0,463.4 560.6,460.5 561.2,463.8 561.7,461.8 562.3,463.8 562.9,467.4 563.5,464.0 564.1,466.8 564.6,462.2 565.2,461.0 565.8,464.2 566.4,464.7 567.0,459.7 567.5,460.8 568.1,457.4 568.7,459.8 569.3,462.0 569.9,460.1 570.4,459.2 571.0,457.5 571.6,461.3 572.2,462.2 572.8,461.7 573.3,460.9 573.9,457.4 574.5,463.4 575.1,459.2 575.7,458.6 576.2,460.0 576.8,453.6 577.4,457.6 578.0,457.1 578.6,457.9 579.1,459.7 579.7,457.8 580.3,453.1 580.9,456.3 581.5,457.6 582.0,457.6 582.6,454.7 583.2,454.0 583.8,458.6 584.4,458.0 584.9,457.0 585.5,453.2 586.1,460.3 586.7,450.4 587.3,455.5 587.8,460.7 588.4,456.0 589.0,456.9 589.6,453.9 590.2,459.0 590.7,453.2 591.3,456.1 591.9,455.5 592.5,452.6 593.1,456.2 593.6,451.1 594.2,452.5 594.8,453.9 595.4,453.4 596.0,455.7 596.5,457.2 597.1,455.3 597.7,455.3 598.3,455.8 598.9,456.4 599.4,459.0 600.0,457.0 600.6,458.3 601.2,457.3 601.8,455.8 602.3,459.5 602.9,455.7 603.5,458.1 604.1,461.5 604.7,456.4 605.2,458.7 605.8,455.6 606.4,457.9 607.0,455.9 607.6,458.3 608.1,458.1 608.7,459.7 609.3,462.9 609.9,460.6 610.5,461.7 611.0,460.6 611.6,460.6 612.2,459.8 612.8,458.0 613.4,462.1 613.9,465.4 614.5,463.1 615.1,461.1 615.7,465.7 616.3,461.5 616.8,461.3 617.4,460.2 618.0,461.0 618.6,462.8 619.2,467.7 619.7,463.5 620.3,462.2 620.9,463.4 621.5,464.5 622.1,461.6 622.6,465.5 623.2,466.7 623.8,466.0 624.4,466.7 625.0,462.9 625.5,462.2 626.1,468.5 626.7,468.4 627.3,463.3 627.9,467.2 628.4,467.2 629.0,468.6 629.6,468.2 630.2,467.0 630.8,468.6 631.3,468.7 631.9,468.4 632.5,465.0 633.1,463.0 633.7,467.9 634.2,466.6 634.8,470.8 635.4,472.1 636.0,471.7 636.6,470.9 637.1,472.4 637.7,475.3 638.3,472.1 638.9,476.0 639.5,476.1 640.0,475.6 640.6,478.5 641.2,474.5 641.8,478.1 642.4,474.5 642.9,475.1 643.5,474.7 644.1,478.0 644.7,475.6 645.3,478.0 645.8,476.0 646.4,480.7 647.0,482.6 647.6,479.9 648.2,483.2 648.7,481.5 649.3,485.3 649.9,481.7 650.5,478.9 651.1,485.3 651.6,482.3 652.2,480.7 652.8,481.5 653.4,479.6 654.0,482.6 654.5,481.0 655.1,486.5 655.7,485.5 656.3,481.8 656.9,483.1 657.4,486.1 658.0,484.7 658.6,489.3 659.2,490.4 659.8,489.8 660.3,490.9 660.9,493.5 661.5,496.0 662.1,496.9 662.7,494.8 663.2,497.3 663.8,495.2 664.4,498.4 665.0,496.7 665.6,500.9 666.1,498.0 666.7,499.4 667.3,502.1 667.9,504.0 668.5,501.2 669.0,503.9 669.6,506.4 670.2,507.9 670.8,507.2 671.4,510.3 671.9,510.9 672.5,515.2 673.1,514.6 673.7,512.0 674.3,511.1 674.8,516.0 675.4,518.7 676.0,517.6 676.6,519.8 677.2,518.3 677.7,517.8 678.3,522.9 678.9,523.0 679.5,525.1 680.1,522.2 680.6,525.9 681.2,525.0 681.8,528.1 682.4,526.0 683.0,526.3 683.5,526.8 684.1,530.7 684.7,529.0 685.3,528.1 685.9,528.3 686.4,529.0 687.0,534.3 687.6,529.0 688.2,531.5 688.8,534.9 689.3,536.7 689.9,535.0 690.5,537.4 691.1,538.0 691.7,539.1 692.2,538.1 692.8,541.7 693.4,539.6 694.0,542.6 694.6,538.3 695.1,542.6 695.7,539.0 696.3,539.0 696.9,543.1 697.5,541.2 698.0,544.0 698.6,541.9 699.2,547.4 699.8,545.3 700.4,544.1 700.9,547.3 701.5,549.3 702.1,547.1 702.7,550.1 703.3,553.5 703.8,551.8 704.4,550.7 705.0,550.1 705.6,552.7 706.2,549.4 706.7,547.3 707.3,552.1 707.9,551.8 708.5,557.4 709.1,554.9 709.6,553.3 710.2,553.3 710.8,556.6 711.4,554.6 712.0,555.4 712.5,556.8 713.1,557.6 713.7,558.3 714.3,559.0 714.9,561.7 715.4,563.0 716.0,557.6 716.6,565.6 717.2,561.7 717.8,564.0 718.3,560.9 718.9,563.3 719.5,563.7 720.1,564.2 720.7,566.3 721.2,566.9 721.8,564.9 722.4,567.3 723.0,569.5 723.6,570.2 724.1,568.9 724.7,569.4 725.3,570.0 725.9,568.5 726.5,568.3 727.0,573.5 727.6,570.2 728.2,571.4 728.8,570.3 729.4,574.4 729.9,575.8 730.5,572.9 731.1,574.8 731.7,573.3 732.3,578.3 732.8,577.5 733.4,575.1 734.0,579.4 734.6,578.5 735.2,579.3 735.7,579.9 736.3,578.8 736.9,579.6 737.5,582.0 738.1,581.2 738.6,579.9 739.2,585.2 739.8,581.5 740.4,581.0 741.0,580.9 741.5,583.6 742.1,584.5 742.7,583.8 743.3,585.6 743.9,582.3 744.4,585.0 745.0,585.6 745.6,587.1 746.2,588.5 746.8,584.7 747.3,593.9 747.9,587.4 748.5,589.8 749.1,591.0 749.7,591.5 750.2,590.9 750.8,585.9 751.4,589.3 752.0,592.7 752.6,590.1 753.1,590.0 753.7,587.9 754.3,594.1 754.9,593.1 755.5,590.9 756.0,593.1 756.6,592.7 757.2,591.3 757.8,593.1 758.4,594.5 758.9,595.5 759.5,597.3 760.1,595.7 760.7,595.4 761.3,597.2 761.8,595.8 762.4,595.0 763.0,599.3 763.6,597.0 764.2,598.2 764.7,599.4 765.3,597.0 765.9,600.4 766.5,600.6 767.1,600.1 767.6,601.3 768.2,599.6 768.8,597.3 769.4,600.7 770.0,599.9 770.5,603.1 771.1,602.5 771.7,601.5 772.3,602.8 772.9,605.4 773.4,605.4 774.0,604.4 774.6,604.9 775.2,604.0 775.8,604.7 776.3,606.3 776.9,605.5 777.5,606.6 778.1,604.6 778.7,603.9 779.2,604.0 779.8,606.2 780.4,609.2 781.0,609.1 781.6,605.8 782.1,605.2 782.7,609.4 783.3,609.3 783.9,606.7 784.5,611.1 785.0,609.9 785.6,612.1 786.2,610.7 786.8,611.9 787.4,611.2 787.9,609.5 788.5,610.9 789.1,610.4 789.7,613.0 790.3,610.1 790.8,609.3 791.4,613.0 792.0,613.8 792.6,614.4 793.2,614.0 793.7,610.2 794.3,611.9 794.9,612.6 795.5,613.8 796.1,610.8 796.6,614.6 797.2,615.4 797.8,613.7 798.4,615.7 799.0,617.8 799.5,616.2 800.1,618.2 800.7,618.4 801.3,617.8 801.9,618.1 802.4,617.3 803.0,620.2 803.6,617.8 804.2,617.7 804.8,620.2 805.3,618.1 805.9,620.1 806.5,621.1 807.1,619.4 807.7,619.2 808.2,620.1 808.8,619.4 809.4,615.1 810.0,614.7 810.6,617.9 811.1,615.4 811.7,610.5 812.3,610.6 812.9,611.8 813.5,609.6 814.0,611.6 814.6,611.2 815.2,612.6 815.8,611.2 816.4,615.5 816.9,619.2 817.5,616.4 818.1,621.2 818.7,622.0 819.3,622.7 819.8,622.5 820.4,621.6 821.0,622.7 821.6,625.7 822.2,626.5 822.7,627.2 823.3,627.1 823.9,627.3 824.5,625.4 825.1,624.4 825.6,626.7 826.2,627.3 826.8,626.8 827.4,624.5 828.0,626.2 828.5,625.0 829.1,627.8 829.7,626.3 830.3,627.9 830.9,628.9 831.4,628.8 832.0,630.8 832.6,627.0 833.2,625.3 833.8,629.9 834.3,630.4 834.9,630.1 835.5,628.0 836.1,627.8 836.7,626.4 837.2,623.2 837.8,622.8 838.4,622.4 839.0,618.3 839.6,618.9 840.1,610.0 840.7,607.6 841.3,605.8 841.9,599.4 842.5,595.6 843.0,593.8 843.6,595.1 844.2,600.6 844.8,602.4 845.4,606.7 845.9,609.5 846.5,615.6 847.1,618.2 847.7,619.8 848.3,623.1 848.8,626.3 849.4,629.5 850.0,629.0 850.6,630.9 851.2,634.0 851.7,630.5 852.3,630.4 852.9,634.2 853.5,633.9 854.1,633.5 854.6,634.4 855.2,633.9 855.8,635.5 856.4,634.7 857.0,636.8 857.5,634.5 858.1,635.5 858.7,637.4 859.3,637.0 859.9,639.0 860.4,638.2 861.0,637.6 861.6,638.8 862.2,637.7 862.8,636.3 863.3,637.0 863.9,637.7 864.5,638.4 865.1,639.4 865.7,640.7 866.2,640.2 866.8,641.8 867.4,641.0 868.0,638.7 868.6,641.3 869.1,640.6 869.7,638.3 870.3,639.6 870.9,641.0 871.5,640.0 872.0,641.4 872.6,640.6 873.2,641.2 873.8,639.7 874.4,640.7 874.9,639.5 875.5,640.9 876.1,637.3 876.7,639.8 877.3,640.7 877.8,639.0 878.4,637.3 879.0,636.8 879.6,633.3 880.2,631.3 880.7,629.5 881.3,627.0 881.9,625.3 882.5,619.1 883.1,618.2 883.6,611.2 884.2,609.6 884.8,609.3 885.4,611.2 886.0,610.5 886.5,611.3 887.1,618.5 887.7,621.8 888.3,624.3 888.9,628.1 889.4,631.9 890.0,635.9 890.6,639.1 891.2,638.0 891.8,644.7 892.3,642.3 892.9,642.4 893.5,644.1 894.1,643.5 894.7,646.5 895.2,644.8 895.8,642.9 896.4,643.0 897.0,643.0 897.6,643.5 898.1,645.3 898.7,643.8 899.3,647.4 899.9,645.4 900.5,645.7 901.0,647.4 901.6,643.6 902.2,645.2 902.8,647.5 903.4,646.8 903.9,646.9 904.5,647.7 905.1,646.6 905.7,647.5 906.3,646.2 906.8,645.7 907.4,650.2 908.0,647.3 908.6,647.7 909.2,650.6 909.7,650.2 910.3,648.2 910.9,648.3 911.5,649.1 912.1,648.1 912.6,650.2 913.2,649.9 913.8,650.0 914.4,651.0 915.0,651.1 915.5,652.7 916.1,652.5 916.7,648.4 917.3,652.0 917.9,649.5 918.4,649.3 919.0,652.2 919.6,650.5 920.2,651.1 920.8,653.1 921.3,650.9 921.9,650.7 922.5,652.4 923.1,653.7 923.7,652.8 924.2,650.1 924.8,653.4 925.4,652.1 926.0,654.9 926.6,653.6 927.1,653.7 927.7,654.2 928.3,652.3 928.9,653.3 929.5,653.2 930.0,651.2 930.6,652.4 931.2,653.1 931.8,650.9 932.4,653.4 932.9,653.3 933.5,653.6 934.1,651.1 934.7,652.0 935.3,653.3 935.8,651.8 936.4,649.0 937.0,649.3 937.6,649.5 938.2,646.1 938.7,644.7 939.3,645.2 939.9,639.2 940.5,635.9 941.1,631.2 941.6,627.6 942.2,626.1 942.8,619.5 943.4,613.8 944.0,610.4 944.5,609.0 945.1,608.7 945.7,606.9 946.3,611.0 946.9,612.7 947.4,618.1 948.0,623.0 948.6,627.8 949.2,631.0 949.8,635.4 950.3,639.9 950.9,640.7 951.5,645.1 952.1,647.6 952.7,650.0 953.2,650.0 953.8,650.8 954.4,652.1 955.0,651.6 955.6,652.8 956.1,654.0 956.7,654.1 957.3,652.8 957.9,653.8 958.5,651.7 959.0,655.3 959.6,653.6 960.2,654.5 960.8,652.8 961.4,655.6 961.9,654.5 962.5,655.1 963.1,652.2 963.7,654.8 964.3,653.4 964.8,652.5 965.4,653.8 966.0,652.6 966.6,652.4 967.2,651.6 967.7,652.4 968.3,651.9 968.9,651.2 969.5,649.8 970.1,649.6 970.6,649.7 971.2,649.5 971.8,646.2 972.4,645.8 973.0,641.4 973.5,636.9 974.1,635.3 974.7,628.9 975.3,626.0 975.9,621.9 976.4,615.1 977.0,610.8 977.6,610.8 978.2,605.5 978.8,605.2 979.3,607.5 979.9,609.4 980.5,613.7 981.1,619.1 981.7,620.3 982.2,629.9 982.8,630.9 983.4,634.5 984.0,639.5 984.6,641.5 985.1,642.2 985.7,645.8 986.3,645.7 986.9,647.5 987.5,647.6 988.0,649.2 988.6,651.1 989.2,650.9 989.8,651.0 990.4,651.1 990.9,649.1 991.5,647.1 992.1,645.8 992.7,646.1 993.3,641.7 993.8,639.1 994.4,635.1 995.0,631.5 995.6,627.2 996.2,621.5 996.7,616.0 997.3,609.9 997.9,605.1 998.5,603.4 999.1,602.2 999.6,602.8 1000.2,604.0 1000.8,606.8 1001.4,613.8 1002.0,619.2 1002.5,621.7 1003.1,629.7 1003.7,633.8 1004.3,639.0 1004.9,639.0 1005.4,641.7 1006.0,646.6 1006.6,645.5 1007.2,648.3 1007.8,649.1 1008.3,650.1 1008.9,649.7 1009.5,652.0 1010.1,653.7 1010.7,653.3 1011.2,653.5 1011.8,652.9 1012.4,655.3 1013.0,654.6 1013.6,655.5 1014.1,652.9 1014.7,655.3 1015.3,653.7 1015.9,655.3 1016.5,655.0 1017.0,653.3 1017.6,654.5 1018.2,655.4 1018.8,654.5 1019.4,654.5 1019.9,652.8 1020.5,653.1 1021.1,652.8 1021.7,654.3 1022.3,655.6 1022.8,654.8 1023.4,654.2 1024.0,652.7 1024.6,654.0 1025.2,652.5 1025.7,649.8 1026.3,649.0 1026.9,649.4 1027.5,647.4 1028.1,648.8 1028.6,644.9 1029.2,641.2 1029.8,638.8 1030.4,637.8 1031.0,630.4 1031.5,627.8 1032.1,622.0 1032.7,617.7 1033.3,610.5 1033.9,603.5 1034.4,599.8 1035.0,595.4 1035.6,594.9 1036.2,593.6 1036.8,598.9 1037.3,599.6 1037.9,605.1 1038.5,608.6 1039.1,614.5 1039.7,618.7 1040.2,622.3 1040.8,625.8 1041.4,625.3 1042.0,625.0 1042.6,626.4 1043.1,622.1 1043.7,617.9 1044.3,615.6 1044.9,609.4 1045.5,598.1 1046.0,594.6 1046.6,589.7 1047.2,584.1 1047.8,578.0 1048.4,579.6 1048.9,577.0 1049.5,581.6 1050.1,587.8 1050.7,594.5 1051.3,603.0 1051.8,610.6 1052.4,616.1 1053.0,624.3 1053.6,627.2 1054.2,632.6 1054.7,639.0 1055.3,640.4 1055.9,644.3 1056.5,644.7 1057.1,646.7 1057.6,648.3 1058.2,649.7 1058.8,650.0 1059.4,651.1 1060.0,652.3 1060.5,653.3 1061.1,652.3 1061.7,653.0 1062.3,653.3 1062.9,651.1 1063.4,650.6 1064.0,654.3 1064.6,654.2 1065.2,652.9 1065.8,653.5 1066.3,652.2 1066.9,651.9 1067.5,653.9 1068.1,651.9 1068.7,654.6 1069.2,652.8 1069.8,653.8 1070.4,655.5 1071.0,655.4 1071.6,653.0 1072.1,654.5 1072.7,652.1 1073.3,652.5 1073.9,653.5 1074.5,654.5 1075.0,652.0 1075.6,653.1 1076.2,652.3 1076.8,650.5 1077.4,651.6 1077.9,653.3 1078.5,651.5 1079.1,652.1 1079.7,652.5 1080.3,650.7 1080.8,653.0 1081.4,653.2 1082.0,653.2 1082.6,652.5 1083.2,650.0 1083.7,649.4 1084.3,648.6 1084.9,648.0 1085.5,647.7 1086.1,649.4 1086.6,649.8 1087.2,647.2 1087.8,648.9 1088.4,646.5 1089.0,647.6 1089.5,646.8 1090.1,646.0 1090.7,647.8 1091.3,647.6 1091.9,646.8 1092.4,646.4 1093.0,645.6 1093.6,646.3 1094.2,645.4 1094.8,646.1 1095.3,644.1 1095.9,645.5 1096.5,645.5 1097.1,646.1 1097.7,645.6 1098.2,644.4 1098.8,643.2 1099.4,641.7 1100.0,643.7 1100.6,645.3 1101.1,645.4 1101.7,640.2 1102.3,642.1 1102.9,642.2 1103.5,640.8 1104.0,641.5 1104.6,640.3 1105.2,638.2 1105.8,637.1 1106.4,633.2 1106.9,631.5 1107.5,628.7 1108.1,627.8 1108.7,620.9 1109.3,618.6 1109.8,615.6 1110.4,610.0 1111.0,606.8 1111.6,600.8 1112.2,599.3 1112.7,598.3 1113.3,600.1 1113.9,599.5 1114.5,603.4 1115.1,605.3 1115.6,609.8 1116.2,616.2 1116.8,619.1 1117.4,623.9 1118.0,626.2 1118.5,630.8 1119.1,633.4 1119.7,631.2 1120.3,636.0 1120.9,635.3 1121.4,636.1 1122.0,635.8 1122.6,637.0 1123.2,634.6 1123.8,634.7 1124.3,633.7 1124.9,633.8 1125.5,633.0 1126.1,631.0 1126.7,628.5 1127.2,625.0 1127.8,621.0 1128.4,621.4 1129.0,618.5 1129.6,616.5 1130.1,616.1 1130.7,612.8 1131.3,612.6 1131.9,610.6 1132.5,616.3 1133.0,617.8 1133.6,619.6 1134.2,623.9 1134.8,624.8 1135.4,628.0 1135.9,633.5 1136.5,634.0 1137.1,635.8 1137.7,636.9 1138.3,637.8 1138.8,638.0 1139.4,641.2 1140.0,638.7 1140.6,640.0 1141.2,639.0 1141.7,639.0 1142.3,636.5 1142.9,637.1 1143.5,641.3 1144.1,641.3 1144.6,639.0 1145.2,639.6 1145.8,640.6 1146.4,638.8 1147.0,642.3 1147.5,639.0 1148.1,639.4 1148.7,637.0 1149.3,642.3 1149.9,636.7 1150.4,642.7 1151.0,639.8 1151.6,641.9 1152.2,642.1 1152.8,642.8 1153.3,645.7 1153.9,646.5 1154.5,645.9 1155.1,644.2 1155.7,646.1 1156.2,646.8 1156.8,645.9 1157.4,645.9 1158.0,645.8 1158.6,644.1 1159.1,645.5 1159.7,647.2 1160.3,644.4 1160.9,646.0 1161.5,647.3 1162.0,645.2 1162.6,647.1 1163.2,645.7 1163.8,647.2 1164.4,646.5 1164.9,646.8 1165.5,647.9 1166.1,648.3 1166.7,648.6 1167.3,646.3 1167.8,651.3 1168.4,649.5 1169.0,648.9 1169.6,649.7 1170.2,650.9 1170.7,649.5 1171.3,650.1 1171.9,650.0 1172.5,651.1 1173.1,647.7 1173.6,651.1 1174.2,651.1 1174.8,650.7 1175.4,652.5 1176.0,651.4 1176.5,650.4 1177.1,652.4 1177.7,652.6 1178.3,652.7 1178.9,653.2 1179.4,655.7 1180.0,653.2 1180.6,653.3 1181.2,652.2 1181.8,653.8 1182.3,652.0 1182.9,651.0 1183.5,650.4 1184.1,652.4 1184.7,652.6 1185.2,649.9 1185.8,650.7 1186.4,651.9 1187.0,651.7 1187.6,648.1 1188.1,648.0 1188.7,648.0 1189.3,644.7 1189.9,642.9 1190.5,640.8 1191.0,637.9 1191.6,637.7 1192.2,636.5 1192.8,633.4 1193.4,635.0 1193.9,636.8 1194.5,636.9 1195.1,639.5 1195.7,639.6 1196.3,644.1 1196.8,643.6 1197.4,648.7 1198.0,647.8 1198.6,649.1 1199.2,650.4 1199.7,652.2 1200.3,653.1 1200.9,653.8 1201.5,654.9 1202.1,656.6 1202.6,657.4 1203.2,656.5 1203.8,658.7 1204.4,656.6 1205.0,656.9 1205.5,657.0 1206.1,659.1 1206.7,656.8 1207.3,657.1 1207.9,660.1 1208.4,660.7 1209.0,660.4 1209.6,657.4 1210.2,659.2 1210.8,660.3 1211.3,659.6 1211.9,657.9 1212.5,659.4 1213.1,657.9 1213.7,658.5 1214.2,662.3 1214.8,660.8 1215.4,658.5 1216.0,658.5 1216.6,660.6 1217.1,659.3 1217.7,660.4 1218.3,658.8 1218.9,658.9 1219.5,659.0 1220.0,657.3 1220.6,656.1 1221.2,658.6 1221.8,657.3 1222.4,657.9 1222.9,658.4 1223.5,658.8 1224.1,659.9 1224.7,658.8 1225.3,661.9 1225.8,663.1 1226.4,661.8 1227.0,662.1 1227.6,663.7 1228.2,663.5 1228.7,663.3 1229.3,663.2 1229.9,662.8 1230.5,662.5 1231.1,664.5 1231.6,665.1 1232.2,662.7 1232.8,663.6 1233.4,663.9 1234.0,663.1 1234.5,662.7 1235.1,663.0 1235.7,661.3 1236.3,663.4 1236.9,663.3 1237.4,666.1 1238.0,665.1 1238.6,663.9 1239.2,664.4 1239.8,666.2 1240.3,666.1 1240.9,664.5 1241.5,664.2 1242.1,662.8 1242.7,664.0 1243.2,664.3 1243.8,662.6 1244.4,666.5 1245.0,662.7 1245.6,664.6 1246.1,665.1 1246.7,665.1 1247.3,666.3 1247.9,663.0 1248.5,663.7 1249.0,664.7 1249.6,664.8 1250.2,664.3 1250.8,663.9 1251.4,665.7 1251.9,663.4 1252.5,663.7 1253.1,665.5 1253.7,665.5 1254.3,664.2 1254.8,661.8 1255.4,661.2 1256.0,660.3 1256.6,659.1 1257.2,658.8 1257.7,659.4 1258.3,657.0 1258.9,654.7 1259.5,653.8 1260.1,652.8 1260.6,655.5 1261.2,652.3 1261.8,655.8 1262.4,655.1 1263.0,656.8 1263.5,657.6 1264.1,661.4 1264.7,661.3 1265.3,665.2 1265.9,662.0 1266.4,662.6 1267.0,665.1 1267.6,665.7 1268.2,665.4 1268.8,664.1 1269.3,668.2 1269.9,667.6 1270.5,667.7 1271.1,666.8 1271.7,668.2 1272.2,667.1 1272.8,667.7 1273.4,667.4 1274.0,668.9 1274.6,667.2 1275.1,667.3 1275.7,668.9 1276.3,667.9 1276.9,667.7 1277.5,667.4 1278.0,668.6 1278.6,666.9 1279.2,668.0 1279.8,669.5 1280.4,667.6 1280.9,666.3 1281.5,665.7 1282.1,667.1 1282.7,665.7 1283.3,665.3 1283.8,666.2 1284.4,665.9 1285.0,668.0 1285.6,665.7 1286.2,668.8 1286.7,666.4 1287.3,667.2 1287.9,667.7 1288.5,667.2 1289.1,667.6 1289.6,665.7 1290.2,664.2 1290.8,666.0 1291.4,664.0 1292.0,664.5 1292.5,665.2 1293.1,662.9 1293.7,661.1 1294.3,659.0 1294.9,658.2 1295.4,656.4 1296.0,652.7 1296.6,652.8 1297.2,649.2 1297.8,649.0 1298.3,647.1 1298.9,648.3 1299.5,648.6 1300.1,648.8 1300.7,650.5 1301.2,653.5 1301.8,657.0 1302.4,659.1 1303.0,660.4 1303.6,662.6 1304.1,665.8 1304.7,664.1 1305.3,667.8 1305.9,667.4 1306.5,670.7 1307.0,669.6 1307.6,670.6 1308.2,670.2 1308.8,671.8 1309.4,673.0 1309.9,674.3 1310.5,671.8 1311.1,673.1 1311.7,677.8 1312.3,675.1 1312.8,674.4 1313.4,675.1 1314.0,672.1 1314.6,676.4 1315.2,675.0 1315.7,673.5 1316.3,676.1 1316.9,674.4 1317.5,674.0 1318.1,674.9 1318.6,675.4 1319.2,674.5 1319.8,674.9 1320.4,673.7 1321.0,673.6 1321.5,676.1 1322.1,676.7 1322.7,676.0 1323.3,676.2 1323.9,675.7 1324.4,676.2 1325.0,675.6 1325.6,678.3 1326.2,676.2 1326.8,677.1 1327.3,676.7 1327.9,675.3 1328.5,678.5 1329.1,676.2 1329.7,675.8 1330.2,676.6 1330.8,675.7 1331.4,676.7 1332.0,675.9 1332.6,677.5 1333.1,677.1 1333.7,675.7 1334.3,678.0 1334.9,677.1 1335.5,675.7 1336.0,676.9 1336.6,676.9 1337.2,678.2 1337.8,675.5 1338.4,677.2 1338.9,676.3 1339.5,677.0 1340.1,676.1 1340.7,676.2 1341.3,676.5 1341.8,674.5 1342.4,673.2 1343.0,674.9 1343.6,674.1 1344.2,674.4 1344.7,674.7 1345.3,673.9 1345.9,675.4 1346.5,674.4 1347.1,675.0 1347.6,676.3 1348.2,676.6 1348.8,676.5 1349.4,677.3 1350.0,676.8 1350.5,677.3 1351.1,678.2 1351.7,679.0 1352.3,677.8 1352.9,679.0 1353.4,680.0 1354.0,680.2 1354.6,678.1 1355.2,679.1 1355.8,678.7 1356.3,678.7 1356.9,678.6 1357.5,678.1 1358.1,678.1 1358.7,677.3 1359.2,676.7 1359.8,677.1 1360.4,677.4 1361.0,678.2 1361.6,677.7 1362.1,678.4 1362.7,679.4 1363.3,677.5 1363.9,678.4 1364.5,679.4 1365.0,679.1 1365.6,678.3 1366.2,680.4 1366.8,679.4 1367.4,678.6 1367.9,681.4 1368.5,678.3 1369.1,679.5 1369.7,678.9 1370.3,679.5 1370.8,679.9 1371.4,678.5 1372.0,679.0 1372.6,679.0 1373.2,678.1 1373.7,680.3 1374.3,679.4 1374.9,679.1 1375.5,678.9 1376.1,679.4 1376.6,680.1 1377.2,679.6 1377.8,681.3 1378.4,677.8 1379.0,678.2 1379.5,680.0 1380.1,678.6 1380.7,680.4 1381.3,679.9 1381.9,681.1 1382.4,681.1 1383.0,681.9 1383.6,681.6 1384.2,681.9 1384.8,681.0 1385.3,681.3 1385.9,680.6 1386.5,679.5 1387.1,678.9 1387.7,679.1 1388.2,680.9 1388.8,678.5 1389.4,681.2 1390.0,680.6 1390.6,682.3 1391.1,682.1 1391.7,681.3 1392.3,682.0 1392.9,679.8 1393.5,682.1 1394.0,682.2 1394.6,680.0 1395.2,682.5 1395.8,681.5 1396.4,681.8 1396.9,680.3 1397.5,682.2 1398.1,682.1 1398.7,681.5 1399.3,680.6 1399.8,682.2 1400.4,682.7 1401.0,682.0 1401.6,682.6 1402.2,681.2 1402.7,681.9 1403.3,682.1 1403.9,681.8 1404.5,684.2 1405.1,681.8 1405.6,680.8 1406.2,682.0 1406.8,680.2 1407.4,681.6 1408.0,682.0 1408.5,680.9 1409.1,681.1 1409.7,680.5 1410.3,681.5 1410.9,680.6 1411.4,682.8 1412.0,681.9 1412.6,681.2 1413.2,680.3 1413.8,683.8 1414.3,683.4 1414.9,683.0 1415.5,683.1 1416.1,683.3 1416.7,683.0 1417.2,685.3 1417.8,683.8 1418.4,682.2 1419.0,682.9 1419.6,680.9 1420.1,683.6 1420.7,683.5 1421.3,684.2 1421.9,684.3 1422.5,681.6 1423.0,682.7 1423.6,683.3 1424.2,683.3 1424.8,682.2 1425.4,683.4 1425.9,683.2 1426.5,684.1 1427.1,683.0 1427.7,682.9 1428.3,682.8 1428.8,683.1 1429.4,682.8 1430.0,683.4 1430.6,684.2 1431.2,684.2 1431.7,684.9 1432.3,684.6 1432.9,684.1 1433.5,682.4 1434.1,683.9 1434.6,684.4 1435.2,682.1 1435.8,682.1 1436.4,682.1 1437.0,681.8 1437.5,682.4 1438.1,681.8 1438.7,683.1 1439.3,682.0 1439.9,683.4 1440.4,683.6 1441.0,683.8 1441.6,686.1 1442.2,685.6 1442.8,686.4 1443.3,685.8 1443.9,686.7 1444.5,686.5 1445.1,685.7 1445.7,684.1 1446.2,686.2 1446.8,685.9 1447.4,685.3 1448.0,685.2 1448.6,685.0 1449.1,685.0 1449.7,683.9 1450.3,684.7 1450.9,685.1 1451.5,684.3 1452.0,684.1 1452.6,686.7 1453.2,685.8 1453.8,685.1 1454.4,685.2 1454.9,683.5 1455.5,684.8 1456.1,686.0 1456.7,687.6 1457.3,684.8 1457.8,686.1 1458.4,688.4 1459.0,687.2 1459.6,686.8 1460.2,687.3 1460.7,686.0 1461.3,685.8 1461.9,686.6 1462.5,686.8 1463.1,685.3 1463.6,687.8 1464.2,685.1 1464.8,686.4 1465.4,690.0 1466.0,687.0 1466.5,688.2 1467.1,686.9 1467.7,687.6 1468.3,687.3 1468.9,687.7 1469.4,692.1 1470.0,689.9 1470.6,689.2 1471.2,690.0 1471.8,688.3 1472.3,690.1 1472.9,689.4 1473.5,690.2 1474.1,688.7 1474.7,689.0 1475.2,690.5 1475.8,690.0 1476.4,689.7 1477.0,689.2 1477.6,689.8 1478.1,690.4 1478.7,690.6 1479.3,689.4 1479.9,689.5 1480.5,689.9 1481.0,688.4 1481.6,689.9 1482.2,689.0 1482.8,688.8 1483.4,686.9 1483.9,687.7 1484.5,688.3 1485.1,688.9 1485.7,688.7 1486.3,690.1 1486.8,690.0 1487.4,689.7 1488.0,688.1 1488.6,690.9 1489.2,689.3 1489.7,689.9 1490.3,688.8 1490.9,689.4 1491.5,690.1 1492.1,689.9 1492.6,690.7 1493.2,689.8 1493.8,691.8 1494.4,688.6 1495.0,689.9 1495.5,691.2 1496.1,690.3 1496.7,690.2 1497.3,689.2 1497.9,691.9 1498.4,689.5 1499.0,691.7 1499.6,691.5 1500.2,692.1 1500.8,692.6 1501.3,690.8 1501.9,690.6 1502.5,690.9 1503.1,689.7 1503.7,691.8 1504.2,690.9 1504.8,691.5 1505.4,690.7 1506.0,691.9 1506.6,691.6 1507.1,692.3 1507.7,691.5 1508.3,693.3 1508.9,691.9 1509.5,690.2 1510.0,692.7 1510.6,691.7 1511.2,691.1 1511.8,693.8 1512.4,691.5 1512.9,690.2 1513.5,690.8 1514.1,691.5 1514.7,691.0 1515.3,692.2 1515.8,692.2 1516.4,690.8 1517.0,691.7 1517.6,692.4 1518.2,691.7 1518.7,691.7 1519.3,692.9 1519.9,692.6 1520.5,691.1 1521.1,691.8 1521.6,692.0 1522.2,692.2 1522.8,691.8 1523.4,693.4 1524.0,691.4 1524.5,691.3 1525.1,692.3 1525.7,690.2 1526.3,691.3 1526.9,692.8 1527.4,691.3 1528.0,691.9 1528.6,693.7 1529.2,693.3 1529.8,693.1 1530.3,693.3 1530.9,692.5 1531.5,693.4 1532.1,693.0 1532.7,695.3 1533.2,693.8 1533.8,693.2 1534.4,693.5 1535.0,693.7 1535.6,692.6 1536.1,693.0 1536.7,694.9 1537.3,692.4 1537.9,692.9 1538.5,694.1 1539.0,694.4 1539.6,692.4 1540.2,694.5 1540.8,693.1 1541.4,695.0 1541.9,694.4 1542.5,694.0 1543.1,695.1 1543.7,695.3 1544.3,694.3 1544.8,696.8 1545.4,694.7 1546.0,695.9 1546.6,694.4 1547.2,693.2 1547.7,693.8 1548.3,694.6 1548.9,695.3 1549.5,696.2 1550.1,694.8 1550.6,694.4 1551.2,693.6 1551.8,694.4 1552.4,694.6 1553.0,692.5 1553.5,695.3 1554.1,695.2 1554.7,696.2 1555.3,693.7 1555.9,694.7 1556.4,694.7 1557.0,693.6 1557.6,694.0 1558.2,693.7 1558.8,694.8 1559.3,694.6 1559.9,695.2 1560.5,693.7 1561.1,692.8 1561.7,694.2 1562.2,694.2 1562.8,694.5 1563.4,695.2 1564.0,693.9 1564.6,695.1 1565.1,693.8 1565.7,694.8 1566.3,695.2 1566.9,694.6 1567.5,694.9 1568.0,693.6 1568.6,694.2 1569.2,694.8 1569.8,693.8 1570.4,694.2 1570.9,696.9 1571.5,695.3 1572.1,694.6 1572.7,694.5 1573.3,696.5 1573.8,693.2 1574.4,695.2 1575.0,696.0 1575.6,695.0 1576.2,695.8 1576.7,694.5 1577.3,695.4 1577.9,695.5 1578.5,696.6 1579.1,695.7 1579.6,695.7 1580.2,696.6 1580.8,695.5 1581.4,695.2 1582.0,695.3 1582.5,695.2 1583.1,694.1 1583.7,693.8 1584.3,694.2 1584.9,695.5 1585.4,694.7 1586.0,694.9 1586.6,697.5 1587.2,696.0 1587.8,694.8 1588.3,694.4 1588.9,695.9 1589.5,694.2 1590.1,695.9 1590.7,695.6 1591.2,696.5 1591.8,695.2 1592.4,696.8 1593.0,694.9 1593.6,696.3 1594.1,697.4 1594.7,697.0 1595.3,694.9 1595.9,696.7 1596.5,696.5 1597.0,696.0 1597.6,695.5 1598.2,696.0 1598.8,695.8 1599.4,697.1 1599.9,696.8 1600.5,697.2 1601.1,696.7 1601.7,695.0 1602.3,695.9 1602.8,697.3 1603.4,694.5 1604.0,695.5 1604.6,694.6 1605.2,694.5 1605.7,695.3 1606.3,695.8 1606.9,695.6 1607.5,695.3 1608.1,695.7 1608.6,693.6 1609.2,695.5 1609.8,695.2 1610.4,694.9 1611.0,695.2 1611.5,694.7 1612.1,696.5 1612.7,695.2 1613.3,694.8 1613.9,696.1 1614.4,695.7 1615.0,696.2 1615.6,697.5 1616.2,696.3 1616.8,696.5 1617.3,698.2 1617.9,695.2 1618.5,696.4 1619.1,697.0 1619.7,697.1 1620.2,697.6 1620.8,695.1 1621.4,695.9 1622.0,695.2 1622.6,694.8 1623.1,694.4 1623.7,693.7 1624.3,695.1 1624.9,695.3 1625.5,693.8 1626.0,695.2 1626.6,694.1 1627.2,693.7 1627.8,692.5 1628.4,695.6 1628.9,695.4 1629.5,694.6 1630.1,694.7 1630.7,694.0 1631.3,695.5 1631.8,695.0 1632.4,695.5 1633.0,695.3 1633.6,694.1 1634.2,694.1 1634.7,695.8 1635.3,694.2 1635.9,695.9 1636.5,696.5 1637.1,694.8 1637.6,696.4 1638.2,695.9 1638.8,696.2 1639.4,695.3 1640.0,695.8 1640.5,696.2 1641.1,697.4 1641.7,696.6 1642.3,696.4 1642.9,695.0 1643.4,696.3 1644.0,695.3 1644.6,695.7 1645.2,695.7 1645.8,696.0 1646.3,695.5 1646.9,695.0 1647.5,694.7 1648.1,695.7 1648.7,693.6 1649.2,694.1 1649.8,694.8 1650.4,693.0 1651.0,693.2 1651.6,692.5 1652.1,692.5 1652.7,690.9 1653.3,687.4 1653.9,687.8 1654.5,687.1 1655.0,686.8 1655.6,685.9 1656.2,687.1 1656.8,686.5 1657.4,685.0 1657.9,686.3 1658.5,686.2 1659.1,690.7 1659.7,690.3 1660.3,691.6 1660.8,691.5 1661.4,693.6 1662.0,695.3 1662.6,695.4 1663.2,696.1 1663.7,696.4 1664.3,698.8 1664.9,697.0 1665.5,696.5 1666.1,697.3 1666.6,697.5 1667.2,697.8 1667.8,697.7 1668.4,697.0 1669.0,697.7 1669.5,698.1 1670.1,696.7 1670.7,699.4 1671.3,699.2 1671.9,696.5 1672.4,697.8 1673.0,699.0 1673.6,699.5 1674.2,700.0 1674.8,697.3 1675.3,697.9 1675.9,698.4 1676.5,699.2 1677.1,698.0 1677.7,699.1 1678.2,699.1 1678.8,699.4 1679.4,697.8 1680.0,699.0 1680.6,698.8 1681.1,698.4 1681.7,699.6 1682.3,698.2 1682.9,699.4 1683.5,697.7 1684.0,699.5 1684.6,699.5 1685.2,697.7 1685.8,698.7 1686.4,698.8 1686.9,697.8 1687.5,699.3 1688.1,699.2 1688.7,698.0 1689.3,698.8 1689.8,699.4 1690.4,698.7 1691.0,698.3 1691.6,700.3 1692.2,698.3 1692.7,699.5 1693.3,700.2 1693.9,700.0 1694.5,698.1 1695.1,699.2 1695.6,699.4 1696.2,699.4 1696.8,700.0 1697.4,699.8 1698.0,699.4 1698.5,699.4 1699.1,700.0 1699.7,700.1 1700.3,697.6 1700.9,700.8 1701.4,698.8 1702.0,700.0 1702.6,698.3 1703.2,699.3 1703.8,698.9 1704.3,700.7 1704.9,700.6 1705.5,699.8 1706.1,699.5 1706.7,699.7 1707.2,698.5 1707.8,698.6 1708.4,698.4 1709.0,699.6 1709.6,699.0 1710.1,698.0 1710.7,699.2 1711.3,699.3 1711.9,699.8 1712.5,698.1 1713.0,698.6 1713.6,699.7 1714.2,697.7 1714.8,697.6 1715.4,698.3 1715.9,697.6 1716.5,698.1 1717.1,697.9 1717.7,697.7 1718.3,699.1 1718.8,698.2 1719.4,697.8 1720.0,698.4 1720.6,698.6 1721.2,699.1 1721.7,699.7 1722.3,700.5 1722.9,698.3 1723.5,699.2 1724.1,698.0 1724.6,699.5 1725.2,699.7 1725.8,698.7 1726.4,698.4 1727.0,698.3 1727.5,697.7 1728.1,699.1 1728.7,700.0 1729.3,697.5 1729.9,699.5 1730.4,698.0 1731.0,697.0 1731.6,698.5 1732.2,698.6 1732.8,698.4 1733.3,697.9 1733.9,699.5 1734.5,698.1 1735.1,699.0 1735.7,699.3 1736.2,698.2 1736.8,697.6 1737.4,697.7 1738.0,698.6 1738.6,699.0 1739.1,697.2 1739.7,697.9 1740.3,699.4 1740.9,696.8 1741.5,698.5 1742.0,698.5 1742.6,698.9 1743.2,697.3 1743.8,698.9 1744.4,697.7 1744.9,699.9 1745.5,698.3 1746.1,699.4 1746.7,698.5 1747.3,699.3 1747.8,698.0 1748.4,699.4 1749.0,699.7 1749.6,699.1 1750.2,700.3 1750.7,699.2 1751.3,699.5 1751.9,699.2 1752.5,700.1 1753.1,697.9 1753.6,698.0 1754.2,697.7 1754.8,698.1 1755.4,697.5 1756.0,697.7 1756.5,697.0 1757.1,696.1 1757.7,696.2 1758.3,696.3 1758.9,693.8 1759.4,696.6 1760.0,694.7 1760.6,694.6 1761.2,694.9 1761.8,694.3 1762.3,693.3 1762.9,694.4 1763.5,695.9 1764.1,695.9 1764.7,696.4 1765.2,695.3 1765.8,696.0 1766.4,697.4 1767.0,698.1 1767.6,697.3 1768.1,696.8 1768.7,696.3 1769.3,699.2 1769.9,697.0 1770.5,698.7 1771.0,699.2 1771.6,701.2 1772.2,699.0 1772.8,699.0 1773.4,699.6 1773.9,699.8 1774.5,700.4 1775.1,699.9 1775.7,698.7 1776.3,697.6 1776.8,699.3 1777.4,698.4 1778.0,699.9 1778.6,697.8 1779.2,699.0 1779.7,698.3 1780.3,698.3 1780.9,700.4 1781.5,699.3 1782.1,699.2 1782.6,700.0 1783.2,698.9 1783.8,699.4 1784.4,699.3 1785.0,701.5 1785.5,700.3 1786.1,700.5 1786.7,700.8 1787.3,699.6 1787.9,699.4 1788.4,698.1 1789.0,699.5 1789.6,699.1 1790.2,698.5 1790.8,699.7 1791.3,697.5 1791.9,699.3 1792.5,698.1 1793.1,698.4 1793.7,699.3 1794.2,700.6 1794.8,698.7 1795.4,699.0 1796.0,698.9 1796.6,701.3 1797.1,700.1 1797.7,699.9 1798.3,701.1 1798.9,699.6 1799.5,697.8 1800.0,699.1 1800.6,698.6 1801.2,701.2 1801.8,698.6 1802.4,700.0 1802.9,699.4 1803.5,699.6 1804.1,700.0 1804.7,699.9 1805.3,699.4 1805.8,699.0 1806.4,699.4 1807.0,699.0 1807.6,699.1 1808.2,699.8 1808.7,699.6 1809.3,700.0 1809.9,699.5 1810.5,701.2 1811.1,699.2 1811.6,699.1 1812.2,700.8 1812.8,699.6 1813.4,700.3 1814.0,701.0 1814.5,700.3 1815.1,700.2 1815.7,701.3 1816.3,700.9 1816.9,700.4 1817.4,699.9 1818.0,700.6 1818.6,699.7 1819.2,700.3 1819.8,700.1 1820.3,701.2 1820.9,701.6 1821.5,700.6 1822.1,700.8 1822.7,700.5 1823.2,700.4 1823.8,701.1 1824.4,701.9 1825.0,701.9 1825.6,702.0 1826.1,701.3 1826.7,699.3 1827.3,702.0 1827.9,702.2 1828.5,701.8 1829.0,701.7 1829.6,701.8 1830.2,703.0 1830.8,701.2 1831.4,702.1 1831.9,701.6 1832.5,701.5 1833.1,700.9 1833.7,700.8 1834.3,700.3 1834.8,701.7 1835.4,701.0 1836.0,700.4 1836.6,700.8 1837.2,700.5 1837.7,702.7 1838.3,701.4 1838.9,701.7 1839.5,700.9 1840.1,701.2 1840.6,702.9 1841.2,702.1 1841.8,702.6 1842.4,703.9 1843.0,704.0 1843.5,702.8 1844.1,702.4 1844.7,701.9 1845.3,701.0 1845.9,702.3 1846.4,699.3 1847.0,699.6 1847.6,697.6 1848.2,697.4 1848.8,698.1 1849.3,697.4 1849.9,696.5 1850.5,695.1 1851.1,694.0 1851.7,693.4 1852.2,692.9 1852.8,693.9 1853.4,694.3 1854.0,693.9 1854.6,693.8 1855.1,694.4 1855.7,696.5 1856.3,697.2 1856.9,696.9 1857.5,700.4 1858.0,700.0 1858.6,700.3 1859.2,700.2 1859.8,700.4 1860.4,701.8 1860.9,700.5 1861.5,701.3 1862.1,701.8 1862.7,702.9 1863.3,702.1 1863.8,701.8 1864.4,701.6 1865.0,702.6 1865.6,702.9 1866.2,701.9 1866.7,702.8 1867.3,702.4 1867.9,701.3 1868.5,701.8 1869.1,703.0 1869.6,703.4 1870.2,702.8 1870.8,702.0 1871.4,701.5 1872.0,702.4 1872.5,702.2 1873.1,700.9 1873.7,702.7 1874.3,701.8 1874.9,703.0 1875.4,703.0 1876.0,703.2 1876.6,703.4 1877.2,703.1 1877.8,701.8 1878.3,701.7 1878.9,703.1 1879.5,702.6 1880.1,701.1 1880.7,700.9 1881.2,703.1 1881.8,704.2 1882.4,703.4 1883.0,702.9 1883.6,703.5 1884.1,701.4 1884.7,702.8 1885.3,704.3 1885.9,704.2 1886.5,702.1 1887.0,704.6 1887.6,704.1 1888.2,704.4 1888.8,703.6 1889.4,703.8 1889.9,703.0 1890.5,703.9 1891.1,704.2 1891.7,702.8 1892.3,703.7 1892.8,703.1 1893.4,704.2 1894.0,704.3 1894.6,702.0 1895.2,704.0 1895.7,704.4 1896.3,703.3 1896.9,703.5 1897.5,703.5 1898.1,702.8 1898.6,703.5 1899.2,704.7 1899.8,703.9 1900.4,704.6 1901.0,704.2 1901.5,704.3 1902.1,703.4 1902.7,703.7 1903.3,704.4 1903.9,703.8 1904.4,702.8 1905.0,702.0 1905.6,701.8 1906.2,702.7 1906.8,703.0 1907.3,701.4 1907.9,703.0 1908.5,703.2 1909.1,703.2 1909.7,702.5 1910.2,704.5 1910.8,703.3 1911.4,701.6 1912.0,702.1 1912.6,703.2 1913.1,703.1 1913.7,703.1 1914.3,703.2 1914.9,703.3 1915.5,703.3 1916.0,702.9 1916.6,704.1 1917.2,701.7 1917.8,703.0 1918.4,704.1 1918.9,702.3 1919.5,701.6 1920.1,703.5 1920.7,702.4 1921.3,701.2 1921.8,700.5 1922.4,700.4 1923.0,699.9 1923.6,699.5 1924.2,698.6 1924.7,698.8 1925.3,697.0 1925.9,694.7 1926.5,693.6 1927.1,692.9 1927.6,690.1 1928.2,686.6 1928.8,688.0 1929.4,684.9 1930.0,682.1 1930.5,680.5 1931.1,680.8 1931.7,681.8 1932.3,680.8 1932.9,683.5 1933.4,684.7 1934.0,687.8 1934.6,688.7 1935.2,690.2 1935.8,693.7 1936.3,695.2 1936.9,697.3 1937.5,697.4 1938.1,700.1 1938.7,700.0 1939.2,702.0 1939.8,701.2 1940.4,703.1 1941.0,702.4 1941.6,702.8 1942.1,703.5 1942.7,701.6 1943.3,702.1 1943.9,704.1 1944.5,701.6 1945.0,702.2 1945.6,702.9 1946.2,703.5 1946.8,702.0 1947.4,702.5 1947.9,701.8 1948.5,702.5 1949.1,703.7 1949.7,703.5 1950.3,703.4 1950.8,703.9 1951.4,703.7 1952.0,703.6 1952.6,703.2 1953.2,702.6 1953.7,703.8 1954.3,702.4 1954.9,703.9 1955.5,704.6 1956.1,704.1 1956.6,704.6 1957.2,702.1 1957.8,703.0 1958.4,702.2 1959.0,702.3 1959.5,701.7 1960.1,702.3 1960.7,704.0 1961.3,704.1 1961.9,704.6 1962.4,704.7 1963.0,704.5 1963.6,703.3 1964.2,703.8 1964.8,704.3 1965.3,704.7 1965.9,703.5 1966.5,703.4 1967.1,703.4 1967.7,704.8 1968.2,703.9 1968.8,703.1 1969.4,702.5 1970.0,703.1 1970.6,701.3 1971.1,702.1 1971.7,701.7 1972.3,701.6 1972.9,702.0 1973.5,702.1 1974.0,703.9 1974.6,701.4 1975.2,701.5 1975.8,700.0 1976.4,698.9 1976.9,700.6 1977.5,700.8 1978.1,698.2 1978.7,698.7 1979.3,699.6 1979.8,698.8 1980.4,697.0 1981.0,699.9 1981.6,699.2 1982.2,700.1 1982.7,699.0 1983.3,700.6 1983.9,701.0 1984.5,700.0 1985.1,701.3 1985.6,700.9 1986.2,701.5 1986.8,701.6 1987.4,702.4 1988.0,702.4 1988.5,703.9 1989.1,703.0 1989.7,702.4 1990.3,704.2 1990.9,703.6 1991.4,703.9 1992.0,703.1 1992.6,703.6 1993.2,703.1 1993.8,702.5 1994.3,703.3 1994.9,703.4 1995.5,703.4 1996.1,703.9 1996.7,701.9 1997.2,704.7 1997.8,702.1 1998.4,702.1 1999.0,702.2 1999.6,701.5 2000.1,700.4 2000.7,701.0 2001.3,699.8 2001.9,699.9 2002.5,699.6 2003.0,697.9 2003.6,697.0 2004.2,697.9 2004.8,698.7 2005.4,698.8 2005.9,698.2 2006.5,698.5 2007.1,699.7 2007.7,700.4 2008.3,702.1 2008.8,702.0 2009.4,702.9 2010.0,702.3 2010.6,703.7 2011.2,702.6 2011.7,703.0 2012.3,702.4 2012.9,703.0 2013.5,703.4 2014.1,703.2 2014.6,703.4 2015.2,702.0 2015.8,702.7 2016.4,703.5 2017.0,702.3 2017.5,701.9 2018.1,701.8 2018.7,701.5 2019.3,701.8 2019.9,702.5 2020.4,701.5 2021.0,700.9 2021.6,700.0 2022.2,699.5 2022.8,701.9 2023.3,699.6 2023.9,700.0 2024.5,699.6 2025.1,700.2 2025.7,699.9 2026.2,700.6 2026.8,701.8 2027.4,700.4 2028.0,701.6 2028.6,701.4 2029.1,702.1 2029.7,701.2 2030.3,702.1 2030.9,701.3 2031.5,700.7 2032.0,701.2 2032.6,701.5 2033.2,701.4 2033.8,702.1 2034.4,703.2 2034.9,701.8 2035.5,703.0 2036.1,702.9 2036.7,702.3 2037.3,702.1 2037.8,703.0 2038.4,703.0 2039.0,702.4 2039.6,702.5 2040.2,702.5 2040.7,701.6 2041.3,702.6 2041.9,702.8 2042.5,703.8 2043.1,701.8 2043.6,702.2 2044.2,703.0 2044.8,702.7 2045.4,703.0 2046.0,703.5 2046.5,703.4 2047.1,703.5 2047.7,703.7 2048.3,702.1 2048.9,703.4 2049.4,701.2 2050.0,703.8 2050.6,703.1 2051.2,702.0 2051.8,703.2 2052.3,702.4 2052.9,702.9 2053.5,703.1 2054.1,702.8 2054.7,702.3 2055.2,702.4 2055.8,701.3 2056.4,700.6 2057.0,699.6 2057.6,698.3 2058.1,700.2 2058.7,699.0 2059.3,696.9 2059.9,697.8 2060.5,697.4 2061.0,695.4 2061.6,696.5 2062.2,697.2 2062.8,699.0 2063.4,698.9 2063.9,699.6 2064.5,699.4 2065.1,700.5 2065.7,699.5 2066.3,701.4 2066.8,702.1 2067.4,701.1 2068.0,702.6 2068.6,703.8 2069.2,704.3 2069.7,704.1 2070.3,702.8 2070.9,703.5 2071.5,703.4 2072.1,704.7 2072.6,703.4 2073.2,703.4 2073.8,703.8 2074.4,704.4 2075.0,704.6 2075.5,703.9 2076.1,703.9 2076.7,704.3 2077.3,705.3 2077.9,703.5 2078.4,704.4 2079.0,704.5 2079.6,704.6 2080.2,705.3 2080.8,705.0 2081.3,704.7 2081.9,705.5 2082.5,705.4 2083.1,704.9 2083.7,704.9 2084.2,704.0 2084.8,704.8 2085.4,704.1 2086.0,703.7 2086.6,704.1 2087.1,703.0 2087.7,703.5 2088.3,703.8 2088.9,704.4 2089.5,704.1 2090.0,704.7 2090.6,705.6 2091.2,705.1 2091.8,703.7 2092.4,703.1 2092.9,703.5 2093.5,703.4 2094.1,702.7 2094.7,702.9 2095.3,703.0 2095.8,703.9 2096.4,705.3 2097.0,705.6 2097.6,703.7 2098.2,704.0 2098.7,703.2 2099.3,702.9 2099.9,703.8 2100.5,703.7 2101.1,703.1 2101.6,703.8 2102.2,702.9 2102.8,703.5 2103.4,702.0 2104.0,702.6 2104.5,701.4 2105.1,701.3 2105.7,701.5 2106.3,700.0 2106.9,700.5 2107.4,701.2 2108.0,701.4 2108.6,702.1 2109.2,701.7 2109.8,701.6 2110.3,702.6 2110.9,704.6 2111.5,702.4 2112.1,703.8 2112.7,703.5 2113.2,703.6 2113.8,703.6 2114.4,702.5 2115.0,704.5 2115.6,702.7 2116.1,703.5 2116.7,704.0 2117.3,703.9 2117.9,704.0 2118.5,703.5 2119.0,704.0 2119.6,704.3 2120.2,705.2 2120.8,703.9 2121.4,705.5 2121.9,704.5 2122.5,704.1 2123.1,703.6 2123.7,703.9 2124.3,702.8 2124.8,704.1 2125.4,704.3 2126.0,703.7 2126.6,704.5 2127.2,704.5 2127.7,703.9 2128.3,705.1 2128.9,704.4 2129.5,706.6 2130.1,704.4 2130.6,704.6 2131.2,704.6 2131.8,705.0 2132.4,705.4 2133.0,704.5 2133.5,703.9 2134.1,705.3 2134.7,704.7 2135.3,703.8 2135.9,704.0 2136.4,703.1 2137.0,704.1 2137.6,705.3 2138.2,703.5 2138.8,703.4 2139.3,704.5 2139.9,702.8 2140.5,705.4 2141.1,703.5 2141.7,704.1 2142.2,704.4 2142.8,705.3 2143.4,704.8 2144.0,703.2 2144.6,703.3 2145.1,704.6 2145.7,703.0 2146.3,704.2 2146.9,703.9 2147.5,705.0 2148.0,705.3 2148.6,702.8 2149.2,704.8 2149.8,704.9 2150.4,703.9 2150.9,703.9 2151.5,703.4 2152.1,703.9 2152.7,704.2 2153.3,704.7 2153.8,704.7 2154.4,703.4 2155.0,703.0 2155.6,704.2 2156.2,701.7 2156.7,702.6 2157.3,704.0 2157.9,705.0 2158.5,703.0 2159.1,703.6 2159.6,702.8 2160.2,703.5 2160.8,703.6 2161.4,703.3 2162.0,704.2 2162.5,703.9 2163.1,704.5 2163.7,704.1 2164.3,703.5 2164.9,704.5 2165.4,705.0 2166.0,704.0 2166.6,705.5 2167.2,705.0 2167.8,704.6 2168.3,704.9 2168.9,704.6 2169.5,704.2 2170.1,705.3 2170.7,705.1 2171.2,703.9 2171.8,703.8 2172.4,703.6 2173.0,703.9 2173.6,704.3 2174.1,702.7 2174.7,703.3 2175.3,703.0 2175.9,703.4 2176.5,704.1 2177.0,702.7 2177.6,702.0 2178.2,703.3 2178.8,702.5 2179.4,704.7 2179.9,703.2 2180.5,703.5 2181.1,703.8 2181.7,703.8 2182.3,703.3 2182.8,703.6 2183.4,704.3 2184.0,703.5 2184.6,705.1 2185.2,704.2 2185.7,702.5 2186.3,704.7 2186.9,702.9 2187.5,704.2 2188.1,705.4 2188.6,704.5 2189.2,702.8 2189.8,703.0 2190.4,703.5 2191.0,704.5 2191.5,703.1 2192.1,704.4 2192.7,704.0 2193.3,703.8 2193.9,703.8 2194.4,705.1 2195.0,703.0 2195.6,703.2 2196.2,704.5 2196.8,704.6 2197.3,703.0 2197.9,703.1 2198.5,702.8 2199.1,703.9 2199.7,703.0"/>
<polyline stroke="#0000ff" points="171.4,435.7 172.0,434.4 172.6,435.0 173.1,431.2 173.7,440.4 174.3,439.3 174.9,436.5 175.5,438.9 176.0,437.9 176.6,436.1 177.2,439.1 177.8,436.2 178.4,436.1 178.9,435.2 179.5,437.9 180.1,436.9 180.7,438.4 181.3,436.2 181.8,438.0 182.4,436.1 183.0,440.0 183.6,438.8 184.2,439.3 184.7,439.5 185.3,436.5 185.9,440.2 186.5,442.7 187.1,434.9 187.6,434.6 188.2,435.0 188.8,440.0 189.4,438.9 190.0,441.3 190.5,441.1 191.1,440.6 191.7,441.2 192.3,440.7 192.9,443.1 193.4,439.1 194.0,440.7 194.6,442.1 195.2,445.4 195.8,440.1 196.3,439.5 196.9,440.8 197.5,447.9 198.1,441.8 198.7,445.0 199.2,438.3 199.8,444.4 200.4,444.0 201.0,438.7 201.6,441.8 202.1,443.9 202.7,441.5 203.3,443.6 203.9,446.7 204.5,442.5 205.0,441.7 205.6,441.0 206.2,444.2 206.8,442.6 207.4,442.7 207.9,442.9 208.5,444.5 209.1,441.0 209.7,440.1 210.3,438.3 210.8,446.1 211.4,444.0 212.0,447.2 212.6,444.1 213.2,442.6 213.7,445.0 214.3,443.7 214.9,441.0 215.5,441.6 216.1,447.0 216.6,444.0 217.2,444.1 217.8,442.6 218.4,441.8 219.0,445.2 219.5,443.2 220.1,442.0 220.7,443.3 221.3,441.8 221.9,444.1 222.4,446.1 223.0,442.0 223.6,446.8 224.2,442.4 224.8,444.0 225.3,441.9 225.9,443.2 226.5,443.8 227.1,442.8 227.7,442.2 228.2,442.2 228.8,441.8 229.4,440.1 230.0,442.7 230.6,444.0 231.1,445.0 231.7,444.6 232.3,448.6 232.9,444.3 233.5,442.9 234.0,447.9 234.6,441.9 235.2,446.1 235.8,442.0 236.4,444.6 236.9,439.5 237.5,445.2 238.1,442.8 238.7,440.9 239.3,446.2 239.8,444.1 240.4,442.4 241.0,440.7 241.6,442.1 242.2,441.9 242.7,443.8 243.3,444.0 243.9,441.0 244.5,441.3 245.1,441.3 245.6,439.6 246.2,441.1 246.8,442.1 247.4,443.7 248.0,444.9 248.5,440.5 249.1,443.4 249.7,441.4 250.3,446.8 250.9,442.6 251.4,444.0 252.0,441.2 252.6,441.7 253.2,443.9 253.8,442.9 254.3,444.5 254.9,440.6 255.5,445.4 256.1,442.2 256.7,447.7 257.2,443.6 257.8,446.5 258.4,441.2 259.0,445.0 259.6,442.1 260.1,442.8 260.7,443.6 261.3,442.6 261.9,443.6 262.5,444.3 263.0,444.0 263.6,442.3 264.2,439.6 264.8,440.8 265.4,442.2 265.9,438.3 266.5,444.5 267.1,442.6 267.7,442.8 268.3,445.4 268.8,444.8 269.4,443.7 270.0,441.0 270.6,443.6 271.2,443.5 271.7,440.9 272.3,444.9 272.9,443.9 273.5,438.8 274.1,443.3 274.6,440.5 275.2,445.6 275.8,445.0 276.4,440.9 277.0,441.4 277.5,443.4 278.1,442.6 278.7,446.3 279.3,444.8 279.9,442.7 280.4,444.5 281.0,439.0 281.6,443.7 282.2,444.6 282.8,442.1 283.3,440.5 283.9,442.6 284.5,445.1 285.1,441.2 285.7,438.4 286.2,443.9 286.8,437.2 287.4,442.6 288.0,440.9 288.6,444.5 289.1,441.3 289.7,446.1 290.3,444.1 290.9,439.9 291.5,439.3 292.0,442.5 292.6,445.6 293.2,442.8 293.8,442.5 294.4,441.6 294.9,443.4 295.5,442.4 296.1,442.1 296.7,439.4 297.3,443.8 297.8,444.1 298.4,438.4 299.0,445.8 299.6,442.4 300.2,439.9 300.7,436.9 301.3,442.4 301.9,442.4 302.5,440.2 303.1,437.9 303.6,444.1 304.2,440.7 304.8,441.1 305.4,448.1 306.0,446.6 306.5,444.1 307.1,441.0 307.7,443.2 308.3,436.8 308.9,441.5 309.4,439.4 310.0,438.1 310.6,437.2 311.2,441.5 311.8,440.6 312.3,440.7 312.9,442.2 313.5,438.7 314.1,437.9 314.7,436.7 315.2,439.6 315.8,441.8 316.4,439.8 317.0,441.3 317.6,431.1 318.1,438.9 318.7,438.3 319.3,437.3 319.9,443.8 320.5,441.7 321.0,438.3 321.6,438.2 322.2,439.7 322.8,436.9 323.4,440.9 323.9,437.3 324.5,439.2 325.1,437.7 325.7,438.8 326.3,436.9 326.8,436.4 327.4,437.6 328.0,438.1 328.6,438.9 329.2,439.6 329.7,442.7 330.3,441.3 330.9,439.1 331.5,441.2 332.1,438.2 332.6,442.5 333.2,440.5 333.8,436.3 334.4,440.6 335.0,440.5 335.5,433.0 336.1,436.9 336.7,437.3 337.3,430.8 337.9,435.7 338.4,435.7 339.0,438.5 339.6,437.8 340.2,442.4 340.8,435.8 341.3,438.7 341.9,436.3 342.5,436.6 343.1,433.5 343.7,432.0 344.2,434.6 344.8,438.0 345.4,439.9 346.0,438.2 346.6,438.2 347.1,435.7 347.7,440.7 348.3,440.3 348.9,436.3 349.5,437.1 350.0,434.8 350.6,439.6 351.2,437.0 351.8,435.5 352.4,436.2 352.9,436.0 353.5,434.0 354.1,432.2 354.7,432.1 355.3,431.3 355.8,436.0 356.4,439.8 357.0,431.7 357.6,435.5 358.2,435.9 358.7,432.8 359.3,434.9 359.9,431.7 360.5,435.9 361.1,431.7 361.6,432.8 362.2,433.6 362.8,431.0 363.4,428.0 364.0,430.6 364.5,433.2 365.1,431.4 365.7,431.9 366.3,429.0 366.9,431.4 367.4,432.4 368.0,430.7 368.6,434.4 369.2,429.8 369.8,427.9 370.3,426.5 370.9,432.2 371.5,429.5 372.1,431.6 372.7,430.4 373.2,432.7 373.8,431.9 374.4,428.3 375.0,429.5 375.6,430.9 376.1,425.8 376.7,431.2 377.3,430.5 377.9,429.9 378.5,427.2 379.0,428.2 379.6,425.2 380.2,427.6 380.8,426.2 381.4,427.5 381.9,426.1 382.5,427.4 383.1,429.1 383.7,423.6 384.3,428.0 384.8,421.6 385.4,421.0 386.0,425.1 386.6,425.2 387.2,425.9 387.7,421.3 388.3,424.4 388.9,424.5 389.5,426.7 390.1,423.7 390.6,424.8 391.2,421.5 391.8,422.8 392.4,421.9 393.0,423.9 393.5,420.1 394.1,420.1 394.7,423.0 395.3,425.5 395.9,422.7 396.4,422.7 397.0,421.7 397.6,425.0 398.2,424.0 398.8,426.6 399.3,423.6 399.9,420.7 400.5,421.2 401.1,420.0 401.7,419.2 402.2,424.2 402.8,423.1 403.4,418.6 404.0,424.8 404.6,421.5 405.1,418.9 405.7,421.7 406.3,420.6 406.9,418.9 407.5,416.1 408.0,419.8 408.6,419.8 409.2,413.2 409.8,419.2 410.4,418.7 410.9,415.7 411.5,416.4 412.1,415.0 412.7,413.4 413.3,414.1 413.8,417.3 414.4,411.2 415.0,414.4 415.6,414.1 416.2,412.0 416.7,412.4 417.3,410.2 417.9,411.2 418.5,412.8 419.1,413.4 419.6,410.7 420.2,418.9 420.8,411.2 421.4,412.6 422.0,411.7 422.5,411.2 423.1,414.6 423.7,410.6 424.3,414.1 424.9,413.4 425.4,408.5 426.0,412.5 426.6,408.7 427.2,415.5 427.8,408.7 428.3,407.3 428.9,405.0 429.5,406.1 430.1,407.5 430.7,406.5 431.2,405.9 431.8,407.0 432.4,408.0 433.0,411.3 433.6,404.6 434.1,406.9 434.7,405.9 435.3,404.5 435.9,404.8 436.5,405.2 437.0,408.3 437.6,406.0 438.2,405.0 438.8,407.0 439.4,405.8 439.9,404.3 440.5,405.0 441.1,402.0 441.7,404.6 442.3,403.8 442.8,401.6 443.4,399.3 444.0,404.0 444.6,398.7 445.2,400.5 445.7,387.7 446.3,391.2 446.9,393.6 447.5,399.0 448.1,402.1 448.6,399.2 449.2,400.7 449.8,401.0 450.4,400.5 451.0,401.1 451.5,401.6 452.1,400.9 452.7,399.5 453.3,398.1 453.9,396.5 454.4,397.3 455.0,397.7 455.6,400.2 456.2,397.9 456.8,396.0 457.3,399.7 457.9,396.6 458.5,396.4 459.1,397.2 459.7,398.3 460.2,391.9 460.8,394.2 461.4,396.3 462.0,394.6 462.6,393.1 463.1,393.3 463.7,397.0 464.3,392.9 464.9,395.1 465.5,395.2 466.0,392.5 466.6,394.4 467.2,392.4 467.8,392.0 468.4,390.8 468.9,394.8 469.5,392.0 470.1,391.5 470.7,390.1 471.3,396.0 471.8,393.5 472.4,391.3 473.0,389.8 473.6,387.7 474.2,391.2 474.7,390.8 475.3,386.9 475.9,391.8 476.5,390.5 477.1,386.4 477.6,386.9 478.2,386.8 478.8,387.8 479.4,386.8 480.0,383.3 480.5,389.4 481.1,386.5 481.7,388.1 482.3,387.6 482.9,384.1 483.4,384.7 484.0,385.1 484.6,384.8 485.2,382.6 485.8,381.4 486.3,382.6 486.9,380.6 487.5,380.7 488.1,377.2 488.7,381.2 489.2,378.4 489.8,379.0 490.4,379.6 491.0,380.0 491.6,382.9 492.1,379.1 492.7,375.5 493.3,378.5 493.9,376.7 494.5,378.4 495.0,375.8 495.6,375.3 496.2,375.3 496.8,374.7 497.4,371.7 497.9,373.7 498.5,374.7 499.1,376.7 499.7,373.1 500.3,372.5 500.8,374.0 501.4,373.4 502.0,375.1 502.6,372.6 503.2,371.0 503.7,373.6 504.3,374.0 504.9,369.7 505.5,371.0 506.1,367.1 506.6,369.6 507.2,368.2 507.8,369.1 508.4,368.0 509.0,368.1 509.5,367.7 510.1,368.5 510.7,367.6 511.3,365.8 511.9,364.2 512.4,369.4 513.0,369.6 513.6,365.3 514.2,367.0 514.8,362.0 515.3,361.2 515.9,363.1 516.5,365.9 517.1,360.0 517.7,359.8 518.2,364.5 518.8,356.8 519.4,361.8 520.0,361.3 520.6,359.5 521.1,359.9 521.7,364.5 522.3,356.2 522.9,357.3 523.5,356.9 524.0,355.5 524.6,353.7 525.2,359.5 525.8,356.3 526.4,351.9 526.9,353.7 527.5,355.7 528.1,355.3 528.7,351.1 529.3,354.6 529.8,354.0 530.4,354.2 531.0,354.1 531.6,349.4 532.2,357.0 532.7,353.4 533.3,356.5 533.9,358.4 534.5,351.7 535.1,349.0 535.6,352.9 536.2,350.4 536.8,349.5 537.4,348.1 538.0,353.6 538.5,349.0 539.1,346.8 539.7,348.4 540.3,346.5 540.9,348.8 541.4,347.1 542.0,345.3 542.6,348.3 543.2,345.3 543.8,347.8 544.3,348.6 544.9,345.0 545.5,344.2 546.1,345.9 546.7,347.2 547.2,345.3 547.8,345.5 548.4,345.1 549.0,345.7 549.6,346.3 550.1,343.5 550.7,343.9 551.3,344.8 551.9,343.0 552.5,344.3 553.0,344.7 553.6,343.2 554.2,341.6 554.8,340.8 555.4,345.7 555.9,343.6 556.5,339.2 557.1,339.6 557.7,345.2 558.3,344.4 558.8,341.5 559.4,343.5 560.0,337.9 560.6,340.7 561.2,342.0 561.7,336.3 562.3,338.2 562.9,341.2 563.5,341.7 564.1,337.9 564.6,339.6 565.2,342.2 565.8,338.0 566.4,335.8 567.0,338.3 567.5,337.3 568.1,340.6 568.7,338.0 569.3,335.8 569.9,342.2 570.4,336.0 571.0,337.9 571.6,338.2 572.2,338.3 572.8,337.0 573.3,337.8 573.9,336.4 574.5,333.6 575.1,336.0 575.7,335.8 576.2,335.6 576.8,335.9 577.4,333.9 578.0,337.5 578.6,337.6 579.1,329.4 579.7,333.5 580.3,331.6 580.9,327.3 581.5,333.2 582.0,330.8 582.6,331.0 583.2,330.2 583.8,333.6 584.4,333.8 584.9,331.6 585.5,332.4 586.1,330.6 586.7,331.0 587.3,329.2 587.8,330.8 588.4,329.3 589.0,331.7 589.6,332.8 590.2,331.8 590.7,333.7 591.3,336.8 591.9,326.8 592.5,331.1 593.1,329.8 593.6,329.8 594.2,327.8 594.8,330.7 595.4,330.0 596.0,329.2 596.5,330.0 597.1,329.4 597.7,325.8 598.3,333.0 598.9,330.2 599.4,329.0 600.0,331.8 600.6,329.9 601.2,326.9 601.8,333.4 602.3,328.2 602.9,331.5 603.5,332.5 604.1,335.4 604.7,335.3 605.2,333.4 605.8,331.5 606.4,332.2 607.0,335.2 607.6,336.4 608.1,333.5 608.7,330.8 609.3,334.2 609.9,331.3 610.5,331.4 611.0,332.1 611.6,334.4 612.2,334.3 612.8,336.3 613.4,337.3 613.9,336.1 614.5,330.5 615.1,332.1 615.7,336.2 616.3,336.0 616.8,340.8 617.4,336.6 618.0,336.7 618.6,339.4 619.2,340.1 619.7,337.9 620.3,339.8 620.9,336.8 621.5,337.5 622.1,342.2 622.6,337.0 623.2,342.0 623.8,341.6 624.4,342.0 625.0,342.6 625.5,342.3 626.1,337.3 626.7,340.3 627.3,341.9 627.9,345.8 628.4,342.5 629.0,350.5 629.6,345.2 630.2,349.0 630.8,343.6 631.3,343.9 631.9,348.0 632.5,342.5 633.1,347.7 633.7,346.5 634.2,344.8 634.8,347.7 635.4,347.2 636.0,350.1 636.6,351.0 637.1,353.7 637.7,351.1 638.3,351.7 638.9,350.7 639.5,352.1 640.0,354.7 640.6,349.2 641.2,354.6 641.8,352.6 642.4,354.1 642.9,354.7 643.5,355.7 644.1,347.2 644.7,352.4 645.3,352.5 645.8,349.6 646.4,345.7 647.0,342.3 647.6,340.2 648.2,338.3 648.7,341.8 649.3,344.1 649.9,351.4 650.5,351.8 651.1,359.6 651.6,358.2 652.2,363.9 652.8,368.2 653.4,362.5 654.0,366.7 654.5,365.8 655.1,364.7 655.7,365.0 656.3,368.4 656.9,370.7 657.4,369.2 658.0,366.1 658.6,367.3 659.2,369.2 659.8,372.6 660.3,370.9 660.9,371.4 661.5,373.5 662.1,371.2 662.7,371.9 663.2,372.3 663.8,369.8 664.4,374.6 665.0,374.9 665.6,376.4 666.1,372.7 666.7,373.8 667.3,377.4 667.9,376.7 668.5,379.0 669.0,375.3 669.6,377.7 670.2,376.5 670.8,378.8 671.4,377.8 671.9,380.2 672.5,381.7 673.1,381.4 673.7,377.4 674.3,383.1 674.8,382.9 675.4,380.9 676.0,382.0 676.6,384.4 677.2,386.1 677.7,384.8 678.3,383.2 678.9,387.3 679.5,387.5 680.1,392.1 680.6,385.5 681.2,392.9 681.8,391.8 682.4,389.5 683.0,392.4 683.5,390.0 684.1,392.2 684.7,389.6 685.3,391.7 685.9,390.4 686.4,390.0 687.0,393.0 687.6,392.9 688.2,395.7 688.8,397.3 689.3,394.9 689.9,395.5 690.5,395.9 691.1,392.7 691.7,396.5 692.2,396.5 692.8,397.1 693.4,395.9 694.0,395.2 694.6,399.4 695.1,401.4 695.7,404.2 696.3,404.7 696.9,405.9 697.5,404.5 698.0,406.2 698.6,404.0 699.2,405.6 699.8,406.3 700.4,409.6 700.9,405.4 701.5,402.9 702.1,408.0 702.7,404.6 703.3,406.4 703.8,406.5 704.4,406.0 705.0,410.6 705.6,409.7 706.2,408.1 706.7,409.7 707.3,409.3 707.9,411.7 708.5,410.6 709.1,410.5 709.6,411.4 710.2,412.4 710.8,414.3 711.4,412.7 712.0,414.6 712.5,415.9 713.1,419.6 713.7,417.2 714.3,410.7 714.9,415.3 715.4,415.8 716.0,417.5 716.6,420.1 717.2,419.2 717.8,414.4 718.3,419.6 718.9,420.0 719.5,421.2 720.1,423.4 720.7,419.6 721.2,423.9 721.8,419.4 722.4,422.6 723.0,423.4 723.6,426.9 724.1,421.7 724.7,420.2 725.3,424.6 725.9,422.6 726.5,426.9 727.0,423.5 727.6,423.7 728.2,428.0 728.8,426.4 729.4,428.5 729.9,424.8 730.5,430.6 731.1,427.1 731.7,429.9 732.3,427.0 732.8,426.3 733.4,428.8 734.0,429.9 734.6,432.7 735.2,431.0 735.7,432.3 736.3,432.8 736.9,437.7 737.5,431.6 738.1,435.9 738.6,434.1 739.2,435.3 739.8,434.3 740.4,437.6 741.0,433.7 741.5,433.9 742.1,436.1 742.7,434.7 743.3,438.2 743.9,438.8 744.4,436.1 745.0,439.0 745.6,436.7 746.2,438.1 746.8,438.5 747.3,442.1 747.9,439.4 748.5,438.4 749.1,439.0 749.7,443.3 750.2,439.0 750.8,441.6 751.4,442.2 752.0,439.1 752.6,442.7 753.1,445.4 753.7,444.2 754.3,442.3 754.9,445.0 755.5,444.7 756.0,447.3 756.6,442.7 757.2,443.5 757.8,444.5 758.4,444.5 758.9,445.3 759.5,445.4 760.1,444.9 760.7,443.9 761.3,446.3 761.8,445.4 762.4,446.5 763.0,447.8 763.6,450.0 764.2,450.9 764.7,448.0 765.3,450.4 765.9,451.5 766.5,450.2 767.1,447.7 767.6,447.0 768.2,452.2 768.8,452.6 769.4,451.9 770.0,450.0 770.5,454.6 771.1,454.6 771.7,453.0 772.3,453.1 772.9,450.8 773.4,455.9 774.0,452.5 774.6,456.8 775.2,457.2 775.8,456.4 776.3,459.1 776.9,456.2 777.5,457.9 778.1,458.5 778.7,457.8 779.2,457.0 779.8,459.9 780.4,458.9 781.0,458.2 781.6,458.5 782.1,459.2 782.7,463.0 783.3,459.6 783.9,459.2 784.5,458.2 785.0,458.2 785.6,457.5 786.2,461.4 786.8,461.5 787.4,460.3 787.9,459.9 788.5,469.3 789.1,462.1 789.7,460.9 790.3,463.7 790.8,463.6 791.4,463.3 792.0,464.8 792.6,462.7 793.2,466.2 793.7,462.7 794.3,465.5 794.9,466.0 795.5,464.9 796.1,466.0 796.6,463.6 797.2,463.3 797.8,465.6 798.4,464.9 799.0,467.3 799.5,466.8 800.1,468.1 800.7,468.2 801.3,468.6 801.9,469.0 802.4,468.8 803.0,469.1 803.6,473.3 804.2,467.4 804.8,470.0 805.3,472.0 805.9,471.2 806.5,472.9 807.1,471.6 807.7,468.9 808.2,470.5 808.8,468.6 809.4,473.0 810.0,474.0 810.6,471.2 811.1,473.0 811.7,471.8 812.3,470.4 812.9,472.3 813.5,470.7 814.0,472.5 814.6,473.9 815.2,474.9 815.8,476.0 816.4,473.7 816.9,474.8 817.5,475.4 818.1,475.9 818.7,470.8 819.3,474.3 819.8,476.9 820.4,474.1 821.0,476.3 821.6,477.3 822.2,473.2 822.7,475.9 823.3,476.7 823.9,476.4 824.5,472.8 825.1,477.3 825.6,476.0 826.2,478.3 826.8,477.8 827.4,476.4 828.0,477.6 828.5,476.3 829.1,476.3 829.7,474.9 830.3,476.8 830.9,478.1 831.4,476.6 832.0,475.9 832.6,474.3 833.2,473.6 833.8,474.4 834.3,469.7 834.9,473.7 835.5,468.9 836.1,470.7 836.7,467.5 837.2,463.4 837.8,463.6 838.4,461.7 839.0,461.4 839.6,461.7 840.1,460.2 840.7,461.1 841.3,462.9 841.9,463.3 842.5,466.9 843.0,469.7 843.6,471.8 844.2,473.6 844.8,474.6 845.4,478.2 845.9,475.6 846.5,479.5 847.1,480.9 847.7,483.8 848.3,484.2 848.8,484.9 849.4,484.1 850.0,485.5 850.6,482.5 851.2,483.9 851.7,480.5 852.3,486.0 852.9,485.8 853.5,482.8 854.1,482.8 854.6,481.5 855.2,483.0 855.8,486.1 856.4,486.5 857.0,485.1 857.5,487.1 858.1,487.2 858.7,489.1 859.3,489.5 859.9,488.2 860.4,488.8 861.0,488.7 861.6,485.7 862.2,489.1 862.8,488.9 863.3,490.2 863.9,486.5 864.5,490.3 865.1,488.3 865.7,489.5 866.2,490.9 866.8,487.0 867.4,487.3 868.0,490.7 868.6,487.6 869.1,487.9 869.7,490.1 870.3,489.0 870.9,490.4 871.5,489.8 872.0,489.4 872.6,491.0 873.2,492.7 873.8,489.5 874.4,491.6 874.9,491.0 875.5,489.3 876.1,489.4 876.7,486.9 877.3,486.6 877.8,487.0 878.4,485.6 879.0,486.5 879.6,481.5 880.2,481.5 880.7,479.5 881.3,478.7 881.9,479.0 882.5,474.5 883.1,476.7 883.6,474.5 884.2,475.4 884.8,478.4 885.4,478.1 886.0,481.3 886.5,482.4 887.1,483.7 887.7,485.1 888.3,484.6 888.9,487.1 889.4,489.2 890.0,490.0 890.6,488.1 891.2,492.0 891.8,491.7 892.3,489.5 892.9,490.2 893.5,492.9 894.1,490.2 894.7,492.1 895.2,493.4 895.8,493.6 896.4,493.9 897.0,494.7 897.6,493.2 898.1,493.7 898.7,497.4 899.3,492.9 899.9,494.5 900.5,495.6 901.0,494.9 901.6,497.7 902.2,496.4 902.8,497.4 903.4,492.9 903.9,498.1 904.5,498.1 905.1,495.7 905.7,498.6 906.3,497.4 906.8,498.5 907.4,499.8 908.0,497.6 908.6,496.2 909.2,497.5 909.7,495.9 910.3,496.6 910.9,496.8 911.5,497.1 912.1,499.9 912.6,499.8 913.2,497.9 913.8,501.0 914.4,497.6 915.0,499.2 915.5,500.1 916.1,501.9 916.7,501.3 917.3,500.8 917.9,501.9 918.4,501.0 919.0,501.8 919.6,498.9 920.2,497.6 920.8,499.3 921.3,501.0 921.9,500.3 922.5,501.1 923.1,500.7 923.7,500.4 924.2,500.6 924.8,498.5 925.4,500.8 926.0,498.1 926.6,499.4 927.1,497.8 927.7,500.6 928.3,498.1 928.9,502.2 929.5,498.8 930.0,500.9 930.6,500.3 931.2,499.1 931.8,501.6 932.4,499.2 932.9,501.4 933.5,497.9 934.1,497.8 934.7,495.9 935.3,498.6 935.8,498.4 936.4,496.7 937.0,495.1 937.6,492.7 938.2,495.0 938.7,490.6 939.3,484.5 939.9,483.4 940.5,476.9 941.1,478.9 941.6,476.0 942.2,472.2 942.8,467.9 943.4,466.1 944.0,465.3 944.5,469.6 945.1,470.3 945.7,474.0 946.3,477.0 946.9,480.8 947.4,485.4 948.0,489.3 948.6,489.9 949.2,491.9 949.8,492.5 950.3,494.0 950.9,495.7 951.5,499.3 952.1,499.5 952.7,501.2 953.2,501.0 953.8,500.4 954.4,499.6 955.0,500.7 955.6,499.4 956.1,503.6 956.7,501.4 957.3,500.6 957.9,503.5 958.5,500.5 959.0,501.6 959.6,500.6 960.2,501.2 960.8,500.1 961.4,501.0 961.9,502.0 962.5,498.6 963.1,497.4 963.7,501.6 964.3,500.1 964.8,500.8 965.4,499.1 966.0,501.0 966.6,501.0 967.2,496.9 967.7,498.5 968.3,496.2 968.9,494.2 969.5,494.8 970.1,494.8 970.6,491.0 971.2,489.5 971.8,490.8 972.4,487.1 973.0,485.1 973.5,480.4 974.1,478.2 974.7,476.5 975.3,474.1 975.9,472.1 976.4,473.1 977.0,471.2 977.6,470.0 978.2,472.9 978.8,476.6 979.3,481.1 979.9,481.2 980.5,484.2 981.1,487.1 981.7,488.3 982.2,489.8 982.8,492.0 983.4,494.7 984.0,495.0 984.6,494.8 985.1,496.1 985.7,494.4 986.3,497.4 986.9,497.1 987.5,496.3 988.0,493.6 988.6,497.5 989.2,490.6 989.8,492.0 990.4,491.0 990.9,491.6 991.5,487.2 992.1,487.4 992.7,484.6 993.3,481.8 993.8,480.4 994.4,478.0 995.0,473.4 995.6,469.2 996.2,463.6 996.7,466.9 997.3,463.5 997.9,461.8 998.5,466.4 999.1,470.9 999.6,472.1 1000.2,474.3 1000.8,482.5 1001.4,483.7 1002.0,486.4 1002.5,489.9 1003.1,488.0 1003.7,492.5 1004.3,493.8 1004.9,497.9 1005.4,495.2 1006.0,495.9 1006.6,495.3 1007.2,496.3 1007.8,497.3 1008.3,498.1 1008.9,497.8 1009.5,500.9 1010.1,499.5 1010.7,500.1 1011.2,501.3 1011.8,500.7 1012.4,499.5 1013.0,498.3 1013.6,500.6 1014.1,499.0 1014.7,501.4 1015.3,498.7 1015.9,496.8 1016.5,499.5 1017.0,500.7 1017.6,499.2 1018.2,499.7 1018.8,499.6 1019.4,501.3 1019.9,499.4 1020.5,498.7 1021.1,497.6 1021.7,495.9 1022.3,499.2 1022.8,498.4 1023.4,495.4 1024.0,496.8 1024.6,496.0 1025.2,494.6 1025.7,494.0 1026.3,494.5 1026.9,490.9 1027.5,490.4 1028.1,489.2 1028.6,487.2 1029.2,484.4 1029.8,481.9 1030.4,479.0 1031.0,473.3 1031.5,470.7 1032.1,465.8 1032.7,464.9 1033.3,457.5 1033.9,457.0 1034.4,457.4 1035.0,456.5 1035.6,458.2 1036.2,460.5 1036.8,464.8 1037.3,465.8 1037.9,470.3 1038.5,472.7 1039.1,472.7 1039.7,476.3 1040.2,475.9 1040.8,476.8 1041.4,476.7 1042.0,474.4 1042.6,470.0 1043.1,469.2 1043.7,462.9 1044.3,460.2 1044.9,459.8 1045.5,453.7 1046.0,453.1 1046.6,448.8 1047.2,449.1 1047.8,449.1 1048.4,455.3 1048.9,457.8 1049.5,463.6 1050.1,468.1 1050.7,472.7 1051.3,476.7 1051.8,479.9 1052.4,483.2 1053.0,485.1 1053.6,485.6 1054.2,490.8 1054.7,494.4 1055.3,494.3 1055.9,496.8 1056.5,495.1 1057.1,493.8 1057.6,494.1 1058.2,496.5 1058.8,496.2 1059.4,495.8 1060.0,497.1 1060.5,495.3 1061.1,497.2 1061.7,496.3 1062.3,497.0 1062.9,498.2 1063.4,496.5 1064.0,498.3 1064.6,498.1 1065.2,495.4 1065.8,499.2 1066.3,496.6 1066.9,496.3 1067.5,497.5 1068.1,494.0 1068.7,498.2 1069.2,498.5 1069.8,497.2 1070.4,497.8 1071.0,497.9 1071.6,497.5 1072.1,499.2 1072.7,497.4 1073.3,497.8 1073.9,498.2 1074.5,498.6 1075.0,498.7 1075.6,495.2 1076.2,494.2 1076.8,496.2 1077.4,495.9 1077.9,494.4 1078.5,495.8 1079.1,496.1 1079.7,495.7 1080.3,497.2 1080.8,493.8 1081.4,495.1 1082.0,497.5 1082.6,495.9 1083.2,493.7 1083.7,495.2 1084.3,496.3 1084.9,497.3 1085.5,495.5 1086.1,496.1 1086.6,493.4 1087.2,494.5 1087.8,496.4 1088.4,493.7 1089.0,494.7 1089.5,492.2 1090.1,496.1 1090.7,493.8 1091.3,494.4 1091.9,491.6 1092.4,491.8 1093.0,495.7 1093.6,492.6 1094.2,492.9 1094.8,494.2 1095.3,494.2 1095.9,490.8 1096.5,491.8 1097.1,492.8 1097.7,492.4 1098.2,492.6 1098.8,491.4 1099.4,491.4 1100.0,491.8 1100.6,490.4 1101.1,489.9 1101.7,489.8 1102.3,489.8 1102.9,488.9 1103.5,487.5 1104.0,486.7 1104.6,485.6 1105.2,484.5 1105.8,482.7 1106.4,478.2 1106.9,478.5 1107.5,472.0 1108.1,471.7 1108.7,466.6 1109.3,465.1 1109.8,462.8 1110.4,456.1 1111.0,458.1 1111.6,457.2 1112.2,456.9 1112.7,459.9 1113.3,461.0 1113.9,464.7 1114.5,466.1 1115.1,471.5 1115.6,474.1 1116.2,476.9 1116.8,477.3 1117.4,482.5 1118.0,484.1 1118.5,482.4 1119.1,482.5 1119.7,482.8 1120.3,484.3 1120.9,484.6 1121.4,482.1 1122.0,480.1 1122.6,482.9 1123.2,481.6 1123.8,481.1 1124.3,480.4 1124.9,476.9 1125.5,476.9 1126.1,474.6 1126.7,473.6 1127.2,473.1 1127.8,470.0 1128.4,467.9 1129.0,470.5 1129.6,470.2 1130.1,470.0 1130.7,469.3 1131.3,472.4 1131.9,475.7 1132.5,478.1 1133.0,478.3 1133.6,481.2 1134.2,481.1 1134.8,482.6 1135.4,484.7 1135.9,484.4 1136.5,485.6 1137.1,487.0 1137.7,487.8 1138.3,485.9 1138.8,486.7 1139.4,485.6 1140.0,485.8 1140.6,487.9 1141.2,486.9 1141.7,485.1 1142.3,488.2 1142.9,486.4 1143.5,487.1 1144.1,488.7 1144.6,488.3 1145.2,487.9 1145.8,485.6 1146.4,489.1 1147.0,487.8 1147.5,486.9 1148.1,486.0 1148.7,490.6 1149.3,489.2 1149.9,489.3 1150.4,490.0 1151.0,489.2 1151.6,487.5 1152.2,490.3 1152.8,490.7 1153.3,490.2 1153.9,491.6 1154.5,492.2 1155.1,489.0 1155.7,489.6 1156.2,491.5 1156.8,490.9 1157.4,491.1 1158.0,492.2 1158.6,492.1 1159.1,490.9 1159.7,491.9 1160.3,491.2 1160.9,492.1 1161.5,491.3 1162.0,490.7 1162.6,492.8 1163.2,493.1 1163.8,495.3 1164.4,496.5 1164.9,495.0 1165.5,495.8 1166.1,494.7 1166.7,494.6 1167.3,495.5 1167.8,495.7 1168.4,496.5 1169.0,496.6 1169.6,498.7 1170.2,496.9 1170.7,495.6 1171.3,498.2 1171.9,497.7 1172.5,499.1 1173.1,500.6 1173.6,498.7 1174.2,499.4 1174.8,500.2 1175.4,498.4 1176.0,499.7 1176.5,500.0 1177.1,500.3 1177.7,500.5 1178.3,499.8 1178.9,499.5 1179.4,497.2 1180.0,495.6 1180.6,497.7 1181.2,500.5 1181.8,498.9 1182.3,496.0 1182.9,497.9 1183.5,498.6 1184.1,490.4 1184.7,497.7 1185.2,494.8 1185.8,496.4 1186.4,494.1 1187.0,496.8 1187.6,490.2 1188.1,491.1 1188.7,488.1 1189.3,490.5 1189.9,488.6 1190.5,489.3 1191.0,488.3 1191.6,487.1 1192.2,488.5 1192.8,488.8 1193.4,490.2 1193.9,491.6 1194.5,495.3 1195.1,496.2 1195.7,496.9 1196.3,496.6 1196.8,498.8 1197.4,498.0 1198.0,500.0 1198.6,501.3 1199.2,500.7 1199.7,500.9 1200.3,501.5 1200.9,503.2 1201.5,502.6 1202.1,501.6 1202.6,503.1 1203.2,502.6 1203.8,505.8 1204.4,504.2 1205.0,502.5 1205.5,504.4 1206.1,504.8 1206.7,504.3 1207.3,503.3 1207.9,503.9 1208.4,504.1 1209.0,505.1 1209.6,504.5 1210.2,506.9 1210.8,504.3 1211.3,506.5 1211.9,505.0 1212.5,503.3 1213.1,504.1 1213.7,503.5 1214.2,503.8 1214.8,507.3 1215.4,505.3 1216.0,506.8 1216.6,505.2 1217.1,506.3 1217.7,505.2 1218.3,507.6 1218.9,506.5 1219.5,506.6 1220.0,507.4 1220.6,510.5 1221.2,508.9 1221.8,509.7 1222.4,507.6 1222.9,508.5 1223.5,509.6 1224.1,507.3 1224.7,510.9 1225.3,509.6 1225.8,509.2 1226.4,509.0 1227.0,508.9 1227.6,508.7 1228.2,510.9 1228.7,510.3 1229.3,511.2 1229.9,509.7 1230.5,509.3 1231.1,512.1 1231.6,509.5 1232.2,510.3 1232.8,511.9 1233.4,512.5 1234.0,509.9 1234.5,511.2 1235.1,511.7 1235.7,511.6 1236.3,511.0 1236.9,512.8 1237.4,511.6 1238.0,512.0 1238.6,509.9 1239.2,512.3 1239.8,510.4 1240.3,513.2 1240.9,512.8 1241.5,511.4 1242.1,511.9 1242.7,511.6 1243.2,511.1 1243.8,511.6 1244.4,511.1 1245.0,510.9 1245.6,510.8 1246.1,513.7 1246.7,512.2 1247.3,512.1 1247.9,513.0 1248.5,511.7 1249.0,511.7 1249.6,512.9 1250.2,513.3 1250.8,512.8 1251.4,510.4 1251.9,511.9 1252.5,511.5 1253.1,511.6 1253.7,509.5 1254.3,508.6 1254.8,508.9 1255.4,507.3 1256.0,506.4 1256.6,507.0 1257.2,507.6 1257.7,506.5 1258.3,507.5 1258.9,505.2 1259.5,507.4 1260.1,507.2 1260.6,506.9 1261.2,508.3 1261.8,508.6 1262.4,510.2 1263.0,510.3 1263.5,513.1 1264.1,511.7 1264.7,510.8 1265.3,512.3 1265.9,513.1 1266.4,512.4 1267.0,513.7 1267.6,511.9 1268.2,512.2 1268.8,515.1 1269.3,513.6 1269.9,514.4 1270.5,514.4 1271.1,514.4 1271.7,513.7 1272.2,513.3 1272.8,514.4 1273.4,512.5 1274.0,513.1 1274.6,513.7 1275.1,512.7 1275.7,511.7 1276.3,514.1 1276.9,515.0 1277.5,514.3 1278.0,512.4 1278.6,515.0 1279.2,516.4 1279.8,512.6 1280.4,511.3 1280.9,513.9 1281.5,514.3 1282.1,515.1 1282.7,515.2 1283.3,514.4 1283.8,514.8 1284.4,514.4 1285.0,514.1 1285.6,513.8 1286.2,513.6 1286.7,514.5 1287.3,514.2 1287.9,513.4 1288.5,515.2 1289.1,513.4 1289.6,514.1 1290.2,514.5 1290.8,512.3 1291.4,513.7 1292.0,514.6 1292.5,514.1 1293.1,511.3 1293.7,510.9 1294.3,509.6 1294.9,509.5 1295.4,508.5 1296.0,505.6 1296.6,506.7 1297.2,505.5 1297.8,504.9 1298.3,504.2 1298.9,505.1 1299.5,504.2 1300.1,507.6 1300.7,508.9 1301.2,509.9 1301.8,510.2 1302.4,514.2 1303.0,515.4 1303.6,513.4 1304.1,516.7 1304.7,517.3 1305.3,515.2 1305.9,518.9 1306.5,519.4 1307.0,519.9 1307.6,519.7 1308.2,519.2 1308.8,519.7 1309.4,521.1 1309.9,522.0 1310.5,519.4 1311.1,521.0 1311.7,522.1 1312.3,519.4 1312.8,522.2 1313.4,521.7 1314.0,519.8 1314.6,523.0 1315.2,521.5 1315.7,523.5 1316.3,524.2 1316.9,521.7 1317.5,521.8 1318.1,522.9 1318.6,521.0 1319.2,523.3 1319.8,522.5 1320.4,523.1 1321.0,520.3 1321.5,522.4 1322.1,522.8 1322.7,520.8 1323.3,523.8 1323.9,521.9 1324.4,523.8 1325.0,522.5 1325.6,524.9 1326.2,525.9 1326.8,524.4 1327.3,524.3 1327.9,525.5 1328.5,523.6 1329.1,524.0 1329.7,524.5 1330.2,523.9 1330.8,524.8 1331.4,524.3 1332.0,524.8 1332.6,522.9 1333.1,524.0 1333.7,522.3 1334.3,524.3 1334.9,525.4 1335.5,526.3 1336.0,523.0 1336.6,524.3 1337.2,525.4 1337.8,523.9 1338.4,525.4 1338.9,525.3 1339.5,524.2 1340.1,524.0 1340.7,523.5 1341.3,524.6 1341.8,525.5 1342.4,524.5 1343.0,527.0 1343.6,523.0 1344.2,524.0 1344.7,525.5 1345.3,524.0 1345.9,525.7 1346.5,526.3 1347.1,525.8 1347.6,525.4 1348.2,526.5 1348.8,525.8 1349.4,526.0 1350.0,525.6 1350.5,524.3 1351.1,523.9 1351.7,524.7 1352.3,525.4 1352.9,525.3 1353.4,526.8 1354.0,526.4 1354.6,527.4 1355.2,526.7 1355.8,525.9 1356.3,527.4 1356.9,526.9 1357.5,525.5 1358.1,525.7 1358.7,528.5 1359.2,522.3 1359.8,526.5 1360.4,525.4 1361.0,525.3 1361.6,525.1 1362.1,525.0 1362.7,527.9 1363.3,525.3 1363.9,525.5 1364.5,526.7 1365.0,526.4 1365.6,525.9 1366.2,525.8 1366.8,524.7 1367.4,526.9 1367.9,524.7 1368.5,523.2 1369.1,526.5 1369.7,526.2 1370.3,525.8 1370.8,525.1 1371.4,526.9 1372.0,525.0 1372.6,524.1 1373.2,526.7 1373.7,527.5 1374.3,527.5 1374.9,529.1 1375.5,528.1 1376.1,527.3 1376.6,527.5 1377.2,528.7 1377.8,527.9 1378.4,528.0 1379.0,526.5 1379.5,528.0 1380.1,527.0 1380.7,528.5 1381.3,528.3 1381.9,528.8 1382.4,529.8 1383.0,527.9 1383.6,529.5 1384.2,527.0 1384.8,528.2 1385.3,529.0 1385.9,530.0 1386.5,527.2 1387.1,528.2 1387.7,528.8 1388.2,528.7 1388.8,528.0 1389.4,527.4 1390.0,527.8 1390.6,528.9 1391.1,527.6 1391.7,530.6 1392.3,530.0 1392.9,527.0 1393.5,528.3 1394.0,530.1 1394.6,530.3 1395.2,530.1 1395.8,527.6 1396.4,528.7 1396.9,530.2 1397.5,529.1 1398.1,528.7 1398.7,529.7 1399.3,530.2 1399.8,529.5 1400.4,529.7 1401.0,530.7 1401.6,529.3 1402.2,529.1 1402.7,530.8 1403.3,529.1 1403.9,530.8 1404.5,529.6 1405.1,531.1 1405.6,529.1 1406.2,531.2 1406.8,530.3 1407.4,529.7 1408.0,529.2 1408.5,529.9 1409.1,529.3 1409.7,529.2 1410.3,531.5 1410.9,531.2 1411.4,532.0 1412.0,529.7 1412.6,529.2 1413.2,529.6 1413.8,531.6 1414.3,531.7 1414.9,529.1 1415.5,531.7 1416.1,530.3 1416.7,529.6 1417.2,530.7 1417.8,531.4 1418.4,530.8 1419.0,531.0 1419.6,530.5 1420.1,530.1 1420.7,531.1 1421.3,529.9 1421.9,532.0 1422.5,530.6 1423.0,532.6 1423.6,529.9 1424.2,532.7 1424.8,530.6 1425.4,530.5 1425.9,531.6 1426.5,532.1 1427.1,531.2 1427.7,531.0 1428.3,533.3 1428.8,532.1 1429.4,530.7 1430.0,531.9 1430.6,534.0 1431.2,533.0 1431.7,533.6 1432.3,534.8 1432.9,532.4 1433.5,533.3 1434.1,532.3 1434.6,532.9 1435.2,533.5 1435.8,531.9 1436.4,533.4 1437.0,533.5 1437.5,534.5 1438.1,533.1 1438.7,532.5 1439.3,534.1 1439.9,533.3 1440.4,533.7 1441.0,534.0 1441.6,532.5 1442.2,533.2 1442.8,532.4 1443.3,530.8 1443.9,532.3 1444.5,532.0 1445.1,534.2 1445.7,533.5 1446.2,534.6 1446.8,534.9 1447.4,536.1 1448.0,534.9 1448.6,535.0 1449.1,535.8 1449.7,536.8 1450.3,535.3 1450.9,535.6 1451.5,535.1 1452.0,534.6 1452.6,533.9 1453.2,535.2 1453.8,534.9 1454.4,534.7 1454.9,536.6 1455.5,534.3 1456.1,534.8 1456.7,534.1 1457.3,535.4 1457.8,534.1 1458.4,536.0 1459.0,534.1 1459.6,535.1 1460.2,535.4 1460.7,534.3 1461.3,535.3 1461.9,534.5 1462.5,533.7 1463.1,533.7 1463.6,534.5 1464.2,535.8 1464.8,533.8 1465.4,534.9 1466.0,533.8 1466.5,535.0 1467.1,533.8 1467.7,534.4 1468.3,535.3 1468.9,534.8 1469.4,535.3 1470.0,536.5 1470.6,535.5 1471.2,535.0 1471.8,534.6 1472.3,535.4 1472.9,537.2 1473.5,536.3 1474.1,536.4 1474.7,537.4 1475.2,537.6 1475.8,537.7 1476.4,536.5 1477.0,535.9 1477.6,535.1 1478.1,535.8 1478.7,535.9 1479.3,536.8 1479.9,536.3 1480.5,535.4 1481.0,536.7 1481.6,534.7 1482.2,535.0 1482.8,534.9 1483.4,535.0 1483.9,535.7 1484.5,535.2 1485.1,535.3 1485.7,537.2 1486.3,534.7 1486.8,535.2 1487.4,536.0 1488.0,536.8 1488.6,537.1 1489.2,536.8 1489.7,537.1 1490.3,537.6 1490.9,538.8 1491.5,537.5 1492.1,536.3 1492.6,538.5 1493.2,537.1 1493.8,537.9 1494.4,538.9 1495.0,537.5 1495.5,538.9 1496.1,535.7 1496.7,537.3 1497.3,537.4 1497.9,537.9 1498.4,536.6 1499.0,537.6 1499.6,537.8 1500.2,538.0 1500.8,537.0 1501.3,536.9 1501.9,539.0 1502.5,538.9 1503.1,538.6 1503.7,539.1 1504.2,539.5 1504.8,537.4 1505.4,538.9 1506.0,539.4 1506.6,538.9 1507.1,538.4 1507.7,538.5 1508.3,536.7 1508.9,537.6 1509.5,539.1 1510.0,539.7 1510.6,539.0 1511.2,538.6 1511.8,539.1 1512.4,540.3 1512.9,541.5 1513.5,540.5 1514.1,539.4 1514.7,540.3 1515.3,538.3 1515.8,541.6 1516.4,540.0 1517.0,539.4 1517.6,539.3 1518.2,538.3 1518.7,538.6 1519.3,539.3 1519.9,539.1 1520.5,540.1 1521.1,540.1 1521.6,540.8 1522.2,541.3 1522.8,540.0 1523.4,539.6 1524.0,539.4 1524.5,539.9 1525.1,540.0 1525.7,538.7 1526.3,539.0 1526.9,538.9 1527.4,540.6 1528.0,540.5 1528.6,541.3 1529.2,539.5 1529.8,543.1 1530.3,540.4 1530.9,540.5 1531.5,541.7 1532.1,541.2 1532.7,543.3 1533.2,541.4 1533.8,541.1 1534.4,542.4 1535.0,542.5 1535.6,540.6 1536.1,540.6 1536.7,540.6 1537.3,540.6 1537.9,542.0 1538.5,541.5 1539.0,541.2 1539.6,541.4 1540.2,540.3 1540.8,541.0 1541.4,540.2 1541.9,539.7 1542.5,541.8 1543.1,539.1 1543.7,540.7 1544.3,540.5 1544.8,539.7 1545.4,541.0 1546.0,541.4 1546.6,541.7 1547.2,540.6 1547.7,541.8 1548.3,541.2 1548.9,541.4 1549.5,539.0 1550.1,540.2 1550.6,540.1 1551.2,541.2 1551.8,540.2 1552.4,540.6 1553.0,540.3 1553.5,540.6 1554.1,541.1 1554.7,543.0 1555.3,541.5 1555.9,540.4 1556.4,542.7 1557.0,542.0 1557.6,542.7 1558.2,542.4 1558.8,541.5 1559.3,541.3 1559.9,541.2 1560.5,541.8 1561.1,541.4 1561.7,542.5 1562.2,543.8 1562.8,542.4 1563.4,542.6 1564.0,542.7 1564.6,543.8 1565.1,543.8 1565.7,544.4 1566.3,543.7 1566.9,543.2 1567.5,543.4 1568.0,541.9 1568.6,543.5 1569.2,543.1 1569.8,544.7 1570.4,544.1 1570.9,542.3 1571.5,542.5 1572.1,543.6 1572.7,541.0 1573.3,541.9 1573.8,542.8 1574.4,542.9 1575.0,542.3 1575.6,543.0 1576.2,541.7 1576.7,541.9 1577.3,541.6 1577.9,540.8 1578.5,541.8 1579.1,541.5 1579.6,542.2 1580.2,540.3 1580.8,542.9 1581.4,542.6 1582.0,542.8 1582.5,543.5 1583.1,543.1 1583.7,544.2 1584.3,544.3 1584.9,543.9 1585.4,543.8 1586.0,543.2 1586.6,542.9 1587.2,541.8 1587.8,542.6 1588.3,542.6 1588.9,543.6 1589.5,542.6 1590.1,543.2 1590.7,544.1 1591.2,543.3 1591.8,544.9 1592.4,543.2 1593.0,544.7 1593.6,544.8 1594.1,544.6 1594.7,544.8 1595.3,545.0 1595.9,542.7 1596.5,544.9 1597.0,545.3 1597.6,544.5 1598.2,545.0 1598.8,543.0 1599.4,543.8 1599.9,544.1 1600.5,543.6 1601.1,544.9 1601.7,544.3 1602.3,543.5 1602.8,544.6 1603.4,544.6 1604.0,543.5 1604.6,544.3 1605.2,544.0 1605.7,543.8 1606.3,542.4 1606.9,544.3 1607.5,543.6 1608.1,543.0 1608.6,543.3 1609.2,543.4 1609.8,543.1 1610.4,543.1 1611.0,543.9 1611.5,543.6 1612.1,543.9 1612.7,543.5 1613.3,544.3 1613.9,545.2 1614.4,544.3 1615.0,544.0 1615.6,543.5 1616.2,543.2 1616.8,542.2 1617.3,544.7 1617.9,542.7 1618.5,542.1 1619.1,543.6 1619.7,543.6 1620.2,543.0 1620.8,542.4 1621.4,542.6 1622.0,545.2 1622.6,543.9 1623.1,543.6 1623.7,545.6 1624.3,543.6 1624.9,543.1 1625.5,544.1 1626.0,543.8 1626.6,544.7 1627.2,542.2 1627.8,543.7 1628.4,542.2 1628.9,544.2 1629.5,543.4 1630.1,543.7 1630.7,543.6 1631.3,544.9 1631.8,545.6 1632.4,544.2 1633.0,544.0 1633.6,543.6 1634.2,544.2 1634.7,542.8 1635.3,546.3 1635.9,543.1 1636.5,544.5 1637.1,543.2 1637.6,542.0 1638.2,542.0 1638.8,543.2 1639.4,543.3 1640.0,544.0 1640.5,543.6 1641.1,546.8 1641.7,546.9 1642.3,544.0 1642.9,546.0 1643.4,546.7 1644.0,545.4 1644.6,545.4 1645.2,546.2 1645.8,545.5 1646.3,543.8 1646.9,545.5 1647.5,543.7 1648.1,545.3 1648.7,542.5 1649.2,540.9 1649.8,542.2 1650.4,542.5 1651.0,541.2 1651.6,540.2 1652.1,538.5 1652.7,539.4 1653.3,536.3 1653.9,538.1 1654.5,535.9 1655.0,536.2 1655.6,535.5 1656.2,536.0 1656.8,538.5 1657.4,536.7 1657.9,538.7 1658.5,538.6 1659.1,541.1 1659.7,539.9 1660.3,541.9 1660.8,543.3 1661.4,544.9 1662.0,542.2 1662.6,542.6 1663.2,543.3 1663.7,544.5 1664.3,542.5 1664.9,544.1 1665.5,543.1 1666.1,542.6 1666.6,542.9 1667.2,544.6 1667.8,545.5 1668.4,544.9 1669.0,543.4 1669.5,544.7 1670.1,545.8 1670.7,545.6 1671.3,545.0 1671.9,545.8 1672.4,543.5 1673.0,543.5 1673.6,546.4 1674.2,545.2 1674.8,544.7 1675.3,544.7 1675.9,543.4 1676.5,546.5 1677.1,544.6 1677.7,545.0 1678.2,546.7 1678.8,548.1 1679.4,546.7 1680.0,547.4 1680.6,546.7 1681.1,547.4 1681.7,545.7 1682.3,548.7 1682.9,546.1 1683.5,547.1 1684.0,544.9 1684.6,547.8 1685.2,546.5 1685.8,547.7 1686.4,545.5 1686.9,546.8 1687.5,545.9 1688.1,546.1 1688.7,547.3 1689.3,545.7 1689.8,547.1 1690.4,548.1 1691.0,547.9 1691.6,548.8 1692.2,546.6 1692.7,545.3 1693.3,547.0 1693.9,545.1 1694.5,546.3 1695.1,544.9 1695.6,545.0 1696.2,545.0 1696.8,545.6 1697.4,545.0 1698.0,545.8 1698.5,545.5 1699.1,546.6 1699.7,546.6 1700.3,546.8 1700.9,545.8 1701.4,546.7 1702.0,546.3 1702.6,546.6 1703.2,546.0 1703.8,545.0 1704.3,546.3 1704.9,545.1 1705.5,545.8 1706.1,543.9 1706.7,545.9 1707.2,546.0 1707.8,544.8 1708.4,546.0 1709.0,545.1 1709.6,546.5 1710.1,545.9 1710.7,544.3 1711.3,545.1 1711.9,543.8 1712.5,545.0 1713.0,545.7 1713.6,546.0 1714.2,545.4 1714.8,545.4 1715.4,545.8 1715.9,545.3 1716.5,546.1 1717.1,546.7 1717.7,545.9 1718.3,546.4 1718.8,545.0 1719.4,545.1 1720.0,545.8 1720.6,547.2 1721.2,546.4 1721.7,547.0 1722.3,545.7 1722.9,546.6 1723.5,544.3 1724.1,546.1 1724.6,544.1 1725.2,546.8 1725.8,546.4 1726.4,547.1 1727.0,546.6 1727.5,546.0 1728.1,545.8 1728.7,546.5 1729.3,547.3 1729.9,546.4 1730.4,545.2 1731.0,544.9 1731.6,544.6 1732.2,545.0 1732.8,545.1 1733.3,544.9 1733.9,545.5 1734.5,544.6 1735.1,547.4 1735.7,546.6 1736.2,547.8 1736.8,547.0 1737.4,546.7 1738.0,547.0 1738.6,547.1 1739.1,546.4 1739.7,546.6 1740.3,548.4 1740.9,547.6 1741.5,546.5 1742.0,547.2 1742.6,546.1 1743.2,547.8 1743.8,545.9 1744.4,547.3 1744.9,546.6 1745.5,546.5 1746.1,545.7 1746.7,546.1 1747.3,545.6 1747.8,545.4 1748.4,546.3 1749.0,547.8 1749.6,545.4 1750.2,546.3 1750.7,545.5 1751.3,544.9 1751.9,546.6 1752.5,546.1 1753.1,546.7 1753.6,546.0 1754.2,546.3 1754.8,545.7 1755.4,546.3 1756.0,547.9 1756.5,544.7 1757.1,546.6 1757.7,547.2 1758.3,546.4 1758.9,546.2 1759.4,545.1 1760.0,546.1 1760.6,546.1 1761.2,545.3 1761.8,546.8 1762.3,545.2 1762.9,543.8 1763.5,546.0 1764.1,546.2 1764.7,545.9 1765.2,546.4 1765.8,546.6 1766.4,545.9 1767.0,548.5 1767.6,547.8 1768.1,550.2 1768.7,548.2 1769.3,548.6 1769.9,547.1 1770.5,549.0 1771.0,547.4 1771.6,548.5 1772.2,548.8 1772.8,548.6 1773.4,547.3 1773.9,547.2 1774.5,548.2 1775.1,548.3 1775.7,548.3 1776.3,547.0 1776.8,546.8 1777.4,548.1 1778.0,546.3 1778.6,547.4 1779.2,546.7 1779.7,546.1 1780.3,546.6 1780.9,548.1 1781.5,548.3 1782.1,548.7 1782.6,548.2 1783.2,548.2 1783.8,548.8 1784.4,548.4 1785.0,547.2 1785.5,548.0 1786.1,549.5 1786.7,547.6 1787.3,548.6 1787.9,548.2 1788.4,548.8 1789.0,547.7 1789.6,547.4 1790.2,548.7 1790.8,547.8 1791.3,548.3 1791.9,548.2 1792.5,549.2 1793.1,548.8 1793.7,548.9 1794.2,548.2 1794.8,547.9 1795.4,548.5 1796.0,549.8 1796.6,549.6 1797.1,549.4 1797.7,548.5 1798.3,547.9 1798.9,549.5 1799.5,548.7 1800.0,549.0 1800.6,547.9 1801.2,548.2 1801.8,549.3 1802.4,549.4 1802.9,548.2 1803.5,549.2 1804.1,548.1 1804.7,549.8 1805.3,549.2 1805.8,550.3 1806.4,549.6 1807.0,547.8 1807.6,548.4 1808.2,547.9 1808.7,548.3 1809.3,548.9 1809.9,548.4 1810.5,548.5 1811.1,547.6 1811.6,549.1 1812.2,548.7 1812.8,549.1 1813.4,549.3 1814.0,548.3 1814.5,548.7 1815.1,547.5 1815.7,548.5 1816.3,547.5 1816.9,546.8 1817.4,546.8 1818.0,545.7 1818.6,546.1 1819.2,546.1 1819.8,546.3 1820.3,546.0 1820.9,545.5 1821.5,545.7 1822.1,544.2 1822.7,545.9 1823.2,546.3 1823.8,546.6 1824.4,546.9 1825.0,546.1 1825.6,546.4 1826.1,546.4 1826.7,546.6 1827.3,547.3 1827.9,548.5 1828.5,546.4 1829.0,547.4 1829.6,548.1 1830.2,547.2 1830.8,548.3 1831.4,546.9 1831.9,547.7 1832.5,546.6 1833.1,548.0 1833.7,547.0 1834.3,547.9 1834.8,547.0 1835.4,546.2 1836.0,546.4 1836.6,546.6 1837.2,546.3 1837.7,546.0 1838.3,545.9 1838.9,546.3 1839.5,547.1 1840.1,546.2 1840.6,547.1 1841.2,545.9 1841.8,547.8 1842.4,547.4 1843.0,546.8 1843.5,546.7 1844.1,545.6 1844.7,546.9 1845.3,546.5 1845.9,545.5 1846.4,546.1 1847.0,546.7 1847.6,546.0 1848.2,545.6 1848.8,544.4 1849.3,544.8 1849.9,543.4 1850.5,543.5 1851.1,544.0 1851.7,540.1 1852.2,541.1 1852.8,541.5 1853.4,541.2 1854.0,543.1 1854.6,542.5 1855.1,544.8 1855.7,544.7 1856.3,545.0 1856.9,545.3 1857.5,546.6 1858.0,547.0 1858.6,548.3 1859.2,548.1 1859.8,549.0 1860.4,548.8 1860.9,548.9 1861.5,547.6 1862.1,548.8 1862.7,549.1 1863.3,548.0 1863.8,547.9 1864.4,548.9 1865.0,549.5 1865.6,548.3 1866.2,550.0 1866.7,550.7 1867.3,550.0 1867.9,550.4 1868.5,550.7 1869.1,549.9 1869.6,550.9 1870.2,551.0 1870.8,549.9 1871.4,551.3 1872.0,551.7 1872.5,550.4 1873.1,551.8 1873.7,551.1 1874.3,550.3 1874.9,550.5 1875.4,550.6 1876.0,551.5 1876.6,550.7 1877.2,550.8 1877.8,550.1 1878.3,550.9 1878.9,550.0 1879.5,550.4 1880.1,551.3 1880.7,551.3 1881.2,550.6 1881.8,551.0 1882.4,551.6 1883.0,551.3 1883.6,552.3 1884.1,552.6 1884.7,551.7 1885.3,551.0 1885.9,551.9 1886.5,553.1 1887.0,553.0 1887.6,553.2 1888.2,553.2 1888.8,552.2 1889.4,552.7 1889.9,553.2 1890.5,552.5 1891.1,552.8 1891.7,551.4 1892.3,551.1 1892.8,553.2 1893.4,552.3 1894.0,552.1 1894.6,552.6 1895.2,553.1 1895.7,553.6 1896.3,550.1 1896.9,552.0 1897.5,552.6 1898.1,550.7 1898.6,550.9 1899.2,552.1 1899.8,553.6 1900.4,552.9 1901.0,553.6 1901.5,552.2 1902.1,552.6 1902.7,552.7 1903.3,551.9 1903.9,551.5 1904.4,551.6 1905.0,549.1 1905.6,552.0 1906.2,550.6 1906.8,551.5 1907.3,552.6 1907.9,552.5 1908.5,550.8 1909.1,552.5 1909.7,552.6 1910.2,552.1 1910.8,552.5 1911.4,552.5 1912.0,551.0 1912.6,552.2 1913.1,552.2 1913.7,551.6 1914.3,552.3 1914.9,551.6 1915.5,551.8 1916.0,550.9 1916.6,551.9 1917.2,552.5 1917.8,550.4 1918.4,550.7 1918.9,550.7 1919.5,551.0 1920.1,550.4 1920.7,548.8 1921.3,550.3 1921.8,549.4 1922.4,548.0 1923.0,547.8 1923.6,546.5 1924.2,545.9 1924.7,544.2 1925.3,543.0 1925.9,542.1 1926.5,541.2 1927.1,540.0 1927.6,540.3 1928.2,539.1 1928.8,538.2 1929.4,540.7 1930.0,540.0 1930.5,542.1 1931.1,540.9 1931.7,543.3 1932.3,545.3 1932.9,545.9 1933.4,545.9 1934.0,546.3 1934.6,547.1 1935.2,548.1 1935.8,548.0 1936.3,548.7 1936.9,548.9 1937.5,549.2 1938.1,550.3 1938.7,548.9 1939.2,550.4 1939.8,550.7 1940.4,549.4 1941.0,549.4 1941.6,549.9 1942.1,549.8 1942.7,550.6 1943.3,548.6 1943.9,550.1 1944.5,551.3 1945.0,550.4 1945.6,551.7 1946.2,552.1 1946.8,550.2 1947.4,551.7 1947.9,551.1 1948.5,550.7 1949.1,550.5 1949.7,550.6 1950.3,550.2 1950.8,550.8 1951.4,551.8 1952.0,552.2 1952.6,551.2 1953.2,552.0 1953.7,552.1 1954.3,550.2 1954.9,552.5 1955.5,551.2 1956.1,551.3 1956.6,552.7 1957.2,553.2 1957.8,551.2 1958.4,551.4 1959.0,551.5 1959.5,551.9 1960.1,552.2 1960.7,551.9 1961.3,551.3 1961.9,553.7 1962.4,551.9 1963.0,551.6 1963.6,552.6 1964.2,551.6 1964.8,552.6 1965.3,552.4 1965.9,552.6 1966.5,551.7 1967.1,552.7 1967.7,550.9 1968.2,551.0 1968.8,551.9 1969.4,551.5 1970.0,552.5 1970.6,551.2 1971.1,550.1 1971.7,551.3 1972.3,551.0 1972.9,551.3 1973.5,550.2 1974.0,550.3 1974.6,550.6 1975.2,550.8 1975.8,550.0 1976.4,549.8 1976.9,547.6 1977.5,548.1 1978.1,548.1 1978.7,548.5 1979.3,548.0 1979.8,547.8 1980.4,548.3 1981.0,548.8 1981.6,548.2 1982.2,549.8 1982.7,550.7 1983.3,550.8 1983.9,549.1 1984.5,550.6 1985.1,549.7 1985.6,551.6 1986.2,551.2 1986.8,551.3 1987.4,550.3 1988.0,549.4 1988.5,550.1 1989.1,550.6 1989.7,549.7 1990.3,550.0 1990.9,551.9 1991.4,549.7 1992.0,551.0 1992.6,549.7 1993.2,550.9 1993.8,551.4 1994.3,551.3 1994.9,552.0 1995.5,552.7 1996.1,550.6 1996.7,551.9 1997.2,552.0 1997.8,551.8 1998.4,552.3 1999.0,550.9 1999.6,551.0 2000.1,550.4 2000.7,549.0 2001.3,548.7 2001.9,547.1 2002.5,547.4 2003.0,547.0 2003.6,546.6 2004.2,546.3 2004.8,547.5 2005.4,547.0 2005.9,549.2 2006.5,548.8 2007.1,548.8 2007.7,548.2 2008.3,549.5 2008.8,549.1 2009.4,549.1 2010.0,548.4 2010.6,549.7 2011.2,549.6 2011.7,549.3 2012.3,549.3 2012.9,549.9 2013.5,549.4 2014.1,550.2 2014.6,551.8 2015.2,550.5 2015.8,552.7 2016.4,550.1 2017.0,551.8 2017.5,551.7 2018.1,551.7 2018.7,551.2 2019.3,549.5 2019.9,551.3 2020.4,551.1 2021.0,550.1 2021.6,548.1 2022.2,550.4 2022.8,548.6 2023.3,548.9 2023.9,549.8 2024.5,549.7 2025.1,549.0 2025.7,548.4 2026.2,550.2 2026.8,550.0 2027.4,549.4 2028.0,549.1 2028.6,550.3 2029.1,549.4 2029.7,551.9 2030.3,551.1 2030.9,550.6 2031.5,551.1 2032.0,549.6 2032.6,550.7 2033.2,550.2 2033.8,549.5 2034.4,550.3 2034.9,551.1 2035.5,550.0 2036.1,551.2 2036.7,550.6 2037.3,552.0 2037.8,550.8 2038.4,552.8 2039.0,552.9 2039.6,553.0 2040.2,553.7 2040.7,552.4 2041.3,552.1 2041.9,552.3 2042.5,551.4 2043.1,550.3 2043.6,550.8 2044.2,550.8 2044.8,551.8 2045.4,551.2 2046.0,551.5 2046.5,552.2 2047.1,551.9 2047.7,553.2 2048.3,551.7 2048.9,551.0 2049.4,552.5 2050.0,551.2 2050.6,551.3 2051.2,552.0 2051.8,551.3 2052.3,551.4 2052.9,550.3 2053.5,550.3 2054.1,550.7 2054.7,549.6 2055.2,549.5 2055.8,549.5 2056.4,550.4 2057.0,549.9 2057.6,548.4 2058.1,547.7 2058.7,546.4 2059.3,547.4 2059.9,546.0 2060.5,545.9 2061.0,543.7 2061.6,545.4 2062.2,545.0 2062.8,545.9 2063.4,546.8 2063.9,546.6 2064.5,547.1 2065.1,548.6 2065.7,547.9 2066.3,550.6 2066.8,550.4 2067.4,549.8 2068.0,552.0 2068.6,552.0 2069.2,552.5 2069.7,552.2 2070.3,551.8 2070.9,551.4 2071.5,550.6 2072.1,551.8 2072.6,551.5 2073.2,550.6 2073.8,551.2 2074.4,549.9 2075.0,551.1 2075.5,550.3 2076.1,550.2 2076.7,549.5 2077.3,550.7 2077.9,550.2 2078.4,549.8 2079.0,550.6 2079.6,550.3 2080.2,551.3 2080.8,549.5 2081.3,549.7 2081.9,551.8 2082.5,549.8 2083.1,550.4 2083.7,549.6 2084.2,549.9 2084.8,551.7 2085.4,548.5 2086.0,550.5 2086.6,550.4 2087.1,550.7 2087.7,550.3 2088.3,550.3 2088.9,552.1 2089.5,551.4 2090.0,550.1 2090.6,550.9 2091.2,549.8 2091.8,552.8 2092.4,551.1 2092.9,549.8 2093.5,551.9 2094.1,552.0 2094.7,552.0 2095.3,552.1 2095.8,551.7 2096.4,552.1 2097.0,550.9 2097.6,556.5 2098.2,553.8 2098.7,552.7 2099.3,552.7 2099.9,551.2 2100.5,551.7 2101.1,550.8 2101.6,550.7 2102.2,551.8 2102.8,552.3 2103.4,551.1 2104.0,552.8 2104.5,551.6 2105.1,549.5 2105.7,550.9 2106.3,552.3 2106.9,551.7 2107.4,552.5 2108.0,550.8 2108.6,553.1 2109.2,551.5 2109.8,552.7 2110.3,554.0 2110.9,552.5 2111.5,552.1 2112.1,552.6 2112.7,551.3 2113.2,551.1 2113.8,552.4 2114.4,550.6 2115.0,550.7 2115.6,552.9 2116.1,550.7 2116.7,551.9 2117.3,552.3 2117.9,551.4 2118.5,550.6 2119.0,551.8 2119.6,550.5 2120.2,552.5 2120.8,552.5 2121.4,550.3 2121.9,551.5 2122.5,550.7 2123.1,551.7 2123.7,551.4 2124.3,551.0 2124.8,552.1 2125.4,550.6 2126.0,551.9 2126.6,551.4 2127.2,550.8 2127.7,551.8 2128.3,551.1 2128.9,550.8 2129.5,550.9 2130.1,551.0 2130.6,551.9 2131.2,551.1 2131.8,549.3 2132.4,549.1 2133.0,550.5 2133.5,550.4 2134.1,551.0 2134.7,550.3 2135.3,550.8 2135.9,552.3 2136.4,550.4 2137.0,552.0 2137.6,551.9 2138.2,552.3 2138.8,551.9 2139.3,551.4 2139.9,552.1 2140.5,551.6 2141.1,550.6 2141.7,551.7 2142.2,551.5 2142.8,550.9 2143.4,550.8 2144.0,550.0 2144.6,550.2 2145.1,549.6 2145.7,548.6 2146.3,549.6 2146.9,551.1 2147.5,550.8 2148.0,551.6 2148.6,550.8 2149.2,550.7 2149.8,550.4 2150.4,551.2 2150.9,551.8 2151.5,551.5 2152.1,551.4 2152.7,550.4 2153.3,550.8 2153.8,550.2 2154.4,551.4 2155.0,551.3 2155.6,550.5 2156.2,551.2 2156.7,549.5 2157.3,551.6 2157.9,550.5 2158.5,550.7 2159.1,551.2 2159.6,551.2 2160.2,550.1 2160.8,551.7 2161.4,551.9 2162.0,551.5 2162.5,551.2 2163.1,550.6 2163.7,551.6 2164.3,550.1 2164.9,550.0 2165.4,551.1 2166.0,551.3 2166.6,550.7 2167.2,552.8 2167.8,550.7 2168.3,550.4 2168.9,551.7 2169.5,553.1 2170.1,552.4 2170.7,552.0 2171.2,551.7 2171.8,551.8 2172.4,551.5 2173.0,551.2 2173.6,551.0 2174.1,549.9 2174.7,551.8 2175.3,550.8 2175.9,551.4 2176.5,551.5 2177.0,552.0 2177.6,550.8 2178.2,552.0 2178.8,552.1 2179.4,551.6 2179.9,551.8 2180.5,552.0 2181.1,551.2 2181.7,551.5 2182.3,550.9 2182.8,552.3 2183.4,550.7 2184.0,550.3 2184.6,550.9 2185.2,551.1 2185.7,550.4 2186.3,550.1 2186.9,551.2 2187.5,551.7 2188.1,550.2 2188.6,552.2 2189.2,550.4 2189.8,552.2 2190.4,551.4 2191.0,551.5 2191.5,552.1 2192.1,552.5 2192.7,552.9 2193.3,552.3 2193.9,551.8 2194.4,550.4 2195.0,551.1 2195.6,551.6 2196.2,551.1 2196.8,552.0 2197.3,551.4 2197.9,552.8 2198.5,551.3 2199.1,550.5 2199.7,550.9"/>
<polyline stroke="#008888" points="171.4,269.1 172.0,270.2 172.6,269.3 173.1,266.1 173.7,270.6 174.3,269.8 174.9,268.1 175.5,270.6 176.0,276.2 176.6,270.7 177.2,270.4 177.8,271.8 178.4,269.5 178.9,271.0 179.5,270.7 180.1,273.0 180.7,272.0 181.3,271.4 181.8,270.3 182.4,271.3 183.0,271.6 183.6,270.9 184.2,273.9 184.7,273.2 185.3,265.7 185.9,267.3 186.5,270.9 187.1,270.6 187.6,272.1 188.2,272.3 188.8,276.2 189.4,270.0 190.0,271.7 190.5,276.9 191.1,274.5 191.7,274.9 192.3,272.9 192.9,270.8 193.4,274.6 194.0,274.5 194.6,271.8 195.2,272.8 195.8,273.7 196.3,271.8 196.9,273.3 197.5,273.6 198.1,273.5 198.7,272.5 199.2,274.9 199.8,275.7 200.4,274.9 201.0,272.8 201.6,276.2 202.1,274.0 202.7,278.3 203.3,273.4 203.9,277.6 204.5,275.9 205.0,273.6 205.6,275.6 206.2,276.4 206.8,276.7 207.4,274.0 207.9,273.6 208.5,276.0 209.1,274.7 209.7,276.2 210.3,277.6 210.8,273.3 211.4,277.7 212.0,280.3 212.6,277.8 213.2,277.3 213.7,280.8 214.3,280.0 214.9,281.3 215.5,278.7 216.1,276.3 216.6,278.9 217.2,278.1 217.8,280.4 218.4,279.3 219.0,275.8 219.5,276.8 220.1,281.2 220.7,281.1 221.3,278.8 221.9,280.3 222.4,281.4 223.0,281.6 223.6,282.5 224.2,281.3 224.8,280.7 225.3,280.4 225.9,282.9 226.5,276.3 227.1,280.6 227.7,281.0 228.2,278.3 228.8,281.9 229.4,280.2 230.0,283.5 230.6,281.8 231.1,283.7 231.7,285.0 232.3,283.6 232.9,281.2 233.5,279.9 234.0,286.4 234.6,282.6 235.2,281.4 235.8,282.9 236.4,282.1 236.9,284.1 237.5,282.5 238.1,282.5 238.7,281.3 239.3,283.9 239.8,281.2 240.4,284.9 241.0,286.9 241.6,281.0 242.2,279.2 242.7,285.4 243.3,289.2 243.9,282.1 244.5,281.7 245.1,285.5 245.6,282.9 246.2,283.9 246.8,284.5 247.4,286.5 248.0,285.0 248.5,286.6 249.1,285.9 249.7,284.7 250.3,285.8 250.9,284.5 251.4,286.4 252.0,284.0 252.6,283.9 253.2,288.7 253.8,285.4 254.3,285.2 254.9,286.2 255.5,284.3 256.1,284.8 256.7,286.2 257.2,286.1 257.8,283.4 258.4,287.5 259.0,284.7 259.6,283.9 260.1,284.2 260.7,285.2 261.3,289.2 261.9,283.5 262.5,286.1 263.0,281.5 263.6,285.8 264.2,287.5 264.8,285.3 265.4,284.4 265.9,286.1 266.5,287.1 267.1,287.0 267.7,289.6 268.3,286.0 268.8,284.4 269.4,285.3 270.0,285.4 270.6,285.9 271.2,285.6 271.7,286.1 272.3,282.6 272.9,287.6 273.5,284.9 274.1,283.7 274.6,287.2 275.2,288.4 275.8,286.7 276.4,286.1 277.0,284.0 277.5,291.7 278.1,287.8 278.7,283.9 279.3,284.6 279.9,286.3 280.4,283.0 281.0,286.4 281.6,285.0 282.2,288.2 282.8,287.5 283.3,280.1 283.9,285.6 284.5,282.3 285.1,287.8 285.7,286.0 286.2,285.5 286.8,283.4 287.4,288.9 288.0,289.1 288.6,282.8 289.1,285.6 289.7,283.4 290.3,284.7 290.9,282.3 291.5,288.7 292.0,283.2 292.6,284.6 293.2,286.2 293.8,283.8 294.4,284.5 294.9,283.6 295.5,284.4 296.1,282.3 296.7,283.8 297.3,284.4 297.8,284.2 298.4,285.1 299.0,284.4 299.6,286.5 300.2,284.3 300.7,284.5 301.3,283.2 301.9,283.4 302.5,281.9 303.1,285.5 303.6,282.2 304.2,283.1 304.8,285.4 305.4,285.6 306.0,284.0 306.5,280.8 307.1,285.6 307.7,285.3 308.3,282.0 308.9,286.4 309.4,283.5 310.0,282.6 310.6,285.0 311.2,284.3 311.8,284.9 312.3,281.0 312.9,287.6 313.5,282.6 314.1,280.6 314.7,284.5 315.2,282.9 315.8,284.4 316.4,283.3 317.0,284.1 317.6,285.0 318.1,283.3 318.7,286.3 319.3,284.1 319.9,283.3 320.5,285.0 321.0,285.5 321.6,283.8 322.2,282.2 322.8,284.8 323.4,279.7 323.9,280.8 324.5,282.6 325.1,279.5 325.7,282.0 326.3,281.7 326.8,283.5 327.4,279.8 328.0,280.4 328.6,282.5 329.2,277.0 329.7,288.2 330.3,280.6 330.9,280.5 331.5,283.6 332.1,281.6 332.6,277.9 333.2,282.5 333.8,282.9 334.4,280.3 335.0,280.7 335.5,282.4 336.1,279.9 336.7,282.8 337.3,282.4 337.9,280.7 338.4,279.3 339.0,281.5 339.6,280.1 340.2,283.7 340.8,281.8 341.3,283.0 341.9,281.7 342.5,281.9 343.1,280.0 343.7,282.5 344.2,284.5 344.8,279.9 345.4,279.0 346.0,279.5 346.6,278.6 347.1,278.2 347.7,280.0 348.3,279.4 348.9,283.3 349.5,280.8 350.0,281.8 350.6,283.3 351.2,281.0 351.8,284.4 352.4,280.2 352.9,279.7 353.5,280.4 354.1,280.8 354.7,278.2 355.3,280.9 355.8,277.7 356.4,283.8 357.0,280.8 357.6,279.6 358.2,278.9 358.7,279.7 359.3,279.8 359.9,277.6 360.5,277.8 361.1,278.9 361.6,278.0 362.2,280.6 362.8,280.7 363.4,278.3 364.0,278.9 364.5,275.1 365.1,278.8 365.7,277.2 366.3,277.9 366.9,279.8 367.4,271.8 368.0,276.6 368.6,273.7 369.2,276.9 369.8,273.0 370.3,274.6 370.9,276.0 371.5,276.7 372.1,275.5 372.7,273.6 373.2,273.8 373.8,276.4 374.4,274.4 375.0,270.9 375.6,273.7 376.1,275.2 376.7,276.4 377.3,274.2 377.9,276.8 378.5,273.2 379.0,276.5 379.6,274.3 380.2,276.5 380.8,277.0 381.4,273.3 381.9,274.5 382.5,274.6 383.1,276.8 383.7,275.9 384.3,272.0 384.8,275.3 385.4,275.7 386.0,278.1 386.6,270.0 387.2,271.8 387.7,275.0 388.3,269.2 388.9,269.1 389.5,272.4 390.1,273.4 390.6,270.1 391.2,272.7 391.8,272.0 392.4,274.9 393.0,271.8 393.5,273.6 394.1,269.6 394.7,270.8 395.3,270.7 395.9,272.9 396.4,268.1 397.0,268.5 397.6,271.1 398.2,270.9 398.8,268.8 399.3,268.1 399.9,267.9 400.5,264.6 401.1,268.1 401.7,268.0 402.2,265.7 402.8,268.8 403.4,264.5 404.0,265.9 404.6,265.9 405.1,270.5 405.7,262.9 406.3,266.9 406.9,267.3 407.5,265.8 408.0,267.1 408.6,262.4 409.2,259.5 409.8,265.3 410.4,261.2 410.9,262.8 411.5,261.1 412.1,265.7 412.7,265.4 413.3,262.4 413.8,265.8 414.4,264.3 415.0,263.7 415.6,263.8 416.2,262.9 416.7,264.1 417.3,263.0 417.9,261.3 418.5,263.6 419.1,260.0 419.6,261.5 420.2,261.5 420.8,263.4 421.4,259.3 422.0,263.7 422.5,260.5 423.1,259.8 423.7,259.0 424.3,261.6 424.9,260.5 425.4,258.2 426.0,257.9 426.6,258.8 427.2,258.3 427.8,261.5 428.3,261.8 428.9,260.5 429.5,259.2 430.1,257.3 430.7,257.8 431.2,259.0 431.8,260.8 432.4,257.7 433.0,254.7 433.6,254.7 434.1,253.2 434.7,252.3 435.3,253.4 435.9,254.2 436.5,257.7 437.0,254.3 437.6,257.1 438.2,258.1 438.8,254.7 439.4,257.8 439.9,255.9 440.5,253.4 441.1,254.4 441.7,253.6 442.3,252.8 442.8,252.6 443.4,253.1 444.0,253.4 444.6,250.6 445.2,252.1 445.7,248.7 446.3,251.9 446.9,252.2 447.5,250.8 448.1,250.6 448.6,250.8 449.2,248.1 449.8,248.9 450.4,250.4 451.0,251.4 451.5,250.1 452.1,254.2 452.7,248.6 453.3,250.3 453.9,250.4 454.4,247.1 455.0,245.2 455.6,244.1 456.2,246.5 456.8,248.2 457.3,246.4 457.9,246.1 458.5,246.8 459.1,246.5 459.7,240.8 460.2,245.2 460.8,244.5 461.4,241.5 462.0,248.4 462.6,241.1 463.1,241.5 463.7,241.1 464.3,245.5 464.9,241.3 465.5,244.1 466.0,243.6 466.6,242.4 467.2,238.7 467.8,239.5 468.4,243.4 468.9,236.9 469.5,237.2 470.1,238.0 470.7,239.4 471.3,237.9 471.8,238.4 472.4,234.4 473.0,238.1 473.6,237.0 474.2,232.3 474.7,238.3 475.3,239.6 475.9,233.5 476.5,235.1 477.1,237.8 477.6,232.1 478.2,231.0 478.8,232.3 479.4,233.6 480.0,233.3 480.5,235.3 481.1,234.2 481.7,230.7 482.3,234.0 482.9,236.3 483.4,234.8 484.0,234.2 484.6,232.0 485.2,233.6 485.8,229.4 486.3,232.4 486.9,230.3 487.5,232.3 488.1,230.6 488.7,227.3 489.2,229.5 489.8,231.5 490.4,226.6 491.0,227.5 491.6,226.9 492.1,225.1 492.7,229.7 493.3,230.0 493.9,228.6 494.5,227.1 495.0,226.2 495.6,226.5 496.2,224.3 496.8,227.2 497.4,227.2 497.9,226.6 498.5,223.2 499.1,223.9 499.7,222.8 500.3,226.2 500.8,222.5 501.4,218.0 502.0,222.2 502.6,224.9 503.2,222.4 503.7,222.7 504.3,220.9 504.9,216.7 505.5,216.8 506.1,217.6 506.6,219.5 507.2,219.9 507.8,220.2 508.4,217.6 509.0,219.6 509.5,216.7 510.1,215.4 510.7,218.3 511.3,214.5 511.9,210.7 512.4,213.8 513.0,215.8 513.6,209.2 514.2,214.4 514.8,214.1 515.3,211.4 515.9,210.8 516.5,212.3 517.1,211.6 517.7,214.8 518.2,212.7 518.8,208.6 519.4,209.7 520.0,212.5 520.6,214.6 521.1,211.3 521.7,210.8 522.3,213.6 522.9,209.6 523.5,208.6 524.0,206.0 524.6,207.4 525.2,212.4 525.8,204.9 526.4,207.4 526.9,204.2 527.5,206.8 528.1,207.9 528.7,205.2 529.3,206.8 529.8,206.4 530.4,205.5 531.0,207.8 531.6,205.8 532.2,203.5 532.7,202.8 533.3,202.5 533.9,205.2 534.5,203.6 535.1,209.7 535.6,207.9 536.2,203.7 536.8,203.2 537.4,207.0 538.0,199.6 538.5,202.1 539.1,204.6 539.7,200.6 540.3,201.1 540.9,201.1 541.4,202.8 542.0,201.6 542.6,202.0 543.2,202.3 543.8,201.1 544.3,203.2 544.9,199.4 545.5,197.9 546.1,197.0 546.7,196.9 547.2,198.6 547.8,201.1 548.4,198.8 549.0,196.6 549.6,195.1 550.1,195.8 550.7,195.7 551.3,195.2 551.9,193.3 552.5,195.2 553.0,198.1 553.6,191.8 554.2,195.8 554.8,192.2 555.4,197.0 555.9,195.3 556.5,192.6 557.1,196.9 557.7,200.2 558.3,196.6 558.8,198.3 559.4,195.4 560.0,190.9 560.6,195.8 561.2,193.9 561.7,191.8 562.3,196.3 562.9,195.3 563.5,193.7 564.1,196.3 564.6,192.7 565.2,195.4 565.8,191.9 566.4,194.5 567.0,190.9 567.5,195.8 568.1,193.0 568.7,195.2 569.3,190.6 569.9,191.2 570.4,193.8 571.0,186.7 571.6,190.1 572.2,194.3 572.8,193.1 573.3,194.0 573.9,191.3 574.5,192.8 575.1,189.9 575.7,188.4 576.2,187.7 576.8,190.1 577.4,190.2 578.0,190.3 578.6,184.7 579.1,188.0 579.7,191.1 580.3,192.9 580.9,191.3 581.5,190.8 582.0,188.0 582.6,196.8 583.2,190.6 583.8,196.2 584.4,195.9 584.9,193.3 585.5,191.3 586.1,192.5 586.7,189.5 587.3,192.0 587.8,191.2 588.4,192.1 589.0,192.8 589.6,194.3 590.2,190.1 590.7,193.1 591.3,189.6 591.9,189.5 592.5,190.2 593.1,189.6 593.6,193.6 594.2,193.6 594.8,194.5 595.4,192.2 596.0,193.1 596.5,191.7 597.1,190.9 597.7,194.3 598.3,194.2 598.9,191.6 599.4,195.0 600.0,190.4 600.6,193.5 601.2,192.6 601.8,192.8 602.3,191.9 602.9,196.0 603.5,195.4 604.1,196.8 604.7,194.9 605.2,192.2 605.8,194.2 606.4,192.7 607.0,196.1 607.6,197.8 608.1,196.2 608.7,194.7 609.3,195.4 609.9,196.7 610.5,193.6 611.0,196.8 611.6,196.9 612.2,195.4 612.8,195.7 613.4,196.9 613.9,195.1 614.5,195.2 615.1,198.6 615.7,197.8 616.3,200.9 616.8,195.9 617.4,194.6 618.0,200.1 618.6,200.2 619.2,197.1 619.7,195.9 620.3,199.0 620.9,196.0 621.5,199.3 622.1,196.2 622.6,200.5 623.2,197.3 623.8,201.4 624.4,205.1 625.0,201.8 625.5,204.0 626.1,201.4 626.7,201.1 627.3,200.3 627.9,205.6 628.4,204.0 629.0,207.8 629.6,203.0 630.2,205.4 630.8,206.5 631.3,209.5 631.9,210.6 632.5,206.2 633.1,205.6 633.7,204.9 634.2,211.2 634.8,209.1 635.4,208.7 636.0,210.4 636.6,206.1 637.1,208.1 637.7,213.4 638.3,212.6 638.9,212.4 639.5,210.4 640.0,213.6 640.6,216.2 641.2,211.1 641.8,214.0 642.4,213.8 642.9,215.8 643.5,215.5 644.1,215.1 644.7,213.3 645.3,214.0 645.8,211.0 646.4,207.9 647.0,199.1 647.6,183.0 648.2,153.0 648.7,127.6 649.3,133.3 649.9,159.1 650.5,186.8 651.1,206.4 651.6,214.3 652.2,218.3 652.8,220.9 653.4,219.8 654.0,224.1 654.5,226.6 655.1,226.1 655.7,223.0 656.3,227.1 656.9,225.7 657.4,227.7 658.0,229.0 658.6,227.4 659.2,232.6 659.8,230.7 660.3,232.8 660.9,233.0 661.5,234.7 662.1,234.8 662.7,230.4 663.2,233.6 663.8,230.2 664.4,233.8 665.0,236.5 665.6,237.6 666.1,239.0 666.7,236.8 667.3,238.8 667.9,239.1 668.5,241.9 669.0,243.2 669.6,240.3 670.2,248.3 670.8,242.1 671.4,242.0 671.9,244.2 672.5,244.9 673.1,244.8 673.7,243.0 674.3,247.1 674.8,244.9 675.4,247.8 676.0,247.8 676.6,243.3 677.2,244.1 677.7,244.4 678.3,246.9 678.9,247.0 679.5,247.8 680.1,246.3 680.6,248.8 681.2,250.8 681.8,246.2 682.4,248.5 683.0,249.5 683.5,249.1 684.1,249.3 684.7,253.2 685.3,252.8 685.9,252.6 686.4,250.4 687.0,256.2 687.6,253.5 688.2,252.4 688.8,253.2 689.3,253.2 689.9,258.0 690.5,254.9 691.1,254.9 691.7,248.3 692.2,256.5 692.8,253.7 693.4,253.9 694.0,257.3 694.6,255.1 695.1,258.4 695.7,259.2 696.3,254.5 696.9,257.8 697.5,255.7 698.0,258.7 698.6,260.9 699.2,257.4 699.8,263.4 700.4,260.3 700.9,259.4 701.5,261.8 702.1,264.1 702.7,261.0 703.3,264.0 703.8,262.3 704.4,267.3 705.0,266.1 705.6,265.5 706.2,268.4 706.7,264.8 707.3,266.7 707.9,270.9 708.5,268.0 709.1,271.1 709.6,269.7 710.2,268.7 710.8,270.0 711.4,271.0 712.0,270.6 712.5,270.3 713.1,270.7 713.7,269.9 714.3,273.0 714.9,273.9 715.4,274.8 716.0,270.8 716.6,275.5 717.2,274.4 717.8,272.4 718.3,275.4 718.9,277.1 719.5,277.2 720.1,278.3 720.7,279.5 721.2,280.2 721.8,279.4 722.4,276.6 723.0,279.4 723.6,281.8 724.1,280.8 724.7,283.1 725.3,283.6 725.9,282.6 726.5,285.9 727.0,281.4 727.6,284.8 728.2,282.6 728.8,282.3 729.4,284.9 729.9,283.1 730.5,285.9 731.1,282.9 731.7,285.4 732.3,284.6 732.8,286.3 733.4,286.8 734.0,286.2 734.6,289.8 735.2,287.1 735.7,288.0 736.3,291.5 736.9,292.1 737.5,292.0 738.1,291.9 738.6,295.4 739.2,290.0 739.8,291.1 740.4,291.0 741.0,294.4 741.5,293.6 742.1,295.1 742.7,295.0 743.3,293.2 743.9,292.3 744.4,292.3 745.0,297.8 745.6,296.0 746.2,295.7 746.8,294.5 747.3,295.1 747.9,295.4 748.5,296.0 749.1,293.2 749.7,297.5 750.2,297.4 750.8,298.8 751.4,299.0 752.0,300.2 752.6,299.0 753.1,300.6 753.7,295.3 754.3,297.8 754.9,302.5 755.5,297.8 756.0,299.4 756.6,301.1 757.2,298.5 757.8,301.2 758.4,297.8 758.9,297.3 759.5,298.6 760.1,298.6 760.7,301.9 761.3,302.1 761.8,303.7 762.4,302.1 763.0,308.4 763.6,304.6 764.2,305.1 764.7,306.3 765.3,305.5 765.9,305.3 766.5,307.0 767.1,308.8 767.6,308.9 768.2,309.7 768.8,307.7 769.4,307.5 770.0,312.0 770.5,308.4 771.1,309.5 771.7,309.8 772.3,309.1 772.9,306.3 773.4,307.8 774.0,308.0 774.6,308.5 775.2,305.5 775.8,309.6 776.3,305.7 776.9,311.4 777.5,312.5 778.1,313.4 778.7,311.3 779.2,315.4 779.8,313.2 780.4,313.2 781.0,314.0 781.6,314.5 782.1,316.2 782.7,317.3 783.3,312.8 783.9,315.3 784.5,317.7 785.0,316.9 785.6,317.7 786.2,314.9 786.8,319.2 787.4,315.7 787.9,318.9 788.5,321.3 789.1,322.5 789.7,320.7 790.3,321.5 790.8,319.4 791.4,319.7 792.0,322.3 792.6,320.4 793.2,320.1 793.7,318.0 794.3,320.4 794.9,321.2 795.5,319.1 796.1,319.8 796.6,323.5 797.2,321.8 797.8,321.6 798.4,320.8 799.0,322.0 799.5,323.0 800.1,325.8 800.7,322.9 801.3,326.7 801.9,322.5 802.4,323.3 803.0,325.1 803.6,323.4 804.2,322.4 804.8,323.5 805.3,324.4 805.9,321.0 806.5,323.2 807.1,323.3 807.7,322.6 808.2,323.9 808.8,321.5 809.4,321.3 810.0,321.4 810.6,322.0 811.1,320.4 811.7,323.0 812.3,319.8 812.9,323.8 813.5,321.5 814.0,323.6 814.6,325.5 815.2,329.0 815.8,328.3 816.4,327.3 816.9,330.7 817.5,329.3 818.1,329.2 818.7,331.7 819.3,331.7 819.8,333.3 820.4,331.2 821.0,332.6 821.6,332.9 822.2,332.1 822.7,331.3 823.3,330.0 823.9,332.2 824.5,330.9 825.1,331.5 825.6,330.4 826.2,331.1 826.8,329.7 827.4,331.5 828.0,332.5 828.5,331.5 829.1,332.6 829.7,331.8 830.3,333.2 830.9,330.8 831.4,328.6 832.0,331.4 832.6,330.3 833.2,328.8 833.8,330.6 834.3,329.1 834.9,328.0 835.5,325.0 836.1,323.4 836.7,320.5 837.2,319.2 837.8,311.5 838.4,308.1 839.0,304.2 839.6,297.1 840.1,294.0 840.7,297.8 841.3,292.2 841.9,297.6 842.5,299.0 843.0,303.2 843.6,305.8 844.2,311.6 844.8,318.0 845.4,318.2 845.9,324.1 846.5,326.1 847.1,330.7 847.7,328.8 848.3,332.6 848.8,333.2 849.4,332.4 850.0,331.2 850.6,336.4 851.2,332.9 851.7,334.7 852.3,337.2 852.9,338.0 853.5,335.7 854.1,337.4 854.6,337.5 855.2,339.8 855.8,342.0 856.4,336.0 857.0,339.9 857.5,334.5 858.1,338.4 858.7,336.6 859.3,340.8 859.9,338.1 860.4,336.7 861.0,337.1 861.6,337.0 862.2,338.2 862.8,337.7 863.3,338.9 863.9,340.2 864.5,339.1 865.1,336.4 865.7,336.0 866.2,337.3 866.8,339.9 867.4,338.1 868.0,337.9 868.6,339.2 869.1,337.3 869.7,337.9 870.3,340.3 870.9,339.3 871.5,339.2 872.0,340.3 872.6,339.1 873.2,338.8 873.8,338.8 874.4,339.8 874.9,338.4 875.5,335.8 876.1,335.9 876.7,335.7 877.3,335.6 877.8,329.2 878.4,328.5 879.0,324.6 879.6,322.7 880.2,318.7 880.7,316.8 881.3,312.7 881.9,309.6 882.5,309.3 883.1,311.9 883.6,314.5 884.2,320.6 884.8,323.4 885.4,323.3 886.0,328.9 886.5,329.7 887.1,331.9 887.7,337.4 888.3,339.0 888.9,338.3 889.4,343.2 890.0,340.6 890.6,341.3 891.2,344.5 891.8,344.7 892.3,344.8 892.9,345.4 893.5,346.1 894.1,345.7 894.7,345.7 895.2,343.3 895.8,344.1 896.4,346.8 897.0,345.2 897.6,347.0 898.1,348.1 898.7,346.2 899.3,347.3 899.9,349.8 900.5,348.1 901.0,349.8 901.6,349.6 902.2,348.8 902.8,348.0 903.4,347.4 903.9,347.3 904.5,349.7 905.1,350.0 905.7,349.3 906.3,350.8 906.8,349.1 907.4,351.5 908.0,350.3 908.6,350.5 909.2,350.9 909.7,351.1 910.3,354.8 910.9,349.7 911.5,352.3 912.1,353.8 912.6,353.2 913.2,351.9 913.8,354.7 914.4,351.2 915.0,351.1 915.5,353.8 916.1,351.5 916.7,350.8 917.3,355.4 917.9,355.7 918.4,356.1 919.0,354.8 919.6,355.9 920.2,354.5 920.8,358.0 921.3,356.8 921.9,356.6 922.5,353.1 923.1,356.4 923.7,357.0 924.2,356.5 924.8,355.8 925.4,354.6 926.0,353.9 926.6,354.9 927.1,354.5 927.7,354.2 928.3,353.4 928.9,355.8 929.5,352.2 930.0,353.4 930.6,352.5 931.2,354.2 931.8,354.3 932.4,353.6 932.9,352.5 933.5,349.3 934.1,352.9 934.7,350.2 935.3,348.5 935.8,347.6 936.4,345.7 937.0,344.8 937.6,342.3 938.2,338.7 938.7,332.6 939.3,331.9 939.9,328.2 940.5,323.7 941.1,318.1 941.6,314.3 942.2,311.1 942.8,306.1 943.4,307.3 944.0,302.8 944.5,305.9 945.1,309.8 945.7,312.1 946.3,318.8 946.9,326.5 947.4,331.0 948.0,333.8 948.6,339.4 949.2,340.7 949.8,342.3 950.3,345.2 950.9,346.4 951.5,348.6 952.1,346.9 952.7,350.7 953.2,349.6 953.8,351.8 954.4,349.5 955.0,351.3 955.6,352.3 956.1,353.6 956.7,351.3 957.3,354.9 957.9,353.6 958.5,352.4 959.0,354.4 959.6,352.9 960.2,353.9 960.8,355.0 961.4,353.0 961.9,351.3 962.5,351.3 963.1,352.4 963.7,352.0 964.3,350.7 964.8,350.9 965.4,352.5 966.0,354.3 966.6,348.3 967.2,351.6 967.7,349.7 968.3,349.7 968.9,348.3 969.5,345.5 970.1,341.9 970.6,338.5 971.2,334.5 971.8,334.3 972.4,328.0 973.0,322.7 973.5,317.8 974.1,310.9 974.7,307.8 975.3,304.5 975.9,300.7 976.4,295.0 977.0,299.4 977.6,298.6 978.2,300.8 978.8,306.7 979.3,312.6 979.9,319.4 980.5,323.2 981.1,327.4 981.7,333.0 982.2,339.0 982.8,338.5 983.4,341.9 984.0,342.8 984.6,346.8 985.1,342.1 985.7,345.7 986.3,343.1 986.9,343.8 987.5,344.2 988.0,347.7 988.6,342.7 989.2,340.6 989.8,343.1 990.4,339.0 990.9,337.5 991.5,334.9 992.1,331.4 992.7,326.8 993.3,322.4 993.8,317.1 994.4,311.9 995.0,304.1 995.6,298.0 996.2,292.7 996.7,291.8 997.3,289.5 997.9,291.3 998.5,294.3 999.1,300.6 999.6,304.0 1000.2,310.7 1000.8,313.9 1001.4,319.6 1002.0,325.6 1002.5,328.9 1003.1,335.0 1003.7,335.8 1004.3,340.0 1004.9,339.2 1005.4,342.4 1006.0,344.6 1006.6,345.7 1007.2,344.7 1007.8,347.4 1008.3,348.8 1008.9,348.8 1009.5,347.6 1010.1,347.9 1010.7,347.3 1011.2,349.5 1011.8,350.5 1012.4,348.5 1013.0,347.3 1013.6,349.5 1014.1,350.2 1014.7,346.5 1015.3,349.7 1015.9,351.9 1016.5,350.4 1017.0,350.0 1017.6,349.6 1018.2,350.2 1018.8,347.7 1019.4,347.6 1019.9,348.8 1020.5,347.3 1021.1,348.1 1021.7,345.3 1022.3,347.8 1022.8,347.2 1023.4,345.4 1024.0,344.5 1024.6,344.7 1025.2,339.9 1025.7,338.1 1026.3,335.4 1026.9,333.4 1027.5,329.4 1028.1,327.0 1028.6,321.7 1029.2,315.6 1029.8,309.6 1030.4,307.2 1031.0,298.7 1031.5,291.9 1032.1,286.5 1032.7,282.0 1033.3,281.0 1033.9,281.0 1034.4,281.8 1035.0,285.8 1035.6,291.0 1036.2,296.6 1036.8,306.1 1037.3,307.9 1037.9,310.7 1038.5,315.6 1039.1,317.8 1039.7,320.2 1040.2,318.3 1040.8,318.6 1041.4,315.5 1042.0,312.6 1042.6,308.6 1043.1,303.3 1043.7,294.1 1044.3,282.7 1044.9,276.3 1045.5,270.4 1046.0,268.0 1046.6,262.8 1047.2,263.6 1047.8,264.2 1048.4,270.8 1048.9,278.0 1049.5,284.1 1050.1,294.0 1050.7,302.1 1051.3,307.3 1051.8,315.1 1052.4,321.3 1053.0,323.7 1053.6,327.4 1054.2,330.2 1054.7,332.5 1055.3,335.6 1055.9,336.7 1056.5,338.4 1057.1,339.1 1057.6,339.2 1058.2,340.7 1058.8,342.7 1059.4,341.3 1060.0,342.2 1060.5,344.9 1061.1,344.4 1061.7,342.2 1062.3,343.6 1062.9,342.1 1063.4,344.8 1064.0,342.2 1064.6,343.0 1065.2,344.6 1065.8,342.0 1066.3,344.6 1066.9,342.2 1067.5,343.4 1068.1,342.8 1068.7,342.9 1069.2,343.0 1069.8,342.5 1070.4,341.2 1071.0,343.1 1071.6,342.6 1072.1,343.0 1072.7,342.9 1073.3,339.4 1073.9,342.2 1074.5,342.1 1075.0,339.7 1075.6,341.4 1076.2,341.7 1076.8,339.0 1077.4,337.8 1077.9,338.7 1078.5,342.2 1079.1,338.8 1079.7,336.8 1080.3,337.8 1080.8,336.7 1081.4,337.2 1082.0,337.6 1082.6,334.1 1083.2,337.2 1083.7,338.1 1084.3,335.7 1084.9,335.2 1085.5,336.7 1086.1,333.7 1086.6,333.6 1087.2,333.4 1087.8,334.9 1088.4,335.6 1089.0,335.0 1089.5,335.8 1090.1,336.0 1090.7,335.4 1091.3,333.7 1091.9,334.2 1092.4,336.0 1093.0,333.0 1093.6,333.7 1094.2,333.1 1094.8,332.9 1095.3,331.2 1095.9,330.3 1096.5,334.4 1097.1,331.8 1097.7,329.1 1098.2,329.4 1098.8,329.8 1099.4,328.1 1100.0,328.8 1100.6,326.7 1101.1,326.5 1101.7,326.2 1102.3,324.9 1102.9,321.4 1103.5,323.4 1104.0,322.3 1104.6,320.8 1105.2,316.5 1105.8,315.5 1106.4,311.8 1106.9,304.9 1107.5,299.4 1108.1,298.0 1108.7,290.3 1109.3,287.7 1109.8,284.4 1110.4,276.1 1111.0,273.3 1111.6,273.5 1112.2,275.7 1112.7,275.7 1113.3,283.3 1113.9,287.5 1114.5,291.7 1115.1,294.6 1115.6,300.9 1116.2,304.5 1116.8,304.9 1117.4,312.1 1118.0,310.9 1118.5,313.5 1119.1,313.5 1119.7,315.5 1120.3,317.1 1120.9,314.7 1121.4,313.4 1122.0,314.6 1122.6,312.5 1123.2,311.8 1123.8,310.7 1124.3,308.3 1124.9,307.2 1125.5,300.5 1126.1,298.7 1126.7,293.7 1127.2,293.0 1127.8,291.9 1128.4,286.7 1129.0,288.3 1129.6,285.9 1130.1,286.5 1130.7,290.1 1131.3,293.3 1131.9,297.9 1132.5,302.5 1133.0,307.7 1133.6,309.9 1134.2,311.9 1134.8,312.8 1135.4,314.2 1135.9,316.7 1136.5,318.2 1137.1,319.5 1137.7,320.6 1138.3,320.9 1138.8,319.3 1139.4,321.0 1140.0,321.9 1140.6,325.7 1141.2,323.4 1141.7,325.1 1142.3,326.5 1142.9,325.3 1143.5,324.6 1144.1,324.9 1144.6,324.0 1145.2,325.7 1145.8,326.7 1146.4,325.9 1147.0,326.1 1147.5,326.0 1148.1,327.7 1148.7,324.5 1149.3,325.7 1149.9,326.7 1150.4,327.7 1151.0,323.5 1151.6,326.4 1152.2,327.3 1152.8,326.8 1153.3,329.6 1153.9,329.2 1154.5,328.7 1155.1,327.3 1155.7,327.8 1156.2,328.3 1156.8,330.1 1157.4,328.2 1158.0,327.3 1158.6,328.3 1159.1,329.7 1159.7,332.9 1160.3,334.3 1160.9,331.0 1161.5,333.1 1162.0,333.9 1162.6,333.9 1163.2,332.4 1163.8,331.2 1164.4,332.4 1164.9,331.1 1165.5,333.9 1166.1,334.9 1166.7,331.9 1167.3,334.2 1167.8,334.7 1168.4,335.9 1169.0,336.1 1169.6,335.4 1170.2,333.6 1170.7,334.1 1171.3,336.2 1171.9,334.2 1172.5,335.2 1173.1,337.5 1173.6,336.2 1174.2,334.8 1174.8,336.4 1175.4,337.9 1176.0,337.1 1176.5,338.9 1177.1,339.1 1177.7,336.7 1178.3,336.7 1178.9,337.0 1179.4,335.5 1180.0,337.3 1180.6,336.5 1181.2,337.7 1181.8,335.9 1182.3,335.3 1182.9,338.2 1183.5,334.3 1184.1,333.7 1184.7,332.2 1185.2,331.3 1185.8,328.8 1186.4,327.9 1187.0,324.8 1187.6,322.8 1188.1,321.3 1188.7,319.3 1189.3,316.9 1189.9,313.7 1190.5,314.4 1191.0,313.9 1191.6,315.0 1192.2,314.8 1192.8,320.6 1193.4,322.3 1193.9,327.6 1194.5,328.9 1195.1,329.2 1195.7,331.1 1196.3,336.1 1196.8,335.2 1197.4,338.4 1198.0,338.2 1198.6,341.9 1199.2,340.1 1199.7,342.2 1200.3,342.3 1200.9,340.5 1201.5,340.9 1202.1,343.3 1202.6,341.8 1203.2,341.1 1203.8,343.8 1204.4,345.7 1205.0,343.0 1205.5,344.9 1206.1,343.3 1206.7,345.2 1207.3,343.4 1207.9,345.3 1208.4,344.4 1209.0,343.7 1209.6,344.4 1210.2,343.7 1210.8,343.3 1211.3,343.7 1211.9,345.1 1212.5,344.1 1213.1,346.0 1213.7,346.2 1214.2,346.2 1214.8,345.2 1215.4,345.8 1216.0,345.7 1216.6,347.1 1217.1,344.5 1217.7,344.7 1218.3,344.6 1218.9,344.3 1219.5,343.3 1220.0,343.1 1220.6,344.8 1221.2,342.9 1221.8,344.9 1222.4,346.5 1222.9,346.2 1223.5,343.3 1224.1,347.0 1224.7,347.3 1225.3,348.1 1225.8,346.3 1226.4,349.5 1227.0,347.9 1227.6,350.9 1228.2,351.0 1228.7,352.8 1229.3,349.7 1229.9,348.6 1230.5,351.6 1231.1,351.6 1231.6,350.6 1232.2,352.9 1232.8,352.6 1233.4,350.8 1234.0,352.1 1234.5,352.2 1235.1,352.7 1235.7,353.0 1236.3,352.0 1236.9,352.4 1237.4,353.2 1238.0,352.5 1238.6,352.4 1239.2,352.6 1239.8,353.2 1240.3,351.6 1240.9,354.2 1241.5,353.3 1242.1,355.0 1242.7,353.6 1243.2,356.4 1243.8,355.7 1244.4,353.9 1245.0,355.4 1245.6,354.0 1246.1,356.4 1246.7,354.6 1247.3,353.0 1247.9,353.8 1248.5,353.3 1249.0,354.5 1249.6,353.4 1250.2,353.3 1250.8,351.0 1251.4,352.4 1251.9,352.9 1252.5,350.1 1253.1,348.0 1253.7,346.5 1254.3,343.4 1254.8,342.6 1255.4,339.0 1256.0,338.2 1256.6,335.8 1257.2,333.8 1257.7,334.6 1258.3,332.0 1258.9,334.5 1259.5,334.3 1260.1,339.8 1260.6,341.8 1261.2,342.5 1261.8,345.6 1262.4,346.0 1263.0,347.6 1263.5,348.2 1264.1,349.1 1264.7,351.5 1265.3,351.8 1265.9,352.7 1266.4,354.6 1267.0,354.0 1267.6,352.6 1268.2,354.2 1268.8,353.6 1269.3,354.1 1269.9,353.3 1270.5,355.8 1271.1,356.6 1271.7,353.5 1272.2,355.5 1272.8,355.6 1273.4,353.9 1274.0,355.2 1274.6,356.6 1275.1,356.1 1275.7,356.9 1276.3,354.0 1276.9,354.3 1277.5,355.3 1278.0,355.1 1278.6,354.5 1279.2,354.0 1279.8,353.9 1280.4,353.7 1280.9,355.0 1281.5,351.8 1282.1,356.8 1282.7,354.8 1283.3,354.0 1283.8,356.3 1284.4,354.2 1285.0,356.0 1285.6,354.9 1286.2,355.7 1286.7,355.7 1287.3,356.0 1287.9,353.8 1288.5,353.7 1289.1,354.7 1289.6,351.1 1290.2,352.2 1290.8,350.3 1291.4,346.9 1292.0,347.7 1292.5,345.6 1293.1,340.0 1293.7,339.7 1294.3,338.0 1294.9,335.2 1295.4,331.1 1296.0,329.4 1296.6,330.7 1297.2,331.0 1297.8,333.2 1298.3,335.3 1298.9,338.7 1299.5,340.1 1300.1,343.2 1300.7,349.3 1301.2,348.1 1301.8,351.2 1302.4,352.6 1303.0,354.2 1303.6,354.4 1304.1,357.2 1304.7,357.6 1305.3,359.3 1305.9,361.2 1306.5,359.7 1307.0,360.6 1307.6,359.0 1308.2,360.4 1308.8,362.1 1309.4,360.5 1309.9,360.1 1310.5,361.1 1311.1,360.8 1311.7,360.9 1312.3,360.9 1312.8,363.4 1313.4,360.6 1314.0,361.2 1314.6,361.3 1315.2,363.3 1315.7,361.9 1316.3,363.7 1316.9,362.8 1317.5,362.8 1318.1,361.6 1318.6,364.6 1319.2,364.2 1319.8,364.2 1320.4,363.8 1321.0,363.5 1321.5,362.6 1322.1,364.7 1322.7,363.9 1323.3,363.2 1323.9,362.8 1324.4,363.5 1325.0,363.4 1325.6,365.3 1326.2,369.0 1326.8,363.4 1327.3,363.0 1327.9,363.9 1328.5,363.3 1329.1,364.4 1329.7,364.8 1330.2,365.2 1330.8,365.1 1331.4,364.6 1332.0,365.6 1332.6,364.3 1333.1,365.2 1333.7,366.1 1334.3,365.6 1334.9,364.0 1335.5,364.1 1336.0,363.5 1336.6,366.9 1337.2,363.6 1337.8,364.9 1338.4,366.8 1338.9,365.0 1339.5,366.0 1340.1,363.8 1340.7,364.5 1341.3,366.2 1341.8,362.4 1342.4,362.2 1343.0,360.9 1343.6,360.8 1344.2,361.0 1344.7,361.9 1345.3,359.6 1345.9,359.2 1346.5,360.9 1347.1,361.5 1347.6,363.1 1348.2,362.9 1348.8,362.0 1349.4,363.6 1350.0,364.6 1350.5,364.1 1351.1,363.9 1351.7,365.2 1352.3,364.5 1352.9,363.3 1353.4,366.6 1354.0,364.3 1354.6,365.4 1355.2,365.7 1355.8,365.9 1356.3,366.2 1356.9,365.2 1357.5,367.3 1358.1,366.9 1358.7,367.1 1359.2,368.2 1359.8,368.3 1360.4,368.6 1361.0,369.1 1361.6,367.8 1362.1,365.9 1362.7,367.6 1363.3,367.5 1363.9,367.7 1364.5,367.2 1365.0,367.1 1365.6,368.8 1366.2,369.0 1366.8,366.9 1367.4,368.4 1367.9,367.6 1368.5,367.3 1369.1,368.2 1369.7,367.4 1370.3,366.9 1370.8,367.6 1371.4,365.7 1372.0,367.3 1372.6,367.7 1373.2,367.0 1373.7,368.6 1374.3,368.8 1374.9,368.0 1375.5,368.5 1376.1,369.3 1376.6,369.6 1377.2,367.7 1377.8,368.6 1378.4,369.1 1379.0,368.0 1379.5,367.3 1380.1,367.4 1380.7,368.0 1381.3,367.5 1381.9,370.7 1382.4,368.4 1383.0,369.6 1383.6,369.6 1384.2,370.3 1384.8,369.5 1385.3,368.7 1385.9,371.6 1386.5,369.9 1387.1,369.9 1387.7,369.8 1388.2,370.6 1388.8,369.9 1389.4,370.0 1390.0,369.5 1390.6,368.7 1391.1,368.7 1391.7,367.8 1392.3,366.7 1392.9,368.6 1393.5,368.0 1394.0,371.8 1394.6,371.1 1395.2,371.0 1395.8,369.6 1396.4,372.3 1396.9,368.9 1397.5,369.5 1398.1,370.0 1398.7,369.9 1399.3,371.0 1399.8,371.1 1400.4,372.8 1401.0,372.0 1401.6,372.2 1402.2,371.4 1402.7,370.8 1403.3,370.3 1403.9,369.5 1404.5,370.2 1405.1,370.7 1405.6,371.9 1406.2,369.8 1406.8,370.2 1407.4,371.7 1408.0,370.4 1408.5,371.6 1409.1,370.8 1409.7,370.3 1410.3,369.7 1410.9,370.8 1411.4,370.2 1412.0,370.4 1412.6,370.5 1413.2,371.4 1413.8,371.5 1414.3,369.9 1414.9,371.5 1415.5,372.1 1416.1,372.8 1416.7,372.6 1417.2,372.1 1417.8,370.9 1418.4,371.3 1419.0,372.9 1419.6,371.5 1420.1,373.1 1420.7,373.4 1421.3,371.2 1421.9,372.5 1422.5,371.9 1423.0,373.8 1423.6,372.5 1424.2,371.1 1424.8,371.9 1425.4,370.6 1425.9,371.4 1426.5,371.8 1427.1,371.8 1427.7,372.0 1428.3,371.0 1428.8,370.2 1429.4,371.6 1430.0,371.2 1430.6,371.5 1431.2,374.1 1431.7,373.3 1432.3,372.1 1432.9,371.1 1433.5,371.3 1434.1,372.8 1434.6,373.4 1435.2,372.0 1435.8,372.2 1436.4,372.1 1437.0,372.7 1437.5,369.9 1438.1,371.8 1438.7,372.2 1439.3,372.9 1439.9,372.6 1440.4,371.4 1441.0,372.0 1441.6,371.1 1442.2,372.7 1442.8,372.7 1443.3,373.0 1443.9,371.8 1444.5,371.8 1445.1,374.4 1445.7,373.4 1446.2,375.1 1446.8,374.0 1447.4,372.4 1448.0,374.5 1448.6,374.8 1449.1,373.2 1449.7,371.7 1450.3,374.0 1450.9,373.1 1451.5,373.4 1452.0,370.6 1452.6,373.5 1453.2,370.6 1453.8,372.4 1454.4,374.0 1454.9,371.7 1455.5,371.7 1456.1,373.1 1456.7,375.0 1457.3,374.9 1457.8,372.7 1458.4,374.0 1459.0,373.4 1459.6,373.0 1460.2,373.0 1460.7,372.1 1461.3,373.5 1461.9,374.0 1462.5,375.8 1463.1,374.6 1463.6,371.9 1464.2,373.5 1464.8,375.3 1465.4,378.4 1466.0,373.7 1466.5,375.3 1467.1,374.9 1467.7,375.0 1468.3,374.7 1468.9,375.4 1469.4,375.8 1470.0,375.0 1470.6,373.5 1471.2,373.9 1471.8,374.4 1472.3,375.2 1472.9,375.1 1473.5,375.3 1474.1,374.9 1474.7,376.6 1475.2,376.6 1475.8,376.7 1476.4,375.8 1477.0,376.2 1477.6,375.0 1478.1,374.8 1478.7,375.2 1479.3,376.2 1479.9,375.5 1480.5,374.6 1481.0,375.9 1481.6,376.4 1482.2,376.4 1482.8,376.0 1483.4,377.0 1483.9,376.7 1484.5,376.9 1485.1,377.1 1485.7,377.7 1486.3,378.5 1486.8,378.0 1487.4,377.0 1488.0,375.8 1488.6,375.7 1489.2,375.6 1489.7,376.8 1490.3,373.3 1490.9,376.0 1491.5,374.0 1492.1,375.7 1492.6,376.8 1493.2,374.8 1493.8,373.5 1494.4,376.7 1495.0,377.0 1495.5,376.3 1496.1,377.1 1496.7,375.5 1497.3,377.5 1497.9,378.2 1498.4,377.4 1499.0,377.2 1499.6,378.1 1500.2,378.0 1500.8,376.3 1501.3,378.2 1501.9,377.7 1502.5,377.2 1503.1,378.4 1503.7,378.2 1504.2,378.2 1504.8,377.3 1505.4,378.6 1506.0,377.0 1506.6,377.8 1507.1,376.4 1507.7,376.3 1508.3,378.1 1508.9,377.5 1509.5,377.5 1510.0,377.9 1510.6,377.6 1511.2,376.5 1511.8,377.3 1512.4,377.2 1512.9,376.9 1513.5,377.4 1514.1,377.2 1514.7,377.1 1515.3,377.5 1515.8,378.0 1516.4,379.6 1517.0,377.0 1517.6,378.2 1518.2,376.4 1518.7,379.0 1519.3,377.3 1519.9,377.8 1520.5,378.9 1521.1,378.7 1521.6,376.7 1522.2,378.5 1522.8,377.7 1523.4,378.3 1524.0,377.6 1524.5,377.8 1525.1,377.0 1525.7,376.4 1526.3,377.3 1526.9,374.9 1527.4,375.9 1528.0,375.8 1528.6,375.7 1529.2,377.0 1529.8,377.7 1530.3,377.6 1530.9,377.9 1531.5,376.9 1532.1,378.3 1532.7,378.6 1533.2,377.7 1533.8,377.5 1534.4,377.4 1535.0,379.3 1535.6,378.0 1536.1,378.3 1536.7,377.8 1537.3,377.7 1537.9,377.5 1538.5,379.7 1539.0,377.0 1539.6,378.8 1540.2,378.6 1540.8,378.5 1541.4,377.4 1541.9,377.7 1542.5,379.6 1543.1,378.2 1543.7,379.6 1544.3,379.4 1544.8,379.3 1545.4,379.4 1546.0,377.6 1546.6,378.1 1547.2,379.0 1547.7,377.3 1548.3,379.9 1548.9,378.1 1549.5,378.7 1550.1,378.1 1550.6,379.4 1551.2,378.6 1551.8,379.1 1552.4,378.4 1553.0,380.4 1553.5,378.0 1554.1,379.7 1554.7,379.5 1555.3,379.8 1555.9,378.6 1556.4,380.5 1557.0,380.6 1557.6,380.2 1558.2,380.5 1558.8,380.4 1559.3,381.3 1559.9,380.3 1560.5,381.6 1561.1,381.6 1561.7,380.2 1562.2,379.2 1562.8,381.3 1563.4,381.1 1564.0,382.2 1564.6,381.1 1565.1,380.6 1565.7,379.8 1566.3,380.9 1566.9,380.5 1567.5,380.1 1568.0,380.9 1568.6,381.7 1569.2,380.8 1569.8,379.7 1570.4,380.6 1570.9,379.3 1571.5,378.8 1572.1,380.5 1572.7,379.7 1573.3,381.3 1573.8,381.0 1574.4,380.4 1575.0,381.6 1575.6,382.8 1576.2,381.8 1576.7,381.4 1577.3,382.0 1577.9,382.0 1578.5,381.9 1579.1,382.0 1579.6,383.6 1580.2,384.2 1580.8,383.0 1581.4,384.0 1582.0,384.0 1582.5,384.5 1583.1,382.8 1583.7,382.5 1584.3,383.0 1584.9,382.6 1585.4,382.7 1586.0,383.4 1586.6,381.9 1587.2,382.4 1587.8,381.3 1588.3,382.0 1588.9,381.5 1589.5,381.4 1590.1,381.8 1590.7,381.6 1591.2,382.1 1591.8,382.4 1592.4,380.4 1593.0,382.5 1593.6,379.8 1594.1,381.9 1594.7,382.4 1595.3,381.3 1595.9,381.7 1596.5,381.3 1597.0,382.7 1597.6,379.4 1598.2,381.3 1598.8,380.6 1599.4,382.6 1599.9,383.7 1600.5,383.8 1601.1,383.5 1601.7,383.2 1602.3,382.3 1602.8,383.7 1603.4,383.0 1604.0,381.5 1604.6,381.0 1605.2,381.5 1605.7,382.9 1606.3,383.3 1606.9,383.8 1607.5,382.1 1608.1,382.7 1608.6,384.3 1609.2,383.4 1609.8,383.8 1610.4,381.9 1611.0,382.6 1611.5,382.8 1612.1,382.5 1612.7,382.5 1613.3,381.6 1613.9,384.4 1614.4,383.2 1615.0,381.9 1615.6,384.0 1616.2,383.1 1616.8,383.4 1617.3,382.5 1617.9,381.8 1618.5,381.6 1619.1,382.3 1619.7,382.6 1620.2,382.4 1620.8,382.5 1621.4,383.1 1622.0,382.5 1622.6,383.2 1623.1,383.3 1623.7,382.7 1624.3,382.4 1624.9,382.0 1625.5,381.2 1626.0,380.7 1626.6,382.8 1627.2,381.5 1627.8,380.9 1628.4,382.6 1628.9,382.1 1629.5,381.4 1630.1,382.3 1630.7,381.4 1631.3,382.0 1631.8,383.3 1632.4,382.8 1633.0,381.7 1633.6,382.6 1634.2,383.1 1634.7,382.1 1635.3,381.9 1635.9,383.8 1636.5,382.1 1637.1,381.2 1637.6,382.4 1638.2,384.2 1638.8,382.8 1639.4,383.1 1640.0,380.5 1640.5,381.8 1641.1,383.3 1641.7,382.0 1642.3,383.5 1642.9,382.8 1643.4,382.6 1644.0,383.5 1644.6,381.4 1645.2,381.0 1645.8,380.9 1646.3,380.3 1646.9,377.8 1647.5,379.5 1648.1,377.8 1648.7,376.5 1649.2,376.2 1649.8,374.2 1650.4,374.5 1651.0,372.3 1651.6,371.7 1652.1,369.0 1652.7,368.7 1653.3,368.6 1653.9,367.2 1654.5,367.7 1655.0,369.0 1655.6,371.2 1656.2,372.2 1656.8,373.9 1657.4,374.9 1657.9,376.9 1658.5,378.9 1659.1,379.0 1659.7,380.2 1660.3,381.2 1660.8,379.6 1661.4,381.6 1662.0,382.3 1662.6,382.8 1663.2,382.2 1663.7,383.5 1664.3,382.6 1664.9,383.4 1665.5,385.3 1666.1,383.4 1666.6,384.8 1667.2,385.1 1667.8,385.3 1668.4,385.2 1669.0,386.2 1669.5,384.9 1670.1,384.7 1670.7,386.2 1671.3,385.0 1671.9,386.3 1672.4,386.2 1673.0,385.9 1673.6,386.3 1674.2,386.7 1674.8,387.2 1675.3,386.4 1675.9,386.9 1676.5,386.1 1677.1,387.1 1677.7,386.0 1678.2,387.6 1678.8,387.3 1679.4,389.2 1680.0,388.5 1680.6,387.2 1681.1,387.8 1681.7,387.0 1682.3,385.6 1682.9,384.4 1683.5,386.9 1684.0,386.2 1684.6,384.3 1685.2,386.4 1685.8,386.7 1686.4,385.6 1686.9,386.9 1687.5,385.1 1688.1,386.4 1688.7,386.6 1689.3,387.2 1689.8,386.8 1690.4,386.5 1691.0,386.6 1691.6,385.5 1692.2,386.9 1692.7,385.3 1693.3,386.0 1693.9,385.3 1694.5,385.0 1695.1,385.6 1695.6,385.5 1696.2,386.2 1696.8,385.9 1697.4,384.7 1698.0,385.6 1698.5,385.3 1699.1,384.7 1699.7,384.5 1700.3,385.6 1700.9,385.0 1701.4,384.3 1702.0,385.4 1702.6,385.7 1703.2,385.7 1703.8,384.8 1704.3,385.4 1704.9,387.0 1705.5,385.4 1706.1,385.7 1706.7,387.8 1707.2,386.1 1707.8,385.3 1708.4,384.0 1709.0,385.6 1709.6,384.2 1710.1,385.1 1710.7,384.4 1711.3,383.8 1711.9,386.4 1712.5,385.1 1713.0,386.0 1713.6,386.0 1714.2,385.0 1714.8,385.8 1715.4,385.5 1715.9,386.6 1716.5,386.1 1717.1,385.4 1717.7,386.9 1718.3,385.9 1718.8,385.8 1719.4,384.9 1720.0,385.9 1720.6,384.6 1721.2,386.3 1721.7,385.3 1722.3,386.3 1722.9,385.9 1723.5,386.2 1724.1,386.2 1724.6,385.8 1725.2,385.6 1725.8,384.3 1726.4,383.9 1727.0,386.2 1727.5,385.4 1728.1,383.5 1728.7,385.9 1729.3,383.7 1729.9,384.5 1730.4,384.4 1731.0,384.2 1731.6,384.8 1732.2,383.4 1732.8,384.8 1733.3,384.9 1733.9,385.4 1734.5,385.3 1735.1,385.2 1735.7,385.2 1736.2,386.6 1736.8,385.3 1737.4,386.1 1738.0,386.2 1738.6,385.8 1739.1,386.1 1739.7,386.1 1740.3,385.2 1740.9,385.9 1741.5,387.2 1742.0,385.0 1742.6,385.7 1743.2,385.5 1743.8,387.8 1744.4,385.2 1744.9,386.2 1745.5,386.8 1746.1,385.3 1746.7,385.7 1747.3,385.1 1747.8,384.6 1748.4,385.5 1749.0,385.9 1749.6,385.1 1750.2,385.4 1750.7,385.6 1751.3,385.7 1751.9,383.4 1752.5,384.5 1753.1,383.2 1753.6,381.8 1754.2,382.4 1754.8,383.3 1755.4,382.7 1756.0,381.2 1756.5,383.1 1757.1,381.6 1757.7,380.7 1758.3,379.7 1758.9,379.9 1759.4,378.5 1760.0,379.3 1760.6,378.1 1761.2,378.2 1761.8,377.3 1762.3,376.6 1762.9,378.9 1763.5,378.3 1764.1,380.0 1764.7,381.0 1765.2,381.3 1765.8,383.5 1766.4,382.3 1767.0,385.2 1767.6,383.9 1768.1,385.4 1768.7,385.9 1769.3,384.4 1769.9,384.8 1770.5,386.4 1771.0,386.2 1771.6,386.6 1772.2,385.6 1772.8,386.3 1773.4,388.3 1773.9,389.3 1774.5,388.0 1775.1,388.0 1775.7,388.9 1776.3,389.1 1776.8,389.2 1777.4,388.3 1778.0,387.2 1778.6,389.6 1779.2,388.2 1779.7,389.5 1780.3,387.1 1780.9,389.0 1781.5,388.4 1782.1,388.1 1782.6,389.7 1783.2,390.0 1783.8,388.7 1784.4,389.6 1785.0,388.3 1785.5,388.5 1786.1,388.7 1786.7,388.5 1787.3,389.2 1787.9,387.8 1788.4,389.5 1789.0,389.6 1789.6,388.8 1790.2,388.2 1790.8,387.5 1791.3,389.3 1791.9,388.9 1792.5,389.5 1793.1,388.6 1793.7,389.2 1794.2,389.1 1794.8,389.1 1795.4,389.3 1796.0,389.4 1796.6,390.0 1797.1,388.8 1797.7,389.9 1798.3,389.5 1798.9,389.0 1799.5,388.3 1800.0,389.8 1800.6,388.5 1801.2,387.6 1801.8,387.7 1802.4,387.5 1802.9,387.0 1803.5,386.4 1804.1,387.6 1804.7,387.5 1805.3,387.5 1805.8,388.5 1806.4,386.9 1807.0,387.2 1807.6,388.0 1808.2,388.5 1808.7,388.3 1809.3,388.4 1809.9,386.4 1810.5,388.4 1811.1,388.5 1811.6,388.8 1812.2,387.9 1812.8,388.9 1813.4,389.4 1814.0,390.0 1814.5,389.1 1815.1,388.0 1815.7,389.1 1816.3,389.5 1816.9,389.4 1817.4,390.3 1818.0,388.8 1818.6,388.2 1819.2,388.5 1819.8,389.5 1820.3,388.5 1820.9,388.4 1821.5,388.6 1822.1,390.2 1822.7,389.6 1823.2,389.2 1823.8,390.1 1824.4,390.0 1825.0,388.8 1825.6,390.1 1826.1,389.7 1826.7,388.0 1827.3,388.6 1827.9,389.7 1828.5,389.8 1829.0,389.1 1829.6,389.2 1830.2,389.3 1830.8,387.7 1831.4,389.3 1831.9,388.7 1832.5,388.8 1833.1,388.3 1833.7,389.4 1834.3,387.2 1834.8,388.4 1835.4,389.6 1836.0,388.8 1836.6,390.4 1837.2,389.7 1837.7,388.7 1838.3,389.8 1838.9,388.7 1839.5,388.8 1840.1,387.5 1840.6,387.1 1841.2,387.7 1841.8,386.8 1842.4,385.7 1843.0,385.2 1843.5,385.9 1844.1,386.2 1844.7,383.6 1845.3,384.2 1845.9,380.6 1846.4,381.1 1847.0,381.9 1847.6,381.9 1848.2,379.8 1848.8,379.4 1849.3,378.4 1849.9,378.5 1850.5,376.4 1851.1,378.0 1851.7,377.5 1852.2,378.3 1852.8,379.4 1853.4,380.3 1854.0,380.9 1854.6,382.5 1855.1,382.9 1855.7,385.8 1856.3,386.0 1856.9,385.8 1857.5,387.9 1858.0,388.2 1858.6,388.0 1859.2,387.6 1859.8,388.4 1860.4,388.9 1860.9,389.6 1861.5,388.5 1862.1,388.3 1862.7,390.5 1863.3,389.9 1863.8,389.2 1864.4,388.4 1865.0,389.4 1865.6,389.9 1866.2,389.7 1866.7,389.7 1867.3,389.1 1867.9,389.8 1868.5,388.4 1869.1,388.5 1869.6,388.6 1870.2,388.6 1870.8,390.6 1871.4,388.3 1872.0,390.0 1872.5,389.4 1873.1,389.5 1873.7,390.7 1874.3,389.6 1874.9,390.8 1875.4,392.5 1876.0,390.9 1876.6,391.3 1877.2,390.4 1877.8,391.3 1878.3,389.9 1878.9,391.0 1879.5,390.7 1880.1,392.3 1880.7,390.7 1881.2,390.4 1881.8,390.3 1882.4,389.9 1883.0,391.3 1883.6,391.7 1884.1,390.3 1884.7,390.9 1885.3,390.0 1885.9,390.4 1886.5,390.3 1887.0,389.0 1887.6,389.5 1888.2,390.8 1888.8,389.0 1889.4,390.5 1889.9,390.3 1890.5,390.0 1891.1,390.7 1891.7,390.8 1892.3,390.9 1892.8,388.6 1893.4,391.6 1894.0,390.1 1894.6,391.2 1895.2,390.5 1895.7,390.3 1896.3,390.7 1896.9,393.0 1897.5,391.9 1898.1,390.6 1898.6,391.0 1899.2,391.6 1899.8,391.3 1900.4,390.9 1901.0,390.8 1901.5,390.2 1902.1,391.4 1902.7,391.6 1903.3,392.4 1903.9,390.4 1904.4,391.1 1905.0,390.6 1905.6,391.5 1906.2,390.7 1906.8,390.3 1907.3,389.7 1907.9,391.4 1908.5,391.0 1909.1,391.6 1909.7,390.4 1910.2,392.4 1910.8,389.9 1911.4,390.5 1912.0,390.3 1912.6,390.6 1913.1,389.7 1913.7,389.2 1914.3,389.3 1914.9,390.6 1915.5,390.2 1916.0,390.4 1916.6,389.6 1917.2,390.3 1917.8,390.2 1918.4,390.3 1918.9,388.5 1919.5,388.5 1920.1,389.8 1920.7,387.3 1921.3,386.4 1921.8,384.9 1922.4,382.5 1923.0,381.1 1923.6,380.5 1924.2,377.7 1924.7,378.2 1925.3,373.3 1925.9,371.1 1926.5,370.8 1927.1,368.5 1927.6,369.9 1928.2,367.3 1928.8,368.1 1929.4,366.6 1930.0,369.6 1930.5,370.9 1931.1,373.1 1931.7,373.9 1932.3,376.1 1932.9,377.6 1933.4,379.9 1934.0,380.3 1934.6,382.4 1935.2,382.5 1935.8,384.4 1936.3,384.3 1936.9,384.6 1937.5,385.0 1938.1,387.0 1938.7,385.0 1939.2,385.3 1939.8,387.1 1940.4,386.1 1941.0,386.7 1941.6,386.9 1942.1,389.1 1942.7,387.0 1943.3,387.0 1943.9,387.3 1944.5,387.9 1945.0,388.1 1945.6,386.7 1946.2,388.2 1946.8,389.4 1947.4,386.6 1947.9,388.3 1948.5,388.4 1949.1,387.9 1949.7,387.7 1950.3,386.1 1950.8,388.8 1951.4,387.9 1952.0,388.2 1952.6,389.4 1953.2,387.0 1953.7,388.8 1954.3,389.4 1954.9,389.5 1955.5,389.4 1956.1,390.4 1956.6,389.0 1957.2,389.6 1957.8,389.5 1958.4,388.0 1959.0,388.6 1959.5,390.9 1960.1,389.2 1960.7,389.4 1961.3,388.5 1961.9,389.2 1962.4,388.4 1963.0,388.9 1963.6,389.7 1964.2,388.5 1964.8,388.6 1965.3,389.9 1965.9,389.1 1966.5,389.0 1967.1,389.1 1967.7,387.8 1968.2,387.8 1968.8,386.5 1969.4,388.6 1970.0,388.0 1970.6,388.2 1971.1,387.4 1971.7,388.6 1972.3,388.5 1972.9,387.9 1973.5,386.2 1974.0,386.4 1974.6,386.6 1975.2,385.4 1975.8,385.8 1976.4,385.8 1976.9,383.8 1977.5,383.7 1978.1,382.9 1978.7,384.1 1979.3,384.0 1979.8,385.6 1980.4,383.8 1981.0,383.5 1981.6,385.2 1982.2,385.2 1982.7,385.9 1983.3,387.1 1983.9,386.3 1984.5,387.3 1985.1,385.5 1985.6,388.2 1986.2,387.9 1986.8,387.9 1987.4,388.1 1988.0,389.9 1988.5,388.9 1989.1,390.5 1989.7,389.5 1990.3,390.1 1990.9,390.4 1991.4,391.7 1992.0,390.4 1992.6,390.3 1993.2,389.9 1993.8,389.6 1994.3,389.1 1994.9,390.6 1995.5,390.0 1996.1,387.9 1996.7,388.1 1997.2,386.5 1997.8,387.5 1998.4,386.7 1999.0,385.7 1999.6,384.5 2000.1,385.2 2000.7,384.7 2001.3,383.7 2001.9,384.3 2002.5,382.5 2003.0,383.2 2003.6,383.1 2004.2,384.4 2004.8,386.1 2005.4,385.4 2005.9,386.9 2006.5,386.7 2007.1,387.0 2007.7,388.6 2008.3,388.7 2008.8,389.7 2009.4,389.6 2010.0,388.4 2010.6,387.1 2011.2,389.1 2011.7,388.2 2012.3,388.1 2012.9,388.1 2013.5,388.8 2014.1,389.1 2014.6,389.3 2015.2,390.8 2015.8,388.4 2016.4,389.1 2017.0,388.0 2017.5,387.9 2018.1,388.3 2018.7,388.1 2019.3,386.4 2019.9,387.9 2020.4,385.9 2021.0,386.9 2021.6,385.7 2022.2,386.0 2022.8,385.4 2023.3,384.6 2023.9,385.2 2024.5,383.9 2025.1,384.3 2025.7,385.5 2026.2,387.4 2026.8,386.2 2027.4,386.9 2028.0,389.0 2028.6,388.1 2029.1,388.3 2029.7,387.6 2030.3,388.5 2030.9,388.9 2031.5,388.4 2032.0,389.1 2032.6,388.9 2033.2,389.5 2033.8,389.6 2034.4,389.1 2034.9,390.1 2035.5,391.0 2036.1,390.1 2036.7,389.2 2037.3,390.3 2037.8,390.1 2038.4,392.0 2039.0,390.6 2039.6,389.1 2040.2,389.7 2040.7,390.7 2041.3,388.7 2041.9,389.1 2042.5,389.3 2043.1,389.1 2043.6,388.7 2044.2,389.2 2044.8,388.0 2045.4,388.4 2046.0,388.3 2046.5,388.5 2047.1,388.4 2047.7,388.6 2048.3,388.3 2048.9,388.2 2049.4,388.7 2050.0,389.1 2050.6,389.0 2051.2,387.2 2051.8,388.0 2052.3,388.0 2052.9,386.8 2053.5,386.9 2054.1,385.9 2054.7,385.9 2055.2,383.9 2055.8,384.9 2056.4,383.4 2057.0,382.4 2057.6,381.9 2058.1,382.1 2058.7,381.2 2059.3,380.0 2059.9,380.1 2060.5,378.9 2061.0,378.5 2061.6,378.5 2062.2,380.8 2062.8,381.6 2063.4,382.6 2063.9,383.5 2064.5,385.2 2065.1,384.2 2065.7,384.9 2066.3,387.4 2066.8,386.9 2067.4,386.5 2068.0,385.5 2068.6,386.7 2069.2,387.4 2069.7,387.9 2070.3,388.5 2070.9,388.4 2071.5,389.7 2072.1,388.2 2072.6,389.0 2073.2,388.7 2073.8,389.8 2074.4,389.4 2075.0,389.9 2075.5,389.5 2076.1,392.2 2076.7,390.1 2077.3,389.1 2077.9,389.7 2078.4,389.4 2079.0,390.2 2079.6,390.3 2080.2,389.9 2080.8,389.4 2081.3,389.1 2081.9,390.7 2082.5,390.3 2083.1,387.5 2083.7,389.6 2084.2,389.0 2084.8,389.3 2085.4,390.7 2086.0,388.7 2086.6,388.7 2087.1,391.3 2087.7,389.2 2088.3,389.5 2088.9,390.5 2089.5,389.4 2090.0,389.8 2090.6,389.9 2091.2,390.8 2091.8,388.6 2092.4,389.2 2092.9,389.8 2093.5,390.6 2094.1,389.5 2094.7,390.4 2095.3,389.8 2095.8,389.9 2096.4,391.0 2097.0,389.7 2097.6,391.7 2098.2,389.5 2098.7,389.6 2099.3,388.9 2099.9,386.6 2100.5,386.0 2101.1,386.9 2101.6,385.1 2102.2,385.0 2102.8,384.6 2103.4,383.7 2104.0,384.9 2104.5,384.3 2105.1,383.6 2105.7,383.9 2106.3,382.9 2106.9,384.8 2107.4,384.0 2108.0,386.6 2108.6,385.5 2109.2,386.3 2109.8,388.3 2110.3,388.5 2110.9,387.8 2111.5,389.3 2112.1,389.1 2112.7,389.3 2113.2,389.7 2113.8,389.7 2114.4,389.8 2115.0,389.3 2115.6,389.1 2116.1,388.6 2116.7,389.7 2117.3,388.0 2117.9,390.0 2118.5,390.3 2119.0,390.4 2119.6,389.0 2120.2,390.8 2120.8,390.4 2121.4,390.6 2121.9,392.5 2122.5,390.5 2123.1,391.0 2123.7,389.9 2124.3,389.2 2124.8,391.0 2125.4,391.1 2126.0,391.1 2126.6,390.6 2127.2,388.7 2127.7,390.2 2128.3,390.6 2128.9,390.8 2129.5,389.1 2130.1,389.3 2130.6,389.5 2131.2,389.7 2131.8,389.1 2132.4,389.8 2133.0,391.4 2133.5,389.5 2134.1,388.9 2134.7,388.4 2135.3,389.9 2135.9,390.7 2136.4,389.8 2137.0,390.3 2137.6,389.8 2138.2,389.7 2138.8,390.5 2139.3,390.2 2139.9,390.0 2140.5,390.4 2141.1,389.4 2141.7,390.1 2142.2,390.3 2142.8,391.1 2143.4,388.9 2144.0,390.1 2144.6,390.7 2145.1,389.9 2145.7,390.4 2146.3,390.7 2146.9,390.5 2147.5,388.9 2148.0,389.1 2148.6,387.8 2149.2,390.2 2149.8,389.7 2150.4,390.4 2150.9,389.4 2151.5,388.6 2152.1,390.3 2152.7,388.7 2153.3,389.8 2153.8,389.8 2154.4,390.6 2155.0,390.7 2155.6,389.6 2156.2,389.3 2156.7,389.6 2157.3,389.1 2157.9,390.1 2158.5,389.6 2159.1,390.4 2159.6,391.3 2160.2,388.9 2160.8,389.2 2161.4,390.0 2162.0,390.0 2162.5,389.5 2163.1,388.5 2163.7,391.6 2164.3,389.9 2164.9,389.0 2165.4,388.1 2166.0,390.8 2166.6,390.0 2167.2,389.8 2167.8,389.0 2168.3,389.6 2168.9,389.4 2169.5,387.9 2170.1,391.6 2170.7,389.9 2171.2,389.3 2171.8,388.8 2172.4,389.0 2173.0,391.1 2173.6,389.4 2174.1,388.0 2174.7,389.6 2175.3,389.4 2175.9,389.5 2176.5,389.2 2177.0,389.4 2177.6,389.8 2178.2,389.6 2178.8,388.8 2179.4,389.2 2179.9,390.0 2180.5,388.8 2181.1,389.9 2181.7,389.7 2182.3,390.3 2182.8,389.8 2183.4,389.2 2184.0,389.0 2184.6,389.4 2185.2,389.5 2185.7,387.9 2186.3,387.5 2186.9,388.1 2187.5,386.9 2188.1,388.1 2188.6,389.3 2189.2,389.5 2189.8,389.9 2190.4,388.9 2191.0,388.9 2191.5,388.4 2192.1,388.6 2192.7,389.3 2193.3,389.8 2193.9,389.5 2194.4,387.7 2195.0,389.6 2195.6,389.2 2196.2,392.5 2196.8,389.2 2197.3,389.8 2197.9,389.2 2198.5,388.6 2199.1,391.7 2199.7,388.8"/>
</g>
<g fill="none" stroke="#000" stroke-linejoin="round" stroke-linecap="round">
<path stroke-width="5.2" d="M169.4 24.3H2201.2V1389.3H169.4Z"/>
<path stroke-width="5.4" d="M242.3 1389.3V1375.7M314.8 1389.3V1362.8M387.4 1389.3V1375.7M459.9 1389.3V1362.8M532.5 1389.3V1375.7M605.1 1389.3V1362.8M677.6 1389.3V1375.7M750.2 1389.3V1362.8M822.7 1389.3V1375.7M895.3 1389.3V1362.8M967.9 1389.3V1375.7M1040.4 1389.3V1362.8M1113.0 1389.3V1375.7M1185.5 1389.3V1362.8M1258.1 1389.3V1375.7M1330.7 1389.3V1362.8M1403.2 1389.3V1375.7M1475.8 1389.3V1362.8M1548.3 1389.3V1375.7M1620.9 1389.3V1362.8M1693.5 1389.3V1375.7M1766.0 1389.3V1362.8M1838.6 1389.3V1375.7M1911.1 1389.3V1362.8M1983.7 1389.3V1375.7M2056.3 1389.3V1362.8M2128.8 1389.3V1375.7"/>
</g>
<g font-size="54.2" text-anchor="middle">
<text transform="translate(170.5 1457.3) scale(1.060 1)">10</text>
<text transform="translate(314.0 1457.3) scale(1.015 1)">15</text>
<text transform="translate(459.7 1457.3) scale(1.060 1)">20</text>
<text transform="translate(603.3 1457.3) scale(1.015 1)">25</text>
<text transform="translate(750.0 1457.3) scale(1.060 1)">30</text>
<text transform="translate(893.5 1457.3) scale(1.015 1)">35</text>
<text transform="translate(1040.2 1457.3) scale(1.060 1)">40</text>
<text transform="translate(1183.7 1457.3) scale(1.015 1)">45</text>
<text transform="translate(1330.5 1457.3) scale(1.060 1)">50</text>
<text transform="translate(1474.0 1457.3) scale(1.015 1)">55</text>
<text transform="translate(1620.7 1457.3) scale(1.060 1)">60</text>
<text transform="translate(1764.2 1457.3) scale(1.015 1)">65</text>
<text transform="translate(1910.9 1457.3) scale(1.060 1)">70</text>
<text transform="translate(2054.5 1457.3) scale(1.015 1)">75</text>
<text transform="translate(2201.2 1457.3) scale(1.060 1)">80</text>
</g>
<text transform="translate(1001.24 1591.10) scale(1.113 1)" font-size="114.2">2</text>
<text transform="translate(1061.43 1591.89) scale(1.095 1)" font-size="111.0">θ</text>
<text transform="translate(1118.90 1591.81) scale(0.989 1)" font-size="119.1">/</text>
<text transform="translate(1164.42 1581.67) scale(1.163 1)" font-size="83.9" style='font-family:"Noto Serif CJK SC","Liberation Serif",serif'>(</text>
<text transform="translate(1202.63 1606.78) scale(1.081 1)" font-size="121.9" style='font-family:"Noto Serif CJK SC","Liberation Serif",serif'>°</text>
<text transform="translate(1261.89 1575.92) scale(1.622 1)" font-size="84.6" style='font-family:"Noto Serif CJK SC","Liberation Serif",serif'>)</text>
<text transform="translate(2115.57 360.02) scale(1.142 1)" font-size="63.2">d)</text>
<text transform="translate(2120.69 527.39) scale(1.158 1)" font-size="62.9">c)</text>
<text transform="translate(2112.00 684.52) scale(1.145 1)" font-size="63.2">b)</text>
<text transform="translate(2119.07 969.08) scale(1.134 1)" font-size="63.9">a)</text>
<text transform="translate(2119.29 1279.47) scale(1.122 1)" font-size="64.9">e)</text>
<text transform="translate(1904.92 128.36) scale(1.136 1)" font-size="64.0">Pd</text>
<text transform="translate(1980.18 153.34) scale(1.135 1)" font-size="35.7">3</text>
<text transform="translate(2000.54 128.40) scale(1.144 1)" font-size="66.0">P</text>
<text transform="translate(1901.62 215.27) scale(1.159 1)" font-size="62.7">Pd</text>
<text transform="translate(1866.01 123.69) scale(0.881 1)" font-size="44.2" style='font-family:"DejaVu Sans",sans-serif'>◆</text>
<text transform="translate(1874.35 205.75) scale(1.078 1)" font-size="27.9" style='font-family:"DejaVu Sans",sans-serif'>●</text>
<text transform="translate(99.85 1023.3) rotate(-90) scale(1 1.12)" font-size="105.9">Intensity/a.u.</text>
</svg></body></html>
